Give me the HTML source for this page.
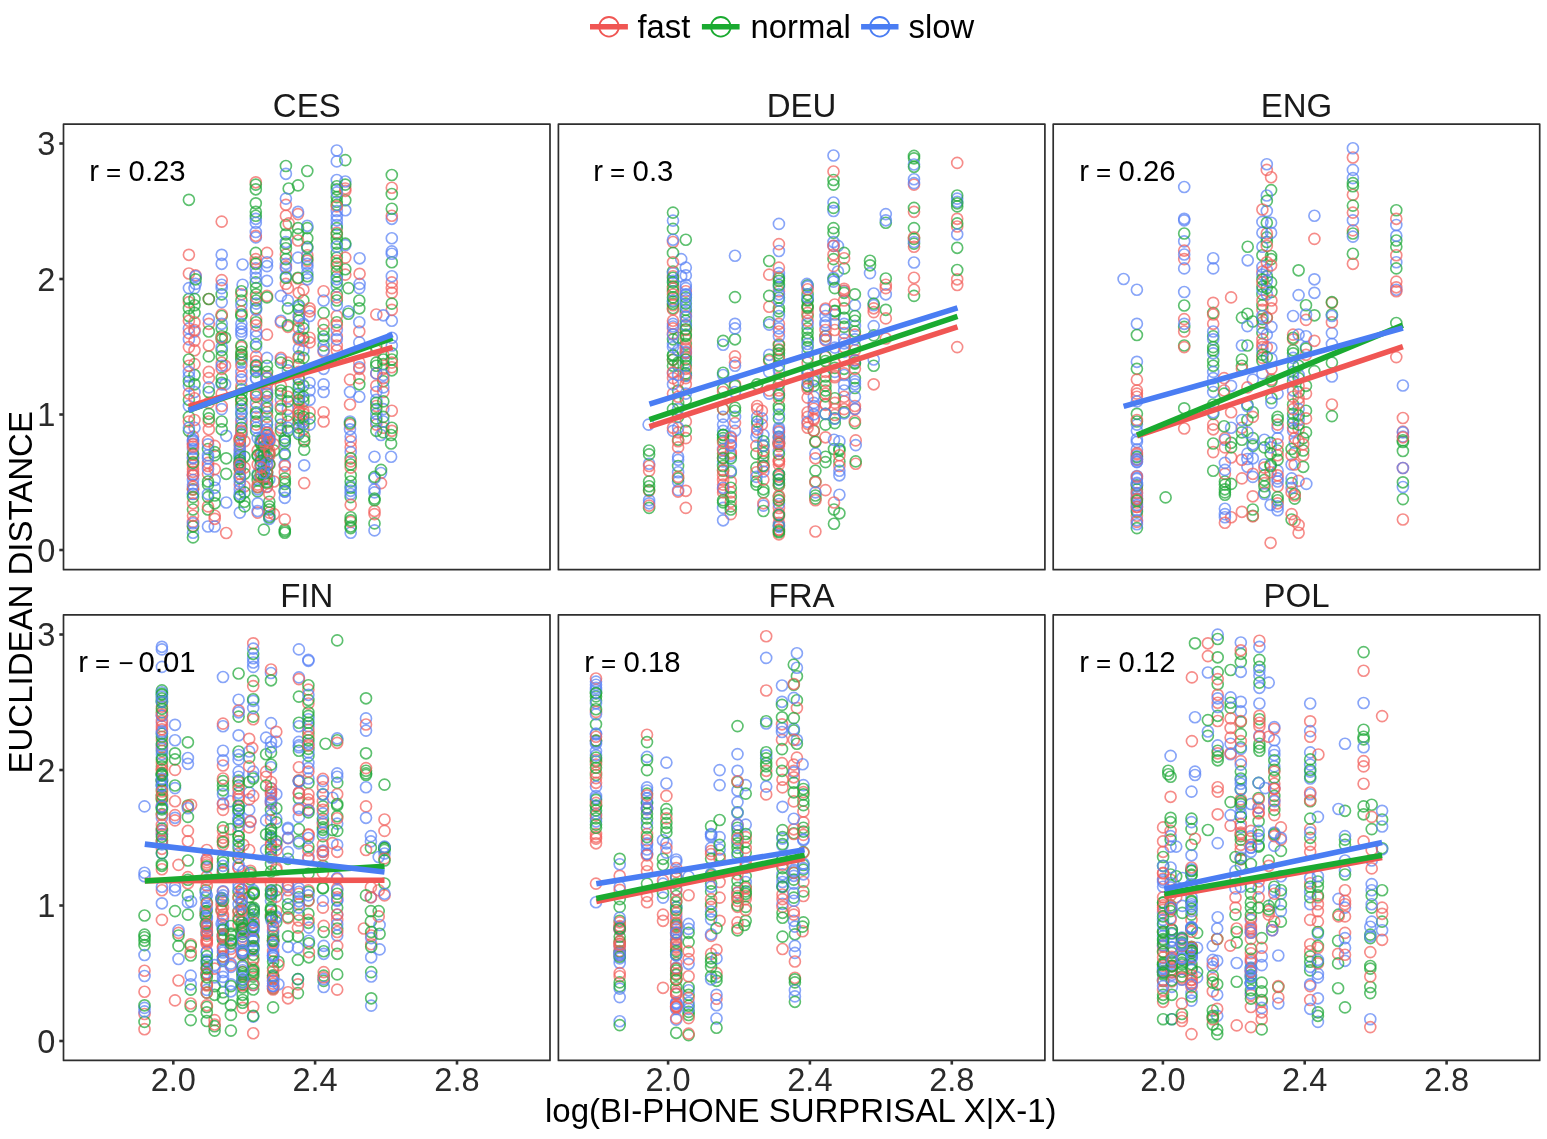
<!DOCTYPE html>
<html lang="en"><head><meta charset="utf-8"><title>Euclidean distance vs. bi-phone surprisal</title>
<style>html,body{margin:0;padding:0;background:#fff}body{width:1547px;height:1139px;overflow:hidden;font-family:"Liberation Sans",Arial,sans-serif}svg{display:block}.pts circle{fill:none;stroke-width:1.65px;stroke-opacity:.72}.f{stroke:#F25F5C}.n{stroke:#1FA838}.s{stroke:#5A82F5}</style>
</head><body>
<svg width="1547" height="1139" viewBox="0 0 1547 1139" font-family="Liberation Sans, Arial, sans-serif">
<rect width="1547" height="1139" fill="#fff"/>
<g class="pts">
<circle class="n" cx="257.7" cy="480.0" r="5.5"/><circle class="f" cx="267.0" cy="252.9" r="5.5"/><circle class="s" cx="188.9" cy="328.4" r="5.5"/><circle class="f" cx="214.7" cy="515.7" r="5.5"/><circle class="f" cx="287.9" cy="288.1" r="5.5"/><circle class="n" cx="267.0" cy="424.6" r="5.5"/><circle class="f" cx="285.9" cy="254.5" r="5.5"/><circle class="n" cx="374.5" cy="523.4" r="5.5"/><circle class="n" cx="307.3" cy="171.0" r="5.5"/><circle class="f" cx="359.3" cy="331.5" r="5.5"/><circle class="f" cx="304.2" cy="439.7" r="5.5"/><circle class="s" cx="280.9" cy="399.8" r="5.5"/><circle class="f" cx="307.3" cy="255.2" r="5.5"/><circle class="n" cx="273.9" cy="450.5" r="5.5"/><circle class="n" cx="256.1" cy="308.3" r="5.5"/><circle class="f" cx="303.4" cy="429.3" r="5.5"/><circle class="n" cx="336.8" cy="252.9" r="5.5"/><circle class="f" cx="239.8" cy="444.3" r="5.5"/><circle class="n" cx="226.2" cy="473.8" r="5.5"/><circle class="s" cx="241.4" cy="334.6" r="5.5"/><circle class="s" cx="226.2" cy="435.8" r="5.5"/><circle class="s" cx="336.8" cy="286.6" r="5.5"/><circle class="f" cx="239.8" cy="484.6" r="5.5"/><circle class="f" cx="267.0" cy="465.8" r="5.5"/><circle class="f" cx="350.7" cy="447.4" r="5.5"/><circle class="n" cx="239.8" cy="462.9" r="5.5"/><circle class="n" cx="336.8" cy="276.2" r="5.5"/><circle class="n" cx="284.8" cy="481.5" r="5.5"/><circle class="n" cx="350.7" cy="497.1" r="5.5"/><circle class="n" cx="241.4" cy="399.8" r="5.5"/><circle class="f" cx="376.3" cy="373.4" r="5.5"/><circle class="s" cx="241.4" cy="424.6" r="5.5"/><circle class="f" cx="208.0" cy="462.9" r="5.5"/><circle class="n" cx="260.8" cy="443.0" r="5.5"/><circle class="s" cx="193.0" cy="457.4" r="5.5"/><circle class="f" cx="350.0" cy="379.6" r="5.5"/><circle class="f" cx="241.4" cy="402.9" r="5.5"/><circle class="f" cx="298.0" cy="214.1" r="5.5"/><circle class="f" cx="267.0" cy="447.6" r="5.5"/><circle class="n" cx="298.8" cy="305.2" r="5.5"/><circle class="n" cx="307.3" cy="238.2" r="5.5"/><circle class="f" cx="241.4" cy="421.5" r="5.5"/><circle class="n" cx="303.4" cy="401.4" r="5.5"/><circle class="f" cx="391.8" cy="367.2" r="5.5"/><circle class="f" cx="323.6" cy="421.5" r="5.5"/><circle class="f" cx="193.0" cy="521.9" r="5.5"/><circle class="s" cx="336.8" cy="150.5" r="5.5"/><circle class="n" cx="383.3" cy="432.4" r="5.5"/><circle class="f" cx="323.6" cy="291.2" r="5.5"/><circle class="n" cx="323.6" cy="345.5" r="5.5"/><circle class="n" cx="267.0" cy="444.9" r="5.5"/><circle class="f" cx="256.1" cy="407.6" r="5.5"/><circle class="n" cx="241.4" cy="357.9" r="5.5"/><circle class="f" cx="298.8" cy="402.9" r="5.5"/><circle class="s" cx="260.8" cy="476.9" r="5.5"/><circle class="f" cx="298.8" cy="317.6" r="5.5"/><circle class="n" cx="304.2" cy="441.2" r="5.5"/><circle class="f" cx="244.5" cy="486.2" r="5.5"/><circle class="f" cx="298.0" cy="278.5" r="5.5"/><circle class="f" cx="267.0" cy="378.3" r="5.5"/><circle class="s" cx="221.7" cy="384.3" r="5.5"/><circle class="f" cx="256.1" cy="367.2" r="5.5"/><circle class="n" cx="336.8" cy="204.8" r="5.5"/><circle class="f" cx="285.9" cy="283.9" r="5.5"/><circle class="n" cx="298.8" cy="337.7" r="5.5"/><circle class="n" cx="241.4" cy="359.5" r="5.5"/><circle class="s" cx="241.4" cy="418.4" r="5.5"/><circle class="s" cx="383.3" cy="409.1" r="5.5"/><circle class="s" cx="323.6" cy="384.3" r="5.5"/><circle class="n" cx="239.8" cy="466.0" r="5.5"/><circle class="n" cx="285.9" cy="225.0" r="5.5"/><circle class="f" cx="255.8" cy="182.3" r="5.5"/><circle class="s" cx="303.4" cy="350.2" r="5.5"/><circle class="f" cx="359.3" cy="362.6" r="5.5"/><circle class="s" cx="345.3" cy="245.1" r="5.5"/><circle class="n" cx="298.8" cy="320.7" r="5.5"/><circle class="n" cx="267.0" cy="435.2" r="5.5"/><circle class="s" cx="221.7" cy="409.1" r="5.5"/><circle class="f" cx="208.8" cy="421.5" r="5.5"/><circle class="n" cx="298.8" cy="356.4" r="5.5"/><circle class="f" cx="208.0" cy="466.0" r="5.5"/><circle class="n" cx="350.7" cy="487.7" r="5.5"/><circle class="s" cx="298.8" cy="316.0" r="5.5"/><circle class="n" cx="256.1" cy="412.2" r="5.5"/><circle class="n" cx="336.8" cy="322.2" r="5.5"/><circle class="s" cx="359.3" cy="396.7" r="5.5"/><circle class="f" cx="336.8" cy="350.2" r="5.5"/><circle class="n" cx="256.1" cy="421.5" r="5.5"/><circle class="f" cx="280.9" cy="385.8" r="5.5"/><circle class="n" cx="336.8" cy="282.4" r="5.5"/><circle class="f" cx="193.0" cy="469.1" r="5.5"/><circle class="n" cx="263.9" cy="478.4" r="5.5"/><circle class="f" cx="239.8" cy="449.1" r="5.5"/><circle class="n" cx="336.8" cy="197.1" r="5.5"/><circle class="n" cx="345.3" cy="160.1" r="5.5"/><circle class="f" cx="269.3" cy="463.6" r="5.5"/><circle class="n" cx="323.6" cy="312.9" r="5.5"/><circle class="n" cx="255.8" cy="282.4" r="5.5"/><circle class="s" cx="298.8" cy="420.0" r="5.5"/><circle class="n" cx="221.7" cy="429.3" r="5.5"/><circle class="n" cx="257.7" cy="456.0" r="5.5"/><circle class="n" cx="193.0" cy="489.3" r="5.5"/><circle class="s" cx="194.5" cy="427.7" r="5.5"/><circle class="n" cx="298.8" cy="393.6" r="5.5"/><circle class="s" cx="284.8" cy="455.2" r="5.5"/><circle class="f" cx="257.7" cy="450.5" r="5.5"/><circle class="f" cx="336.8" cy="316.0" r="5.5"/><circle class="n" cx="345.3" cy="200.2" r="5.5"/><circle class="s" cx="309.6" cy="390.5" r="5.5"/><circle class="n" cx="303.4" cy="300.5" r="5.5"/><circle class="s" cx="323.6" cy="392.0" r="5.5"/><circle class="f" cx="391.8" cy="292.8" r="5.5"/><circle class="f" cx="345.3" cy="274.6" r="5.5"/><circle class="n" cx="267.0" cy="412.2" r="5.5"/><circle class="f" cx="298.8" cy="409.1" r="5.5"/><circle class="n" cx="336.8" cy="238.9" r="5.5"/><circle class="s" cx="376.3" cy="392.0" r="5.5"/><circle class="n" cx="260.8" cy="452.9" r="5.5"/><circle class="n" cx="298.8" cy="415.3" r="5.5"/><circle class="s" cx="323.6" cy="339.3" r="5.5"/><circle class="n" cx="260.8" cy="465.2" r="5.5"/><circle class="s" cx="214.7" cy="526.5" r="5.5"/><circle class="s" cx="285.9" cy="263.8" r="5.5"/><circle class="n" cx="263.9" cy="439.3" r="5.5"/><circle class="n" cx="336.8" cy="300.5" r="5.5"/><circle class="s" cx="257.7" cy="473.7" r="5.5"/><circle class="n" cx="391.1" cy="443.5" r="5.5"/><circle class="f" cx="263.9" cy="477.0" r="5.5"/><circle class="n" cx="284.8" cy="531.2" r="5.5"/><circle class="f" cx="241.4" cy="294.3" r="5.5"/><circle class="s" cx="221.7" cy="254.8" r="5.5"/><circle class="n" cx="208.0" cy="509.5" r="5.5"/><circle class="s" cx="214.7" cy="480.0" r="5.5"/><circle class="s" cx="193.0" cy="532.7" r="5.5"/><circle class="f" cx="280.9" cy="322.2" r="5.5"/><circle class="n" cx="267.0" cy="408.3" r="5.5"/><circle class="s" cx="336.8" cy="180.0" r="5.5"/><circle class="f" cx="241.4" cy="347.1" r="5.5"/><circle class="s" cx="267.0" cy="472.5" r="5.5"/><circle class="n" cx="260.8" cy="441.2" r="5.5"/><circle class="n" cx="345.3" cy="269.2" r="5.5"/><circle class="f" cx="391.8" cy="187.7" r="5.5"/><circle class="n" cx="391.8" cy="262.2" r="5.5"/><circle class="n" cx="256.1" cy="294.3" r="5.5"/><circle class="f" cx="193.0" cy="436.6" r="5.5"/><circle class="f" cx="194.5" cy="364.1" r="5.5"/><circle class="n" cx="208.0" cy="449.0" r="5.5"/><circle class="f" cx="208.8" cy="371.9" r="5.5"/><circle class="n" cx="221.7" cy="294.3" r="5.5"/><circle class="f" cx="269.3" cy="455.5" r="5.5"/><circle class="n" cx="221.7" cy="316.0" r="5.5"/><circle class="s" cx="239.8" cy="458.3" r="5.5"/><circle class="n" cx="287.9" cy="421.5" r="5.5"/><circle class="s" cx="193.0" cy="440.4" r="5.5"/><circle class="s" cx="298.8" cy="306.7" r="5.5"/><circle class="s" cx="267.0" cy="390.5" r="5.5"/><circle class="n" cx="284.8" cy="532.7" r="5.5"/><circle class="n" cx="383.3" cy="381.2" r="5.5"/><circle class="s" cx="263.9" cy="465.5" r="5.5"/><circle class="n" cx="307.3" cy="228.1" r="5.5"/><circle class="s" cx="374.5" cy="478.4" r="5.5"/><circle class="s" cx="359.3" cy="322.2" r="5.5"/><circle class="f" cx="376.3" cy="424.6" r="5.5"/><circle class="f" cx="221.7" cy="362.6" r="5.5"/><circle class="f" cx="285.9" cy="266.9" r="5.5"/><circle class="f" cx="221.7" cy="221.6" r="5.5"/><circle class="s" cx="239.8" cy="512.6" r="5.5"/><circle class="n" cx="257.7" cy="491.4" r="5.5"/><circle class="f" cx="383.3" cy="427.7" r="5.5"/><circle class="n" cx="336.8" cy="257.6" r="5.5"/><circle class="s" cx="307.3" cy="273.1" r="5.5"/><circle class="n" cx="260.8" cy="443.7" r="5.5"/><circle class="s" cx="350.7" cy="494.0" r="5.5"/><circle class="n" cx="307.3" cy="276.2" r="5.5"/><circle class="n" cx="188.9" cy="199.8" r="5.5"/><circle class="f" cx="303.4" cy="289.7" r="5.5"/><circle class="n" cx="208.8" cy="418.4" r="5.5"/><circle class="n" cx="241.4" cy="413.8" r="5.5"/><circle class="n" cx="194.5" cy="312.9" r="5.5"/><circle class="s" cx="391.8" cy="320.7" r="5.5"/><circle class="s" cx="298.8" cy="336.2" r="5.5"/><circle class="s" cx="208.0" cy="526.5" r="5.5"/><circle class="f" cx="383.3" cy="368.8" r="5.5"/><circle class="s" cx="188.9" cy="406.0" r="5.5"/><circle class="s" cx="188.9" cy="339.3" r="5.5"/><circle class="n" cx="241.4" cy="300.5" r="5.5"/><circle class="f" cx="193.0" cy="489.5" r="5.5"/><circle class="n" cx="241.4" cy="434.4" r="5.5"/><circle class="f" cx="193.0" cy="525.9" r="5.5"/><circle class="n" cx="269.3" cy="509.5" r="5.5"/><circle class="s" cx="391.8" cy="218.8" r="5.5"/><circle class="s" cx="285.9" cy="276.2" r="5.5"/><circle class="s" cx="287.9" cy="409.1" r="5.5"/><circle class="s" cx="284.8" cy="464.5" r="5.5"/><circle class="f" cx="241.4" cy="376.5" r="5.5"/><circle class="f" cx="285.9" cy="204.8" r="5.5"/><circle class="n" cx="194.5" cy="305.2" r="5.5"/><circle class="n" cx="241.4" cy="316.0" r="5.5"/><circle class="s" cx="391.8" cy="238.2" r="5.5"/><circle class="s" cx="225.1" cy="384.3" r="5.5"/><circle class="s" cx="381.0" cy="473.0" r="5.5"/><circle class="n" cx="323.6" cy="330.0" r="5.5"/><circle class="n" cx="239.8" cy="455.2" r="5.5"/><circle class="n" cx="256.1" cy="413.7" r="5.5"/><circle class="f" cx="309.6" cy="337.7" r="5.5"/><circle class="f" cx="256.1" cy="319.1" r="5.5"/><circle class="f" cx="267.0" cy="392.7" r="5.5"/><circle class="f" cx="239.8" cy="468.7" r="5.5"/><circle class="s" cx="336.8" cy="225.0" r="5.5"/><circle class="n" cx="298.8" cy="309.8" r="5.5"/><circle class="n" cx="239.8" cy="497.1" r="5.5"/><circle class="f" cx="350.0" cy="404.5" r="5.5"/><circle class="f" cx="298.8" cy="401.0" r="5.5"/><circle class="s" cx="239.8" cy="462.8" r="5.5"/><circle class="s" cx="221.7" cy="288.1" r="5.5"/><circle class="f" cx="391.8" cy="282.4" r="5.5"/><circle class="n" cx="336.8" cy="294.3" r="5.5"/><circle class="n" cx="336.8" cy="201.7" r="5.5"/><circle class="f" cx="350.7" cy="441.2" r="5.5"/><circle class="f" cx="239.8" cy="438.1" r="5.5"/><circle class="f" cx="257.7" cy="512.6" r="5.5"/><circle class="s" cx="193.0" cy="441.7" r="5.5"/><circle class="n" cx="214.7" cy="495.5" r="5.5"/><circle class="f" cx="304.2" cy="483.1" r="5.5"/><circle class="s" cx="350.7" cy="486.2" r="5.5"/><circle class="n" cx="280.9" cy="409.1" r="5.5"/><circle class="s" cx="256.1" cy="365.1" r="5.5"/><circle class="n" cx="381.0" cy="469.9" r="5.5"/><circle class="s" cx="269.3" cy="515.7" r="5.5"/><circle class="f" cx="309.6" cy="412.2" r="5.5"/><circle class="f" cx="280.9" cy="427.7" r="5.5"/><circle class="f" cx="263.9" cy="441.8" r="5.5"/><circle class="f" cx="336.8" cy="345.5" r="5.5"/><circle class="f" cx="376.3" cy="385.8" r="5.5"/><circle class="s" cx="359.3" cy="367.2" r="5.5"/><circle class="n" cx="255.8" cy="252.9" r="5.5"/><circle class="s" cx="263.9" cy="438.4" r="5.5"/><circle class="n" cx="257.7" cy="487.2" r="5.5"/><circle class="s" cx="241.4" cy="413.0" r="5.5"/><circle class="f" cx="303.4" cy="410.7" r="5.5"/><circle class="n" cx="193.0" cy="509.5" r="5.5"/><circle class="n" cx="287.9" cy="365.7" r="5.5"/><circle class="n" cx="244.5" cy="506.4" r="5.5"/><circle class="f" cx="193.0" cy="475.4" r="5.5"/><circle class="s" cx="269.3" cy="479.2" r="5.5"/><circle class="f" cx="376.3" cy="314.5" r="5.5"/><circle class="f" cx="241.4" cy="354.6" r="5.5"/><circle class="s" cx="256.1" cy="378.1" r="5.5"/><circle class="n" cx="263.9" cy="453.3" r="5.5"/><circle class="n" cx="244.5" cy="501.7" r="5.5"/><circle class="f" cx="208.8" cy="299.0" r="5.5"/><circle class="f" cx="269.3" cy="436.2" r="5.5"/><circle class="f" cx="376.3" cy="350.2" r="5.5"/><circle class="n" cx="280.9" cy="390.5" r="5.5"/><circle class="s" cx="391.8" cy="253.7" r="5.5"/><circle class="n" cx="269.3" cy="464.5" r="5.5"/><circle class="f" cx="269.3" cy="438.1" r="5.5"/><circle class="s" cx="359.3" cy="288.1" r="5.5"/><circle class="s" cx="263.9" cy="460.0" r="5.5"/><circle class="s" cx="391.8" cy="251.4" r="5.5"/><circle class="s" cx="255.8" cy="237.4" r="5.5"/><circle class="s" cx="242.6" cy="284.7" r="5.5"/><circle class="f" cx="376.3" cy="406.0" r="5.5"/><circle class="s" cx="284.8" cy="440.4" r="5.5"/><circle class="f" cx="336.8" cy="266.9" r="5.5"/><circle class="s" cx="239.8" cy="453.2" r="5.5"/><circle class="f" cx="298.8" cy="424.6" r="5.5"/><circle class="f" cx="298.8" cy="357.9" r="5.5"/><circle class="n" cx="194.5" cy="375.0" r="5.5"/><circle class="n" cx="285.9" cy="243.6" r="5.5"/><circle class="f" cx="273.9" cy="514.1" r="5.5"/><circle class="s" cx="221.7" cy="302.1" r="5.5"/><circle class="s" cx="383.3" cy="421.5" r="5.5"/><circle class="f" cx="307.3" cy="260.7" r="5.5"/><circle class="n" cx="239.8" cy="441.2" r="5.5"/><circle class="s" cx="256.1" cy="402.9" r="5.5"/><circle class="n" cx="336.8" cy="228.1" r="5.5"/><circle class="n" cx="188.9" cy="399.8" r="5.5"/><circle class="f" cx="381.0" cy="483.1" r="5.5"/><circle class="f" cx="267.0" cy="376.1" r="5.5"/><circle class="n" cx="256.1" cy="300.5" r="5.5"/><circle class="f" cx="195.6" cy="275.4" r="5.5"/><circle class="f" cx="383.3" cy="392.0" r="5.5"/><circle class="n" cx="298.8" cy="399.8" r="5.5"/><circle class="f" cx="267.0" cy="334.6" r="5.5"/><circle class="n" cx="350.7" cy="481.5" r="5.5"/><circle class="n" cx="221.7" cy="339.3" r="5.5"/><circle class="f" cx="267.0" cy="384.3" r="5.5"/><circle class="s" cx="188.9" cy="376.5" r="5.5"/><circle class="s" cx="383.3" cy="387.4" r="5.5"/><circle class="f" cx="298.8" cy="412.1" r="5.5"/><circle class="s" cx="241.4" cy="362.6" r="5.5"/><circle class="n" cx="241.4" cy="351.7" r="5.5"/><circle class="f" cx="221.7" cy="314.5" r="5.5"/><circle class="s" cx="239.8" cy="457.0" r="5.5"/><circle class="s" cx="260.8" cy="457.2" r="5.5"/><circle class="f" cx="287.9" cy="326.9" r="5.5"/><circle class="s" cx="284.8" cy="444.3" r="5.5"/><circle class="f" cx="267.0" cy="401.4" r="5.5"/><circle class="s" cx="350.0" cy="421.5" r="5.5"/><circle class="n" cx="239.8" cy="469.1" r="5.5"/><circle class="f" cx="374.5" cy="514.1" r="5.5"/><circle class="s" cx="298.8" cy="396.7" r="5.5"/><circle class="n" cx="256.1" cy="430.8" r="5.5"/><circle class="n" cx="244.5" cy="473.8" r="5.5"/><circle class="f" cx="188.9" cy="273.5" r="5.5"/><circle class="n" cx="298.8" cy="434.1" r="5.5"/><circle class="f" cx="221.7" cy="406.0" r="5.5"/><circle class="s" cx="267.0" cy="393.9" r="5.5"/><circle class="f" cx="323.6" cy="351.7" r="5.5"/><circle class="s" cx="263.9" cy="453.7" r="5.5"/><circle class="n" cx="298.8" cy="418.0" r="5.5"/><circle class="s" cx="256.1" cy="347.1" r="5.5"/><circle class="s" cx="257.7" cy="489.3" r="5.5"/><circle class="s" cx="193.0" cy="494.0" r="5.5"/><circle class="f" cx="244.5" cy="441.2" r="5.5"/><circle class="n" cx="303.4" cy="396.7" r="5.5"/><circle class="f" cx="350.0" cy="424.6" r="5.5"/><circle class="f" cx="214.7" cy="469.1" r="5.5"/><circle class="s" cx="350.7" cy="436.6" r="5.5"/><circle class="n" cx="221.7" cy="421.5" r="5.5"/><circle class="n" cx="241.4" cy="389.3" r="5.5"/><circle class="s" cx="350.0" cy="429.3" r="5.5"/><circle class="f" cx="336.8" cy="336.2" r="5.5"/><circle class="s" cx="376.3" cy="399.8" r="5.5"/><circle class="n" cx="208.8" cy="356.4" r="5.5"/><circle class="f" cx="273.9" cy="444.3" r="5.5"/><circle class="n" cx="221.7" cy="336.2" r="5.5"/><circle class="s" cx="391.1" cy="456.7" r="5.5"/><circle class="s" cx="255.8" cy="277.7" r="5.5"/><circle class="f" cx="323.6" cy="323.8" r="5.5"/><circle class="f" cx="208.8" cy="323.8" r="5.5"/><circle class="f" cx="280.9" cy="406.0" r="5.5"/><circle class="s" cx="267.0" cy="262.2" r="5.5"/><circle class="f" cx="267.0" cy="295.9" r="5.5"/><circle class="s" cx="257.7" cy="438.1" r="5.5"/><circle class="s" cx="221.7" cy="284.7" r="5.5"/><circle class="s" cx="255.8" cy="268.4" r="5.5"/><circle class="s" cx="188.9" cy="385.8" r="5.5"/><circle class="s" cx="214.7" cy="487.7" r="5.5"/><circle class="f" cx="188.9" cy="347.1" r="5.5"/><circle class="f" cx="188.9" cy="302.1" r="5.5"/><circle class="s" cx="241.4" cy="432.4" r="5.5"/><circle class="n" cx="376.3" cy="365.7" r="5.5"/><circle class="s" cx="267.0" cy="357.9" r="5.5"/><circle class="s" cx="194.5" cy="331.5" r="5.5"/><circle class="n" cx="267.0" cy="456.8" r="5.5"/><circle class="n" cx="336.8" cy="186.2" r="5.5"/><circle class="f" cx="226.2" cy="533.0" r="5.5"/><circle class="s" cx="239.8" cy="489.3" r="5.5"/><circle class="n" cx="193.0" cy="526.5" r="5.5"/><circle class="f" cx="267.0" cy="432.4" r="5.5"/><circle class="n" cx="269.3" cy="453.5" r="5.5"/><circle class="s" cx="239.8" cy="450.5" r="5.5"/><circle class="s" cx="374.5" cy="530.4" r="5.5"/><circle class="s" cx="193.0" cy="523.2" r="5.5"/><circle class="n" cx="263.9" cy="456.0" r="5.5"/><circle class="n" cx="194.5" cy="384.3" r="5.5"/><circle class="s" cx="350.7" cy="452.1" r="5.5"/><circle class="n" cx="298.8" cy="364.6" r="5.5"/><circle class="n" cx="188.9" cy="430.8" r="5.5"/><circle class="s" cx="381.0" cy="435.0" r="5.5"/><circle class="f" cx="193.0" cy="462.0" r="5.5"/><circle class="s" cx="280.9" cy="424.6" r="5.5"/><circle class="n" cx="188.9" cy="416.9" r="5.5"/><circle class="n" cx="303.4" cy="385.8" r="5.5"/><circle class="f" cx="257.7" cy="464.5" r="5.5"/><circle class="n" cx="241.4" cy="400.0" r="5.5"/><circle class="s" cx="303.4" cy="323.8" r="5.5"/><circle class="n" cx="244.5" cy="492.4" r="5.5"/><circle class="s" cx="350.7" cy="532.7" r="5.5"/><circle class="n" cx="221.7" cy="328.4" r="5.5"/><circle class="f" cx="298.8" cy="292.8" r="5.5"/><circle class="f" cx="345.3" cy="190.8" r="5.5"/><circle class="n" cx="267.0" cy="396.7" r="5.5"/><circle class="f" cx="391.8" cy="430.8" r="5.5"/><circle class="n" cx="280.9" cy="418.4" r="5.5"/><circle class="n" cx="284.8" cy="441.2" r="5.5"/><circle class="s" cx="309.6" cy="399.8" r="5.5"/><circle class="s" cx="193.0" cy="474.5" r="5.5"/><circle class="n" cx="391.1" cy="435.0" r="5.5"/><circle class="s" cx="285.9" cy="242.0" r="5.5"/><circle class="n" cx="303.4" cy="424.6" r="5.5"/><circle class="n" cx="391.8" cy="175.0" r="5.5"/><circle class="s" cx="257.7" cy="511.0" r="5.5"/><circle class="s" cx="336.8" cy="305.2" r="5.5"/><circle class="f" cx="267.0" cy="416.9" r="5.5"/><circle class="n" cx="221.7" cy="382.7" r="5.5"/><circle class="n" cx="188.9" cy="381.2" r="5.5"/><circle class="s" cx="239.8" cy="464.3" r="5.5"/><circle class="n" cx="256.1" cy="322.2" r="5.5"/><circle class="s" cx="298.0" cy="257.6" r="5.5"/><circle class="n" cx="284.8" cy="529.6" r="5.5"/><circle class="f" cx="383.3" cy="354.8" r="5.5"/><circle class="n" cx="256.1" cy="396.7" r="5.5"/><circle class="s" cx="280.9" cy="320.7" r="5.5"/><circle class="s" cx="256.1" cy="370.3" r="5.5"/><circle class="n" cx="285.9" cy="234.3" r="5.5"/><circle class="f" cx="214.7" cy="445.9" r="5.5"/><circle class="n" cx="263.9" cy="529.6" r="5.5"/><circle class="s" cx="280.9" cy="359.5" r="5.5"/><circle class="f" cx="208.0" cy="473.8" r="5.5"/><circle class="n" cx="298.0" cy="234.3" r="5.5"/><circle class="n" cx="239.8" cy="478.0" r="5.5"/><circle class="n" cx="350.7" cy="475.3" r="5.5"/><circle class="s" cx="208.8" cy="319.1" r="5.5"/><circle class="f" cx="188.9" cy="421.5" r="5.5"/><circle class="s" cx="374.5" cy="456.7" r="5.5"/><circle class="n" cx="263.9" cy="479.3" r="5.5"/><circle class="f" cx="391.8" cy="288.1" r="5.5"/><circle class="s" cx="359.6" cy="258.3" r="5.5"/><circle class="f" cx="241.4" cy="311.4" r="5.5"/><circle class="s" cx="195.6" cy="283.9" r="5.5"/><circle class="s" cx="267.0" cy="486.6" r="5.5"/><circle class="f" cx="193.0" cy="465.1" r="5.5"/><circle class="f" cx="391.8" cy="215.7" r="5.5"/><circle class="s" cx="285.9" cy="268.4" r="5.5"/><circle class="n" cx="287.9" cy="308.3" r="5.5"/><circle class="n" cx="391.8" cy="359.5" r="5.5"/><circle class="s" cx="336.8" cy="330.0" r="5.5"/><circle class="f" cx="193.0" cy="455.0" r="5.5"/><circle class="f" cx="287.9" cy="362.6" r="5.5"/><circle class="n" cx="188.9" cy="308.3" r="5.5"/><circle class="n" cx="208.0" cy="484.6" r="5.5"/><circle class="n" cx="284.8" cy="438.1" r="5.5"/><circle class="s" cx="239.8" cy="481.5" r="5.5"/><circle class="s" cx="287.9" cy="300.5" r="5.5"/><circle class="f" cx="214.7" cy="518.8" r="5.5"/><circle class="n" cx="255.8" cy="203.3" r="5.5"/><circle class="s" cx="255.8" cy="218.8" r="5.5"/><circle class="s" cx="336.8" cy="339.3" r="5.5"/><circle class="f" cx="255.8" cy="235.8" r="5.5"/><circle class="n" cx="287.9" cy="392.0" r="5.5"/><circle class="n" cx="241.4" cy="354.8" r="5.5"/><circle class="s" cx="391.8" cy="337.7" r="5.5"/><circle class="n" cx="374.5" cy="476.9" r="5.5"/><circle class="n" cx="391.8" cy="427.7" r="5.5"/><circle class="s" cx="307.3" cy="248.2" r="5.5"/><circle class="s" cx="345.3" cy="210.2" r="5.5"/><circle class="n" cx="239.8" cy="460.2" r="5.5"/><circle class="s" cx="193.0" cy="480.0" r="5.5"/><circle class="s" cx="256.1" cy="309.8" r="5.5"/><circle class="f" cx="336.8" cy="260.7" r="5.5"/><circle class="s" cx="241.4" cy="305.2" r="5.5"/><circle class="n" cx="383.3" cy="364.1" r="5.5"/><circle class="f" cx="298.8" cy="378.3" r="5.5"/><circle class="f" cx="336.8" cy="232.7" r="5.5"/><circle class="s" cx="256.1" cy="390.5" r="5.5"/><circle class="n" cx="288.7" cy="188.5" r="5.5"/><circle class="f" cx="208.0" cy="506.4" r="5.5"/><circle class="f" cx="350.7" cy="521.9" r="5.5"/><circle class="s" cx="287.9" cy="370.3" r="5.5"/><circle class="f" cx="269.3" cy="512.6" r="5.5"/><circle class="n" cx="267.0" cy="472.1" r="5.5"/><circle class="s" cx="260.8" cy="465.3" r="5.5"/><circle class="n" cx="350.7" cy="458.3" r="5.5"/><circle class="f" cx="208.8" cy="345.5" r="5.5"/><circle class="s" cx="298.8" cy="384.3" r="5.5"/><circle class="f" cx="193.0" cy="475.3" r="5.5"/><circle class="s" cx="374.5" cy="492.4" r="5.5"/><circle class="s" cx="263.9" cy="472.0" r="5.5"/><circle class="f" cx="255.8" cy="262.2" r="5.5"/><circle class="n" cx="267.0" cy="371.9" r="5.5"/><circle class="s" cx="350.0" cy="392.0" r="5.5"/><circle class="n" cx="214.7" cy="455.2" r="5.5"/><circle class="f" cx="256.1" cy="361.3" r="5.5"/><circle class="f" cx="194.5" cy="330.0" r="5.5"/><circle class="f" cx="336.8" cy="325.3" r="5.5"/><circle class="n" cx="267.0" cy="473.4" r="5.5"/><circle class="f" cx="359.3" cy="378.1" r="5.5"/><circle class="f" cx="260.8" cy="454.1" r="5.5"/><circle class="f" cx="303.4" cy="340.8" r="5.5"/><circle class="n" cx="208.0" cy="497.1" r="5.5"/><circle class="n" cx="391.8" cy="370.3" r="5.5"/><circle class="n" cx="226.2" cy="458.3" r="5.5"/><circle class="f" cx="239.8" cy="440.0" r="5.5"/><circle class="f" cx="194.5" cy="420.0" r="5.5"/><circle class="s" cx="257.7" cy="503.3" r="5.5"/><circle class="s" cx="323.6" cy="350.2" r="5.5"/><circle class="n" cx="214.7" cy="452.1" r="5.5"/><circle class="n" cx="221.7" cy="350.2" r="5.5"/><circle class="s" cx="208.0" cy="444.3" r="5.5"/><circle class="n" cx="256.1" cy="371.9" r="5.5"/><circle class="n" cx="280.9" cy="393.6" r="5.5"/><circle class="n" cx="359.3" cy="384.3" r="5.5"/><circle class="f" cx="350.7" cy="504.8" r="5.5"/><circle class="n" cx="225.1" cy="337.7" r="5.5"/><circle class="s" cx="239.8" cy="445.7" r="5.5"/><circle class="s" cx="226.2" cy="502.5" r="5.5"/><circle class="s" cx="269.3" cy="518.8" r="5.5"/><circle class="n" cx="391.8" cy="353.3" r="5.5"/><circle class="s" cx="221.7" cy="263.8" r="5.5"/><circle class="n" cx="359.3" cy="308.3" r="5.5"/><circle class="f" cx="391.8" cy="410.7" r="5.5"/><circle class="n" cx="336.8" cy="189.3" r="5.5"/><circle class="n" cx="350.7" cy="520.3" r="5.5"/><circle class="s" cx="284.8" cy="491.6" r="5.5"/><circle class="s" cx="241.4" cy="371.9" r="5.5"/><circle class="f" cx="257.7" cy="484.6" r="5.5"/><circle class="s" cx="267.0" cy="459.8" r="5.5"/><circle class="s" cx="307.3" cy="263.8" r="5.5"/><circle class="s" cx="193.0" cy="458.3" r="5.5"/><circle class="n" cx="376.3" cy="347.1" r="5.5"/><circle class="s" cx="267.0" cy="435.7" r="5.5"/><circle class="n" cx="267.0" cy="478.3" r="5.5"/><circle class="s" cx="269.3" cy="439.8" r="5.5"/><circle class="n" cx="307.3" cy="246.7" r="5.5"/><circle class="s" cx="263.9" cy="466.4" r="5.5"/><circle class="n" cx="239.8" cy="462.4" r="5.5"/><circle class="f" cx="193.0" cy="471.8" r="5.5"/><circle class="n" cx="214.7" cy="503.3" r="5.5"/><circle class="f" cx="345.3" cy="188.5" r="5.5"/><circle class="n" cx="284.8" cy="490.2" r="5.5"/><circle class="s" cx="193.0" cy="443.8" r="5.5"/><circle class="s" cx="193.0" cy="449.0" r="5.5"/><circle class="f" cx="391.8" cy="309.8" r="5.5"/><circle class="n" cx="391.8" cy="194.0" r="5.5"/><circle class="f" cx="256.1" cy="424.6" r="5.5"/><circle class="n" cx="285.9" cy="248.2" r="5.5"/><circle class="f" cx="208.8" cy="378.1" r="5.5"/><circle class="n" cx="336.8" cy="234.3" r="5.5"/><circle class="n" cx="298.8" cy="427.7" r="5.5"/><circle class="n" cx="257.7" cy="475.3" r="5.5"/><circle class="s" cx="376.3" cy="421.5" r="5.5"/><circle class="f" cx="263.9" cy="441.2" r="5.5"/><circle class="n" cx="391.8" cy="303.6" r="5.5"/><circle class="n" cx="255.8" cy="211.8" r="5.5"/><circle class="n" cx="263.9" cy="446.5" r="5.5"/><circle class="n" cx="304.2" cy="436.6" r="5.5"/><circle class="n" cx="336.8" cy="243.6" r="5.5"/><circle class="n" cx="255.8" cy="215.7" r="5.5"/><circle class="s" cx="255.8" cy="273.1" r="5.5"/><circle class="s" cx="256.1" cy="303.6" r="5.5"/><circle class="n" cx="287.9" cy="325.3" r="5.5"/><circle class="n" cx="336.8" cy="271.5" r="5.5"/><circle class="f" cx="267.0" cy="471.7" r="5.5"/><circle class="f" cx="208.8" cy="402.9" r="5.5"/><circle class="n" cx="241.4" cy="345.5" r="5.5"/><circle class="s" cx="336.8" cy="211.0" r="5.5"/><circle class="n" cx="241.4" cy="427.7" r="5.5"/><circle class="s" cx="255.8" cy="222.7" r="5.5"/><circle class="n" cx="188.9" cy="299.0" r="5.5"/><circle class="f" cx="269.3" cy="453.6" r="5.5"/><circle class="f" cx="267.0" cy="439.5" r="5.5"/><circle class="f" cx="284.8" cy="472.2" r="5.5"/><circle class="f" cx="193.0" cy="444.3" r="5.5"/><circle class="s" cx="345.3" cy="181.5" r="5.5"/><circle class="s" cx="267.0" cy="429.3" r="5.5"/><circle class="f" cx="298.0" cy="240.5" r="5.5"/><circle class="s" cx="323.6" cy="300.5" r="5.5"/><circle class="f" cx="287.9" cy="415.3" r="5.5"/><circle class="f" cx="241.4" cy="430.8" r="5.5"/><circle class="n" cx="303.4" cy="337.7" r="5.5"/><circle class="s" cx="359.6" cy="283.9" r="5.5"/><circle class="n" cx="307.3" cy="259.1" r="5.5"/><circle class="s" cx="208.0" cy="458.3" r="5.5"/><circle class="n" cx="376.3" cy="430.8" r="5.5"/><circle class="f" cx="239.8" cy="438.5" r="5.5"/><circle class="n" cx="303.4" cy="328.4" r="5.5"/><circle class="s" cx="195.6" cy="276.2" r="5.5"/><circle class="f" cx="350.7" cy="467.6" r="5.5"/><circle class="f" cx="194.5" cy="350.2" r="5.5"/><circle class="n" cx="285.9" cy="166.0" r="5.5"/><circle class="s" cx="303.4" cy="421.5" r="5.5"/><circle class="n" cx="260.8" cy="473.5" r="5.5"/><circle class="f" cx="256.1" cy="297.4" r="5.5"/><circle class="f" cx="269.3" cy="442.0" r="5.5"/><circle class="s" cx="188.9" cy="288.1" r="5.5"/><circle class="n" cx="267.0" cy="481.9" r="5.5"/><circle class="n" cx="348.4" cy="288.1" r="5.5"/><circle class="n" cx="255.8" cy="184.6" r="5.5"/><circle class="f" cx="256.1" cy="394.8" r="5.5"/><circle class="n" cx="193.0" cy="453.6" r="5.5"/><circle class="s" cx="267.0" cy="378.1" r="5.5"/><circle class="s" cx="298.8" cy="348.6" r="5.5"/><circle class="f" cx="298.8" cy="412.2" r="5.5"/><circle class="s" cx="208.0" cy="469.1" r="5.5"/><circle class="f" cx="288.7" cy="223.4" r="5.5"/><circle class="s" cx="348.4" cy="311.4" r="5.5"/><circle class="n" cx="208.0" cy="481.5" r="5.5"/><circle class="s" cx="307.3" cy="225.8" r="5.5"/><circle class="f" cx="221.7" cy="280.1" r="5.5"/><circle class="n" cx="221.7" cy="378.1" r="5.5"/><circle class="n" cx="280.9" cy="430.8" r="5.5"/><circle class="s" cx="221.7" cy="323.8" r="5.5"/><circle class="n" cx="188.9" cy="316.0" r="5.5"/><circle class="f" cx="221.7" cy="393.6" r="5.5"/><circle class="n" cx="257.7" cy="455.2" r="5.5"/><circle class="s" cx="256.1" cy="427.7" r="5.5"/><circle class="s" cx="193.0" cy="439.7" r="5.5"/><circle class="f" cx="336.8" cy="206.4" r="5.5"/><circle class="s" cx="336.8" cy="161.4" r="5.5"/><circle class="s" cx="221.7" cy="347.1" r="5.5"/><circle class="n" cx="208.8" cy="331.5" r="5.5"/><circle class="f" cx="241.4" cy="365.7" r="5.5"/><circle class="s" cx="208.0" cy="494.0" r="5.5"/><circle class="n" cx="269.3" cy="501.7" r="5.5"/><circle class="f" cx="188.9" cy="320.7" r="5.5"/><circle class="n" cx="239.8" cy="496.3" r="5.5"/><circle class="f" cx="244.5" cy="467.6" r="5.5"/><circle class="n" cx="267.0" cy="297.4" r="5.5"/><circle class="n" cx="241.4" cy="314.5" r="5.5"/><circle class="n" cx="348.4" cy="313.7" r="5.5"/><circle class="f" cx="285.9" cy="215.7" r="5.5"/><circle class="s" cx="376.3" cy="373.4" r="5.5"/><circle class="n" cx="303.4" cy="357.9" r="5.5"/><circle class="f" cx="208.8" cy="429.3" r="5.5"/><circle class="s" cx="284.8" cy="497.8" r="5.5"/><circle class="s" cx="208.0" cy="455.2" r="5.5"/><circle class="f" cx="188.9" cy="254.8" r="5.5"/><circle class="n" cx="376.3" cy="418.4" r="5.5"/><circle class="n" cx="284.8" cy="478.4" r="5.5"/><circle class="f" cx="193.0" cy="486.8" r="5.5"/><circle class="n" cx="298.8" cy="387.4" r="5.5"/><circle class="s" cx="193.0" cy="493.7" r="5.5"/><circle class="s" cx="376.3" cy="413.8" r="5.5"/><circle class="n" cx="255.8" cy="189.3" r="5.5"/><circle class="f" cx="188.9" cy="365.7" r="5.5"/><circle class="s" cx="280.9" cy="295.9" r="5.5"/><circle class="f" cx="267.0" cy="487.0" r="5.5"/><circle class="f" cx="194.5" cy="340.8" r="5.5"/><circle class="s" cx="359.3" cy="342.4" r="5.5"/><circle class="s" cx="267.0" cy="421.5" r="5.5"/><circle class="f" cx="350.7" cy="461.4" r="5.5"/><circle class="f" cx="284.8" cy="466.0" r="5.5"/><circle class="n" cx="241.4" cy="406.0" r="5.5"/><circle class="n" cx="350.7" cy="517.2" r="5.5"/><circle class="n" cx="284.8" cy="484.0" r="5.5"/><circle class="n" cx="376.3" cy="362.6" r="5.5"/><circle class="f" cx="303.4" cy="413.8" r="5.5"/><circle class="f" cx="221.7" cy="368.8" r="5.5"/><circle class="n" cx="350.7" cy="464.5" r="5.5"/><circle class="f" cx="267.0" cy="433.1" r="5.5"/><circle class="s" cx="267.0" cy="406.0" r="5.5"/><circle class="f" cx="273.9" cy="481.5" r="5.5"/><circle class="s" cx="239.8" cy="466.9" r="5.5"/><circle class="f" cx="225.1" cy="365.7" r="5.5"/><circle class="n" cx="269.3" cy="506.4" r="5.5"/><circle class="s" cx="374.5" cy="489.3" r="5.5"/><circle class="s" cx="188.9" cy="427.7" r="5.5"/><circle class="n" cx="345.3" cy="243.6" r="5.5"/><circle class="f" cx="193.0" cy="503.3" r="5.5"/><circle class="n" cx="383.3" cy="401.4" r="5.5"/><circle class="n" cx="350.7" cy="526.5" r="5.5"/><circle class="n" cx="345.3" cy="184.6" r="5.5"/><circle class="n" cx="193.0" cy="462.9" r="5.5"/><circle class="f" cx="256.1" cy="356.4" r="5.5"/><circle class="s" cx="194.5" cy="392.0" r="5.5"/><circle class="f" cx="298.8" cy="339.3" r="5.5"/><circle class="f" cx="280.9" cy="357.9" r="5.5"/><circle class="n" cx="244.5" cy="456.7" r="5.5"/><circle class="s" cx="256.1" cy="416.9" r="5.5"/><circle class="f" cx="255.8" cy="259.1" r="5.5"/><circle class="s" cx="194.5" cy="288.1" r="5.5"/><circle class="n" cx="256.1" cy="288.1" r="5.5"/><circle class="n" cx="359.3" cy="300.5" r="5.5"/><circle class="f" cx="359.3" cy="368.8" r="5.5"/><circle class="f" cx="256.1" cy="393.6" r="5.5"/><circle class="f" cx="188.9" cy="393.6" r="5.5"/><circle class="n" cx="376.3" cy="402.9" r="5.5"/><circle class="n" cx="350.7" cy="528.1" r="5.5"/><circle class="f" cx="374.5" cy="511.0" r="5.5"/><circle class="s" cx="383.3" cy="375.0" r="5.5"/><circle class="s" cx="208.8" cy="387.4" r="5.5"/><circle class="s" cx="298.0" cy="211.8" r="5.5"/><circle class="s" cx="241.4" cy="328.4" r="5.5"/><circle class="f" cx="298.8" cy="328.4" r="5.5"/><circle class="n" cx="304.2" cy="449.7" r="5.5"/><circle class="n" cx="303.4" cy="416.9" r="5.5"/><circle class="n" cx="284.8" cy="453.6" r="5.5"/><circle class="f" cx="345.3" cy="257.6" r="5.5"/><circle class="n" cx="193.0" cy="537.4" r="5.5"/><circle class="f" cx="241.4" cy="385.8" r="5.5"/><circle class="s" cx="287.9" cy="427.7" r="5.5"/><circle class="n" cx="298.8" cy="379.6" r="5.5"/><circle class="f" cx="383.3" cy="378.1" r="5.5"/><circle class="s" cx="307.3" cy="266.9" r="5.5"/><circle class="s" cx="267.0" cy="464.0" r="5.5"/><circle class="s" cx="255.8" cy="232.0" r="5.5"/><circle class="n" cx="323.6" cy="336.2" r="5.5"/><circle class="s" cx="284.8" cy="491.5" r="5.5"/><circle class="f" cx="257.7" cy="486.8" r="5.5"/><circle class="f" cx="188.9" cy="333.1" r="5.5"/><circle class="f" cx="309.6" cy="342.4" r="5.5"/><circle class="n" cx="267.0" cy="483.0" r="5.5"/><circle class="s" cx="307.3" cy="279.3" r="5.5"/><circle class="s" cx="241.4" cy="323.8" r="5.5"/><circle class="n" cx="194.5" cy="299.0" r="5.5"/><circle class="s" cx="267.0" cy="280.8" r="5.5"/><circle class="f" cx="221.7" cy="337.7" r="5.5"/><circle class="s" cx="391.8" cy="345.5" r="5.5"/><circle class="s" cx="242.6" cy="264.5" r="5.5"/><circle class="n" cx="188.9" cy="359.5" r="5.5"/><circle class="s" cx="241.4" cy="409.1" r="5.5"/><circle class="s" cx="350.7" cy="490.8" r="5.5"/><circle class="f" cx="194.5" cy="398.2" r="5.5"/><circle class="s" cx="309.6" cy="424.6" r="5.5"/><circle class="f" cx="193.0" cy="515.7" r="5.5"/><circle class="s" cx="309.6" cy="382.7" r="5.5"/><circle class="n" cx="391.8" cy="208.7" r="5.5"/><circle class="s" cx="323.6" cy="368.8" r="5.5"/><circle class="s" cx="256.1" cy="378.9" r="5.5"/><circle class="s" cx="309.6" cy="316.0" r="5.5"/><circle class="n" cx="287.9" cy="430.8" r="5.5"/><circle class="f" cx="391.8" cy="362.6" r="5.5"/><circle class="s" cx="336.8" cy="279.3" r="5.5"/><circle class="n" cx="269.3" cy="517.2" r="5.5"/><circle class="n" cx="376.3" cy="409.1" r="5.5"/><circle class="n" cx="260.8" cy="461.1" r="5.5"/><circle class="f" cx="260.8" cy="476.1" r="5.5"/><circle class="n" cx="280.9" cy="362.6" r="5.5"/><circle class="s" cx="304.2" cy="465.3" r="5.5"/><circle class="n" cx="221.7" cy="356.4" r="5.5"/><circle class="n" cx="195.6" cy="279.3" r="5.5"/><circle class="f" cx="287.9" cy="396.7" r="5.5"/><circle class="s" cx="188.9" cy="371.9" r="5.5"/><circle class="n" cx="336.8" cy="263.8" r="5.5"/><circle class="n" cx="298.0" cy="185.4" r="5.5"/><circle class="n" cx="193.0" cy="497.1" r="5.5"/><circle class="f" cx="269.3" cy="494.0" r="5.5"/><circle class="f" cx="208.0" cy="441.2" r="5.5"/><circle class="n" cx="256.1" cy="344.0" r="5.5"/><circle class="n" cx="285.9" cy="259.1" r="5.5"/><circle class="f" cx="239.8" cy="464.3" r="5.5"/><circle class="f" cx="239.8" cy="473.8" r="5.5"/><circle class="n" cx="298.0" cy="228.1" r="5.5"/><circle class="s" cx="298.8" cy="432.4" r="5.5"/><circle class="s" cx="256.1" cy="331.5" r="5.5"/><circle class="s" cx="285.9" cy="198.6" r="5.5"/><circle class="n" cx="208.8" cy="299.0" r="5.5"/><circle class="s" cx="241.4" cy="331.5" r="5.5"/><circle class="n" cx="241.4" cy="393.6" r="5.5"/><circle class="f" cx="309.6" cy="311.4" r="5.5"/><circle class="f" cx="194.5" cy="322.2" r="5.5"/><circle class="n" cx="383.3" cy="359.5" r="5.5"/><circle class="n" cx="208.8" cy="413.8" r="5.5"/><circle class="f" cx="323.6" cy="412.2" r="5.5"/><circle class="f" cx="193.0" cy="446.5" r="5.5"/><circle class="f" cx="284.8" cy="519.5" r="5.5"/><circle class="s" cx="336.8" cy="215.7" r="5.5"/><circle class="s" cx="269.3" cy="439.8" r="5.5"/><circle class="s" cx="241.4" cy="379.6" r="5.5"/><circle class="s" cx="239.8" cy="477.0" r="5.5"/><circle class="n" cx="287.9" cy="401.4" r="5.5"/><circle class="s" cx="256.1" cy="336.2" r="5.5"/><circle class="s" cx="336.8" cy="220.3" r="5.5"/><circle class="n" cx="374.5" cy="500.2" r="5.5"/><circle class="f" cx="359.6" cy="273.8" r="5.5"/><circle class="f" cx="336.8" cy="297.4" r="5.5"/><circle class="f" cx="269.3" cy="450.8" r="5.5"/><circle class="s" cx="260.8" cy="439.1" r="5.5"/><circle class="n" cx="298.0" cy="277.7" r="5.5"/><circle class="s" cx="193.0" cy="484.6" r="5.5"/><circle class="n" cx="383.3" cy="416.9" r="5.5"/><circle class="n" cx="374.5" cy="498.6" r="5.5"/><circle class="f" cx="309.6" cy="308.3" r="5.5"/><circle class="s" cx="239.8" cy="494.0" r="5.5"/><circle class="s" cx="267.0" cy="266.1" r="5.5"/><circle class="n" cx="285.9" cy="277.7" r="5.5"/><circle class="n" cx="255.8" cy="263.8" r="5.5"/><circle class="s" cx="336.8" cy="192.4" r="5.5"/><circle class="n" cx="309.6" cy="418.4" r="5.5"/><circle class="n" cx="208.8" cy="392.0" r="5.5"/><circle class="s" cx="221.7" cy="365.7" r="5.5"/><circle class="f" cx="298.8" cy="371.9" r="5.5"/><circle class="s" cx="285.9" cy="173.8" r="5.5"/><circle class="f" cx="256.1" cy="325.3" r="5.5"/><circle class="s" cx="391.8" cy="276.2" r="5.5"/><circle class="s" cx="263.9" cy="472.8" r="5.5"/><circle class="f" cx="260.8" cy="467.1" r="5.5"/><circle class="s" cx="383.3" cy="315.3" r="5.5"/><circle class="s" cx="336.8" cy="246.7" r="5.5"/><circle class="n" cx="350.0" cy="423.1" r="5.5"/><circle class="n" cx="267.0" cy="365.7" r="5.5"/><circle class="n" cx="256.1" cy="365.7" r="5.5"/><circle class="n" cx="241.4" cy="291.2" r="5.5"/>
<circle class="n" cx="807.6" cy="316.0" r="5.5"/><circle class="f" cx="778.9" cy="461.3" r="5.5"/><circle class="f" cx="957.2" cy="218.8" r="5.5"/><circle class="s" cx="807.6" cy="370.4" r="5.5"/><circle class="f" cx="769.2" cy="361.0" r="5.5"/><circle class="n" cx="914.0" cy="228.1" r="5.5"/><circle class="s" cx="681.2" cy="259.1" r="5.5"/><circle class="s" cx="778.9" cy="393.6" r="5.5"/><circle class="n" cx="834.8" cy="423.1" r="5.5"/><circle class="s" cx="723.1" cy="507.9" r="5.5"/><circle class="n" cx="807.6" cy="300.5" r="5.5"/><circle class="n" cx="885.8" cy="309.8" r="5.5"/><circle class="n" cx="778.9" cy="485.6" r="5.5"/><circle class="f" cx="778.9" cy="529.6" r="5.5"/><circle class="s" cx="685.8" cy="275.4" r="5.5"/><circle class="n" cx="723.1" cy="440.9" r="5.5"/><circle class="n" cx="854.9" cy="320.7" r="5.5"/><circle class="f" cx="685.8" cy="291.2" r="5.5"/><circle class="s" cx="885.8" cy="294.3" r="5.5"/><circle class="n" cx="673.0" cy="354.8" r="5.5"/><circle class="s" cx="778.9" cy="526.8" r="5.5"/><circle class="n" cx="685.8" cy="375.3" r="5.5"/><circle class="n" cx="673.0" cy="271.5" r="5.5"/><circle class="f" cx="735.0" cy="362.6" r="5.5"/><circle class="f" cx="723.1" cy="480.0" r="5.5"/><circle class="s" cx="873.7" cy="305.2" r="5.5"/><circle class="s" cx="763.4" cy="435.0" r="5.5"/><circle class="n" cx="730.8" cy="506.4" r="5.5"/><circle class="s" cx="685.8" cy="312.9" r="5.5"/><circle class="f" cx="757.2" cy="406.0" r="5.5"/><circle class="s" cx="673.0" cy="323.8" r="5.5"/><circle class="n" cx="778.9" cy="311.4" r="5.5"/><circle class="n" cx="685.8" cy="309.8" r="5.5"/><circle class="n" cx="685.8" cy="399.8" r="5.5"/><circle class="f" cx="778.9" cy="291.2" r="5.5"/><circle class="s" cx="763.4" cy="505.6" r="5.5"/><circle class="n" cx="825.5" cy="336.1" r="5.5"/><circle class="n" cx="813.8" cy="430.8" r="5.5"/><circle class="f" cx="778.9" cy="485.1" r="5.5"/><circle class="n" cx="678.1" cy="416.9" r="5.5"/><circle class="n" cx="678.1" cy="362.6" r="5.5"/><circle class="f" cx="807.6" cy="416.9" r="5.5"/><circle class="s" cx="730.8" cy="455.9" r="5.5"/><circle class="s" cx="844.1" cy="343.4" r="5.5"/><circle class="s" cx="844.1" cy="291.2" r="5.5"/><circle class="n" cx="685.8" cy="325.2" r="5.5"/><circle class="n" cx="825.5" cy="390.5" r="5.5"/><circle class="n" cx="673.0" cy="365.7" r="5.5"/><circle class="s" cx="957.2" cy="198.6" r="5.5"/><circle class="n" cx="723.1" cy="502.4" r="5.5"/><circle class="n" cx="844.1" cy="268.4" r="5.5"/><circle class="s" cx="844.1" cy="351.9" r="5.5"/><circle class="n" cx="807.6" cy="328.4" r="5.5"/><circle class="s" cx="723.1" cy="375.0" r="5.5"/><circle class="s" cx="761.9" cy="418.4" r="5.5"/><circle class="n" cx="778.9" cy="444.0" r="5.5"/><circle class="n" cx="833.5" cy="259.1" r="5.5"/><circle class="s" cx="685.8" cy="362.6" r="5.5"/><circle class="s" cx="833.5" cy="211.0" r="5.5"/><circle class="n" cx="914.0" cy="158.3" r="5.5"/><circle class="s" cx="914.0" cy="262.5" r="5.5"/><circle class="f" cx="807.6" cy="412.2" r="5.5"/><circle class="f" cx="778.9" cy="508.0" r="5.5"/><circle class="n" cx="833.5" cy="180.0" r="5.5"/><circle class="n" cx="839.4" cy="450.5" r="5.5"/><circle class="n" cx="778.9" cy="297.6" r="5.5"/><circle class="s" cx="854.9" cy="305.2" r="5.5"/><circle class="s" cx="813.8" cy="402.9" r="5.5"/><circle class="s" cx="678.1" cy="456.7" r="5.5"/><circle class="s" cx="813.8" cy="406.0" r="5.5"/><circle class="s" cx="769.2" cy="354.8" r="5.5"/><circle class="n" cx="723.1" cy="438.1" r="5.5"/><circle class="s" cx="778.9" cy="432.4" r="5.5"/><circle class="f" cx="807.6" cy="320.7" r="5.5"/><circle class="s" cx="723.1" cy="424.6" r="5.5"/><circle class="f" cx="649.1" cy="490.8" r="5.5"/><circle class="f" cx="815.4" cy="441.2" r="5.5"/><circle class="n" cx="807.6" cy="340.3" r="5.5"/><circle class="s" cx="649.1" cy="500.2" r="5.5"/><circle class="n" cx="735.0" cy="339.3" r="5.5"/><circle class="n" cx="834.0" cy="449.0" r="5.5"/><circle class="f" cx="854.9" cy="408.8" r="5.5"/><circle class="f" cx="834.8" cy="415.0" r="5.5"/><circle class="n" cx="685.8" cy="356.4" r="5.5"/><circle class="s" cx="778.9" cy="504.0" r="5.5"/><circle class="n" cx="873.7" cy="365.7" r="5.5"/><circle class="f" cx="673.0" cy="305.2" r="5.5"/><circle class="n" cx="885.8" cy="222.7" r="5.5"/><circle class="n" cx="673.0" cy="308.3" r="5.5"/><circle class="f" cx="730.8" cy="453.6" r="5.5"/><circle class="n" cx="813.8" cy="381.2" r="5.5"/><circle class="n" cx="685.8" cy="334.6" r="5.5"/><circle class="s" cx="673.0" cy="430.8" r="5.5"/><circle class="n" cx="807.6" cy="285.3" r="5.5"/><circle class="n" cx="834.8" cy="418.4" r="5.5"/><circle class="n" cx="833.5" cy="232.7" r="5.5"/><circle class="s" cx="778.9" cy="276.9" r="5.5"/><circle class="s" cx="763.4" cy="465.6" r="5.5"/><circle class="s" cx="778.9" cy="479.8" r="5.5"/><circle class="f" cx="854.9" cy="350.2" r="5.5"/><circle class="n" cx="778.9" cy="308.3" r="5.5"/><circle class="n" cx="778.9" cy="406.0" r="5.5"/><circle class="f" cx="914.0" cy="277.7" r="5.5"/><circle class="f" cx="778.9" cy="438.9" r="5.5"/><circle class="s" cx="844.1" cy="384.3" r="5.5"/><circle class="s" cx="778.9" cy="414.6" r="5.5"/><circle class="n" cx="815.4" cy="481.5" r="5.5"/><circle class="n" cx="730.8" cy="472.2" r="5.5"/><circle class="n" cx="778.9" cy="497.0" r="5.5"/><circle class="n" cx="678.1" cy="365.7" r="5.5"/><circle class="s" cx="837.9" cy="271.5" r="5.5"/><circle class="f" cx="723.1" cy="489.3" r="5.5"/><circle class="f" cx="685.8" cy="438.1" r="5.5"/><circle class="f" cx="855.7" cy="463.7" r="5.5"/><circle class="s" cx="834.8" cy="347.6" r="5.5"/><circle class="n" cx="834.0" cy="509.5" r="5.5"/><circle class="f" cx="761.9" cy="424.6" r="5.5"/><circle class="f" cx="673.0" cy="276.2" r="5.5"/><circle class="n" cx="807.6" cy="299.7" r="5.5"/><circle class="f" cx="673.0" cy="359.5" r="5.5"/><circle class="f" cx="673.0" cy="328.4" r="5.5"/><circle class="f" cx="825.5" cy="340.2" r="5.5"/><circle class="s" cx="649.1" cy="463.7" r="5.5"/><circle class="n" cx="678.1" cy="439.7" r="5.5"/><circle class="n" cx="685.8" cy="297.4" r="5.5"/><circle class="n" cx="756.4" cy="467.6" r="5.5"/><circle class="s" cx="735.0" cy="255.7" r="5.5"/><circle class="s" cx="813.8" cy="379.3" r="5.5"/><circle class="n" cx="723.1" cy="470.7" r="5.5"/><circle class="n" cx="673.0" cy="355.7" r="5.5"/><circle class="s" cx="807.6" cy="421.9" r="5.5"/><circle class="f" cx="756.4" cy="472.2" r="5.5"/><circle class="f" cx="730.8" cy="452.3" r="5.5"/><circle class="s" cx="730.8" cy="436.6" r="5.5"/><circle class="n" cx="854.9" cy="362.6" r="5.5"/><circle class="s" cx="854.9" cy="325.9" r="5.5"/><circle class="n" cx="815.4" cy="498.6" r="5.5"/><circle class="f" cx="778.9" cy="459.7" r="5.5"/><circle class="s" cx="914.0" cy="179.2" r="5.5"/><circle class="f" cx="778.9" cy="344.0" r="5.5"/><circle class="f" cx="778.9" cy="534.3" r="5.5"/><circle class="n" cx="678.1" cy="402.9" r="5.5"/><circle class="n" cx="778.9" cy="365.7" r="5.5"/><circle class="f" cx="855.7" cy="440.4" r="5.5"/><circle class="n" cx="844.1" cy="368.8" r="5.5"/><circle class="n" cx="815.4" cy="470.7" r="5.5"/><circle class="s" cx="839.4" cy="441.2" r="5.5"/><circle class="n" cx="769.2" cy="322.2" r="5.5"/><circle class="f" cx="685.8" cy="421.5" r="5.5"/><circle class="s" cx="854.9" cy="339.3" r="5.5"/><circle class="n" cx="914.0" cy="155.9" r="5.5"/><circle class="s" cx="673.0" cy="273.1" r="5.5"/><circle class="f" cx="807.6" cy="362.6" r="5.5"/><circle class="n" cx="834.8" cy="367.9" r="5.5"/><circle class="s" cx="839.4" cy="494.7" r="5.5"/><circle class="n" cx="723.1" cy="372.7" r="5.5"/><circle class="s" cx="844.1" cy="390.5" r="5.5"/><circle class="s" cx="735.0" cy="323.8" r="5.5"/><circle class="f" cx="685.8" cy="384.3" r="5.5"/><circle class="s" cx="673.0" cy="280.8" r="5.5"/><circle class="f" cx="685.8" cy="349.0" r="5.5"/><circle class="f" cx="957.2" cy="279.3" r="5.5"/><circle class="n" cx="685.8" cy="303.6" r="5.5"/><circle class="f" cx="844.1" cy="396.7" r="5.5"/><circle class="f" cx="825.5" cy="490.1" r="5.5"/><circle class="f" cx="885.8" cy="284.7" r="5.5"/><circle class="s" cx="833.5" cy="155.5" r="5.5"/><circle class="f" cx="778.9" cy="443.7" r="5.5"/><circle class="n" cx="825.5" cy="424.6" r="5.5"/><circle class="f" cx="957.2" cy="226.5" r="5.5"/><circle class="n" cx="673.0" cy="286.6" r="5.5"/><circle class="s" cx="769.2" cy="324.6" r="5.5"/><circle class="s" cx="673.0" cy="343.5" r="5.5"/><circle class="s" cx="778.9" cy="294.3" r="5.5"/><circle class="f" cx="769.2" cy="306.7" r="5.5"/><circle class="f" cx="885.8" cy="338.5" r="5.5"/><circle class="f" cx="778.9" cy="522.7" r="5.5"/><circle class="n" cx="723.1" cy="453.6" r="5.5"/><circle class="s" cx="673.0" cy="373.4" r="5.5"/><circle class="f" cx="813.8" cy="430.4" r="5.5"/><circle class="f" cx="778.9" cy="530.0" r="5.5"/><circle class="n" cx="914.0" cy="243.6" r="5.5"/><circle class="n" cx="778.9" cy="356.4" r="5.5"/><circle class="s" cx="844.1" cy="375.0" r="5.5"/><circle class="f" cx="813.8" cy="408.7" r="5.5"/><circle class="n" cx="756.4" cy="484.6" r="5.5"/><circle class="f" cx="763.4" cy="461.4" r="5.5"/><circle class="n" cx="673.0" cy="277.7" r="5.5"/><circle class="n" cx="778.9" cy="525.6" r="5.5"/><circle class="f" cx="854.9" cy="359.8" r="5.5"/><circle class="f" cx="730.8" cy="492.4" r="5.5"/><circle class="f" cx="778.9" cy="499.5" r="5.5"/><circle class="n" cx="813.8" cy="385.8" r="5.5"/><circle class="n" cx="756.4" cy="481.5" r="5.5"/><circle class="s" cx="854.9" cy="409.1" r="5.5"/><circle class="s" cx="833.5" cy="202.5" r="5.5"/><circle class="n" cx="649.1" cy="507.9" r="5.5"/><circle class="n" cx="763.4" cy="492.4" r="5.5"/><circle class="n" cx="685.8" cy="344.0" r="5.5"/><circle class="s" cx="837.9" cy="245.9" r="5.5"/><circle class="f" cx="825.5" cy="336.2" r="5.5"/><circle class="n" cx="685.8" cy="320.7" r="5.5"/><circle class="s" cx="778.9" cy="287.1" r="5.5"/><circle class="n" cx="763.4" cy="489.3" r="5.5"/><circle class="n" cx="778.9" cy="418.4" r="5.5"/><circle class="s" cx="778.9" cy="273.1" r="5.5"/><circle class="f" cx="807.6" cy="427.7" r="5.5"/><circle class="n" cx="834.0" cy="523.7" r="5.5"/><circle class="s" cx="723.1" cy="344.7" r="5.5"/><circle class="f" cx="844.1" cy="401.5" r="5.5"/><circle class="f" cx="825.5" cy="357.0" r="5.5"/><circle class="s" cx="685.8" cy="353.2" r="5.5"/><circle class="n" cx="839.4" cy="449.0" r="5.5"/><circle class="s" cx="723.1" cy="461.4" r="5.5"/><circle class="f" cx="873.7" cy="312.1" r="5.5"/><circle class="n" cx="833.5" cy="184.6" r="5.5"/><circle class="f" cx="673.0" cy="393.6" r="5.5"/><circle class="s" cx="769.2" cy="371.9" r="5.5"/><circle class="s" cx="685.8" cy="284.7" r="5.5"/><circle class="f" cx="825.5" cy="404.8" r="5.5"/><circle class="n" cx="673.0" cy="339.3" r="5.5"/><circle class="n" cx="834.8" cy="398.2" r="5.5"/><circle class="n" cx="839.4" cy="461.4" r="5.5"/><circle class="f" cx="834.8" cy="323.8" r="5.5"/><circle class="n" cx="685.8" cy="365.7" r="5.5"/><circle class="s" cx="685.8" cy="294.3" r="5.5"/><circle class="s" cx="825.5" cy="322.2" r="5.5"/><circle class="n" cx="807.6" cy="371.9" r="5.5"/><circle class="n" cx="673.0" cy="359.8" r="5.5"/><circle class="s" cx="873.7" cy="359.5" r="5.5"/><circle class="f" cx="685.8" cy="316.0" r="5.5"/><circle class="s" cx="678.1" cy="481.5" r="5.5"/><circle class="n" cx="673.0" cy="301.6" r="5.5"/><circle class="f" cx="685.8" cy="330.0" r="5.5"/><circle class="f" cx="673.0" cy="288.4" r="5.5"/><circle class="n" cx="854.9" cy="346.4" r="5.5"/><circle class="f" cx="730.8" cy="441.3" r="5.5"/><circle class="s" cx="807.6" cy="323.8" r="5.5"/><circle class="n" cx="735.0" cy="297.1" r="5.5"/><circle class="n" cx="649.1" cy="450.5" r="5.5"/><circle class="n" cx="825.5" cy="456.7" r="5.5"/><circle class="s" cx="778.9" cy="251.0" r="5.5"/><circle class="n" cx="778.9" cy="345.3" r="5.5"/><circle class="s" cx="914.0" cy="164.5" r="5.5"/><circle class="f" cx="778.9" cy="323.8" r="5.5"/><circle class="n" cx="778.9" cy="353.3" r="5.5"/><circle class="f" cx="685.8" cy="490.8" r="5.5"/><circle class="s" cx="834.8" cy="314.5" r="5.5"/><circle class="s" cx="757.2" cy="424.6" r="5.5"/><circle class="s" cx="685.8" cy="325.3" r="5.5"/><circle class="n" cx="844.1" cy="252.9" r="5.5"/><circle class="n" cx="778.9" cy="443.2" r="5.5"/><circle class="f" cx="763.4" cy="503.3" r="5.5"/><circle class="f" cx="778.9" cy="513.1" r="5.5"/><circle class="f" cx="844.1" cy="347.1" r="5.5"/><circle class="f" cx="723.1" cy="484.6" r="5.5"/><circle class="n" cx="778.9" cy="474.5" r="5.5"/><circle class="f" cx="649.1" cy="470.7" r="5.5"/><circle class="f" cx="834.8" cy="304.5" r="5.5"/><circle class="f" cx="730.8" cy="514.1" r="5.5"/><circle class="f" cx="815.4" cy="482.3" r="5.5"/><circle class="s" cx="778.9" cy="316.0" r="5.5"/><circle class="f" cx="834.8" cy="409.1" r="5.5"/><circle class="f" cx="914.0" cy="246.7" r="5.5"/><circle class="s" cx="815.4" cy="453.6" r="5.5"/><circle class="s" cx="678.1" cy="490.1" r="5.5"/><circle class="f" cx="815.4" cy="531.5" r="5.5"/><circle class="s" cx="778.9" cy="474.7" r="5.5"/><circle class="n" cx="854.9" cy="388.0" r="5.5"/><circle class="f" cx="735.0" cy="356.4" r="5.5"/><circle class="f" cx="957.2" cy="347.1" r="5.5"/><circle class="f" cx="730.8" cy="501.7" r="5.5"/><circle class="n" cx="807.6" cy="337.7" r="5.5"/><circle class="f" cx="778.9" cy="495.8" r="5.5"/><circle class="n" cx="825.5" cy="413.9" r="5.5"/><circle class="n" cx="685.8" cy="373.4" r="5.5"/><circle class="f" cx="649.1" cy="466.0" r="5.5"/><circle class="s" cx="723.1" cy="449.0" r="5.5"/><circle class="n" cx="756.4" cy="453.6" r="5.5"/><circle class="n" cx="844.1" cy="308.3" r="5.5"/><circle class="s" cx="730.8" cy="445.9" r="5.5"/><circle class="f" cx="813.8" cy="418.4" r="5.5"/><circle class="f" cx="778.9" cy="441.5" r="5.5"/><circle class="s" cx="807.6" cy="286.6" r="5.5"/><circle class="f" cx="807.6" cy="397.6" r="5.5"/><circle class="s" cx="855.7" cy="445.1" r="5.5"/><circle class="f" cx="673.0" cy="309.4" r="5.5"/><circle class="n" cx="825.5" cy="462.1" r="5.5"/><circle class="f" cx="807.6" cy="312.9" r="5.5"/><circle class="f" cx="685.8" cy="507.9" r="5.5"/><circle class="n" cx="844.1" cy="412.2" r="5.5"/><circle class="f" cx="735.0" cy="384.3" r="5.5"/><circle class="n" cx="763.4" cy="453.1" r="5.5"/><circle class="f" cx="844.1" cy="409.1" r="5.5"/><circle class="n" cx="673.0" cy="228.9" r="5.5"/><circle class="s" cx="854.9" cy="360.5" r="5.5"/><circle class="s" cx="757.2" cy="432.4" r="5.5"/><circle class="n" cx="957.2" cy="206.4" r="5.5"/><circle class="s" cx="778.9" cy="429.6" r="5.5"/><circle class="n" cx="649.1" cy="490.1" r="5.5"/><circle class="f" cx="673.0" cy="372.3" r="5.5"/><circle class="f" cx="833.5" cy="171.5" r="5.5"/><circle class="s" cx="735.0" cy="328.4" r="5.5"/><circle class="n" cx="815.4" cy="495.5" r="5.5"/><circle class="n" cx="763.4" cy="456.7" r="5.5"/><circle class="n" cx="778.9" cy="278.5" r="5.5"/><circle class="s" cx="649.1" cy="503.3" r="5.5"/><circle class="f" cx="685.8" cy="347.1" r="5.5"/><circle class="n" cx="914.0" cy="238.9" r="5.5"/><circle class="f" cx="730.8" cy="481.5" r="5.5"/><circle class="f" cx="807.6" cy="386.2" r="5.5"/><circle class="s" cx="685.8" cy="267.6" r="5.5"/><circle class="s" cx="673.0" cy="220.6" r="5.5"/><circle class="n" cx="757.2" cy="421.5" r="5.5"/><circle class="n" cx="723.1" cy="435.1" r="5.5"/><circle class="f" cx="885.8" cy="318.4" r="5.5"/><circle class="n" cx="807.6" cy="333.1" r="5.5"/><circle class="f" cx="778.9" cy="378.1" r="5.5"/><circle class="n" cx="769.2" cy="261.0" r="5.5"/><circle class="f" cx="833.5" cy="266.1" r="5.5"/><circle class="f" cx="769.2" cy="390.5" r="5.5"/><circle class="f" cx="815.4" cy="458.3" r="5.5"/><circle class="f" cx="723.1" cy="457.6" r="5.5"/><circle class="n" cx="778.9" cy="436.8" r="5.5"/><circle class="n" cx="678.1" cy="337.7" r="5.5"/><circle class="n" cx="778.9" cy="531.2" r="5.5"/><circle class="f" cx="673.0" cy="334.0" r="5.5"/><circle class="f" cx="834.8" cy="375.6" r="5.5"/><circle class="f" cx="825.5" cy="403.9" r="5.5"/><circle class="f" cx="834.8" cy="330.0" r="5.5"/><circle class="s" cx="756.4" cy="476.9" r="5.5"/><circle class="n" cx="957.2" cy="195.5" r="5.5"/><circle class="n" cx="807.6" cy="385.8" r="5.5"/><circle class="f" cx="778.9" cy="331.5" r="5.5"/><circle class="f" cx="807.6" cy="378.1" r="5.5"/><circle class="f" cx="673.0" cy="378.1" r="5.5"/><circle class="s" cx="685.8" cy="376.0" r="5.5"/><circle class="s" cx="769.2" cy="393.6" r="5.5"/><circle class="n" cx="873.7" cy="335.4" r="5.5"/><circle class="f" cx="825.5" cy="381.2" r="5.5"/><circle class="n" cx="870.0" cy="260.7" r="5.5"/><circle class="f" cx="769.2" cy="274.6" r="5.5"/><circle class="s" cx="763.4" cy="471.5" r="5.5"/><circle class="n" cx="678.1" cy="390.5" r="5.5"/><circle class="f" cx="778.9" cy="349.2" r="5.5"/><circle class="s" cx="757.2" cy="416.9" r="5.5"/><circle class="s" cx="825.5" cy="325.3" r="5.5"/><circle class="s" cx="778.9" cy="442.1" r="5.5"/><circle class="f" cx="778.9" cy="431.2" r="5.5"/><circle class="n" cx="673.0" cy="303.8" r="5.5"/><circle class="n" cx="723.1" cy="388.9" r="5.5"/><circle class="n" cx="735.0" cy="410.7" r="5.5"/><circle class="s" cx="844.1" cy="339.3" r="5.5"/><circle class="n" cx="673.0" cy="291.2" r="5.5"/><circle class="f" cx="761.9" cy="410.7" r="5.5"/><circle class="s" cx="723.1" cy="416.9" r="5.5"/><circle class="s" cx="834.8" cy="371.9" r="5.5"/><circle class="n" cx="730.8" cy="497.1" r="5.5"/><circle class="f" cx="844.1" cy="258.3" r="5.5"/><circle class="f" cx="678.1" cy="441.2" r="5.5"/><circle class="n" cx="854.9" cy="294.3" r="5.5"/><circle class="s" cx="813.8" cy="396.7" r="5.5"/><circle class="s" cx="778.9" cy="436.9" r="5.5"/><circle class="f" cx="673.0" cy="294.3" r="5.5"/><circle class="f" cx="757.2" cy="409.1" r="5.5"/><circle class="f" cx="685.8" cy="368.8" r="5.5"/><circle class="s" cx="914.0" cy="242.0" r="5.5"/><circle class="n" cx="839.4" cy="513.3" r="5.5"/><circle class="n" cx="673.0" cy="282.4" r="5.5"/><circle class="s" cx="681.2" cy="276.2" r="5.5"/><circle class="f" cx="778.9" cy="476.6" r="5.5"/><circle class="f" cx="839.4" cy="466.0" r="5.5"/><circle class="s" cx="678.1" cy="409.1" r="5.5"/><circle class="f" cx="873.7" cy="308.3" r="5.5"/><circle class="f" cx="678.1" cy="432.4" r="5.5"/><circle class="n" cx="854.9" cy="378.1" r="5.5"/><circle class="f" cx="844.1" cy="373.4" r="5.5"/><circle class="s" cx="873.7" cy="293.5" r="5.5"/><circle class="s" cx="834.8" cy="418.7" r="5.5"/><circle class="n" cx="834.8" cy="310.7" r="5.5"/><circle class="s" cx="685.8" cy="351.7" r="5.5"/><circle class="n" cx="844.1" cy="326.9" r="5.5"/><circle class="s" cx="833.5" cy="277.7" r="5.5"/><circle class="n" cx="778.9" cy="473.9" r="5.5"/><circle class="f" cx="673.0" cy="242.0" r="5.5"/><circle class="f" cx="723.1" cy="392.0" r="5.5"/><circle class="s" cx="778.9" cy="515.1" r="5.5"/><circle class="s" cx="673.0" cy="300.5" r="5.5"/><circle class="s" cx="778.9" cy="524.8" r="5.5"/><circle class="f" cx="778.9" cy="359.5" r="5.5"/><circle class="n" cx="778.9" cy="483.3" r="5.5"/><circle class="f" cx="844.1" cy="333.1" r="5.5"/><circle class="s" cx="807.6" cy="374.5" r="5.5"/><circle class="s" cx="685.8" cy="316.9" r="5.5"/><circle class="n" cx="730.8" cy="509.5" r="5.5"/><circle class="s" cx="873.7" cy="326.1" r="5.5"/><circle class="s" cx="723.1" cy="430.8" r="5.5"/><circle class="n" cx="854.9" cy="363.6" r="5.5"/><circle class="f" cx="873.7" cy="384.3" r="5.5"/><circle class="s" cx="833.5" cy="245.9" r="5.5"/><circle class="n" cx="807.6" cy="347.1" r="5.5"/><circle class="f" cx="885.8" cy="288.1" r="5.5"/><circle class="n" cx="678.1" cy="466.0" r="5.5"/><circle class="n" cx="673.0" cy="252.9" r="5.5"/><circle class="f" cx="778.9" cy="244.1" r="5.5"/><circle class="n" cx="833.5" cy="207.9" r="5.5"/><circle class="s" cx="825.5" cy="339.3" r="5.5"/><circle class="s" cx="730.8" cy="470.7" r="5.5"/><circle class="s" cx="723.1" cy="520.3" r="5.5"/><circle class="s" cx="735.0" cy="430.8" r="5.5"/><circle class="n" cx="825.5" cy="385.8" r="5.5"/><circle class="f" cx="807.6" cy="308.3" r="5.5"/><circle class="n" cx="763.4" cy="445.9" r="5.5"/><circle class="n" cx="723.1" cy="409.1" r="5.5"/><circle class="s" cx="957.2" cy="201.7" r="5.5"/><circle class="s" cx="885.8" cy="214.1" r="5.5"/><circle class="f" cx="778.9" cy="398.2" r="5.5"/><circle class="n" cx="685.8" cy="430.8" r="5.5"/><circle class="f" cx="778.9" cy="461.4" r="5.5"/><circle class="s" cx="870.0" cy="273.1" r="5.5"/><circle class="s" cx="673.0" cy="326.5" r="5.5"/><circle class="s" cx="685.8" cy="393.6" r="5.5"/><circle class="f" cx="685.8" cy="339.3" r="5.5"/><circle class="f" cx="778.9" cy="516.4" r="5.5"/><circle class="n" cx="778.9" cy="515.0" r="5.5"/><circle class="s" cx="723.1" cy="487.7" r="5.5"/><circle class="n" cx="763.4" cy="511.0" r="5.5"/><circle class="f" cx="735.0" cy="423.1" r="5.5"/><circle class="f" cx="673.0" cy="262.2" r="5.5"/><circle class="f" cx="763.4" cy="479.6" r="5.5"/><circle class="s" cx="815.4" cy="492.4" r="5.5"/><circle class="s" cx="885.8" cy="220.3" r="5.5"/><circle class="s" cx="673.0" cy="347.1" r="5.5"/><circle class="n" cx="723.1" cy="458.3" r="5.5"/><circle class="n" cx="778.9" cy="285.0" r="5.5"/><circle class="f" cx="957.2" cy="285.0" r="5.5"/><circle class="f" cx="723.1" cy="475.3" r="5.5"/><circle class="n" cx="807.6" cy="294.3" r="5.5"/><circle class="n" cx="834.8" cy="311.4" r="5.5"/><circle class="f" cx="957.2" cy="162.9" r="5.5"/><circle class="f" cx="844.1" cy="358.2" r="5.5"/><circle class="f" cx="844.1" cy="288.7" r="5.5"/><circle class="s" cx="778.9" cy="450.9" r="5.5"/><circle class="s" cx="839.4" cy="470.7" r="5.5"/><circle class="s" cx="778.9" cy="336.2" r="5.5"/><circle class="s" cx="825.5" cy="316.0" r="5.5"/><circle class="n" cx="885.8" cy="278.5" r="5.5"/><circle class="f" cx="678.1" cy="491.6" r="5.5"/><circle class="f" cx="834.8" cy="377.2" r="5.5"/><circle class="n" cx="723.1" cy="434.7" r="5.5"/><circle class="n" cx="763.4" cy="466.0" r="5.5"/><circle class="f" cx="825.5" cy="371.9" r="5.5"/><circle class="n" cx="825.5" cy="396.4" r="5.5"/><circle class="f" cx="914.0" cy="237.4" r="5.5"/><circle class="f" cx="854.9" cy="406.0" r="5.5"/><circle class="s" cx="756.4" cy="436.6" r="5.5"/><circle class="n" cx="763.4" cy="441.2" r="5.5"/><circle class="f" cx="685.8" cy="378.1" r="5.5"/><circle class="n" cx="815.4" cy="442.0" r="5.5"/><circle class="n" cx="735.0" cy="385.8" r="5.5"/><circle class="f" cx="723.1" cy="470.1" r="5.5"/><circle class="f" cx="914.0" cy="184.6" r="5.5"/><circle class="f" cx="778.9" cy="390.5" r="5.5"/><circle class="f" cx="854.9" cy="334.6" r="5.5"/><circle class="n" cx="807.6" cy="306.1" r="5.5"/><circle class="s" cx="673.0" cy="239.7" r="5.5"/><circle class="f" cx="678.1" cy="396.7" r="5.5"/><circle class="f" cx="763.4" cy="467.6" r="5.5"/><circle class="f" cx="678.1" cy="381.2" r="5.5"/><circle class="s" cx="807.6" cy="344.0" r="5.5"/><circle class="n" cx="844.1" cy="317.8" r="5.5"/><circle class="s" cx="807.6" cy="351.7" r="5.5"/><circle class="s" cx="854.9" cy="396.7" r="5.5"/><circle class="n" cx="854.9" cy="316.0" r="5.5"/><circle class="f" cx="723.1" cy="450.2" r="5.5"/><circle class="f" cx="914.0" cy="211.8" r="5.5"/><circle class="s" cx="839.4" cy="475.3" r="5.5"/><circle class="n" cx="844.1" cy="292.8" r="5.5"/><circle class="s" cx="673.0" cy="334.6" r="5.5"/><circle class="n" cx="833.5" cy="279.3" r="5.5"/><circle class="n" cx="778.9" cy="479.3" r="5.5"/><circle class="s" cx="735.0" cy="365.7" r="5.5"/><circle class="f" cx="839.4" cy="455.2" r="5.5"/><circle class="n" cx="957.2" cy="223.4" r="5.5"/><circle class="n" cx="685.8" cy="335.8" r="5.5"/><circle class="s" cx="678.1" cy="427.7" r="5.5"/><circle class="f" cx="778.9" cy="446.0" r="5.5"/><circle class="f" cx="813.8" cy="419.9" r="5.5"/><circle class="s" cx="678.1" cy="375.0" r="5.5"/><circle class="f" cx="815.4" cy="500.2" r="5.5"/><circle class="f" cx="730.8" cy="437.9" r="5.5"/><circle class="n" cx="957.2" cy="203.3" r="5.5"/><circle class="s" cx="825.5" cy="309.8" r="5.5"/><circle class="n" cx="957.2" cy="247.8" r="5.5"/><circle class="s" cx="685.8" cy="300.5" r="5.5"/><circle class="n" cx="825.5" cy="356.4" r="5.5"/><circle class="s" cx="678.1" cy="472.2" r="5.5"/><circle class="n" cx="685.8" cy="329.2" r="5.5"/><circle class="s" cx="685.8" cy="294.9" r="5.5"/><circle class="n" cx="778.9" cy="454.1" r="5.5"/><circle class="s" cx="778.9" cy="223.9" r="5.5"/><circle class="n" cx="673.0" cy="297.4" r="5.5"/><circle class="n" cx="914.0" cy="295.9" r="5.5"/><circle class="f" cx="825.5" cy="437.3" r="5.5"/><circle class="n" cx="914.0" cy="166.8" r="5.5"/><circle class="n" cx="649.1" cy="481.5" r="5.5"/><circle class="f" cx="685.8" cy="352.8" r="5.5"/><circle class="f" cx="723.1" cy="492.4" r="5.5"/><circle class="f" cx="807.6" cy="423.7" r="5.5"/><circle class="f" cx="844.1" cy="290.6" r="5.5"/><circle class="n" cx="778.9" cy="350.2" r="5.5"/><circle class="s" cx="778.9" cy="300.5" r="5.5"/><circle class="n" cx="870.0" cy="265.3" r="5.5"/><circle class="f" cx="763.4" cy="450.5" r="5.5"/><circle class="s" cx="844.1" cy="413.4" r="5.5"/><circle class="f" cx="756.4" cy="445.9" r="5.5"/><circle class="n" cx="723.1" cy="500.2" r="5.5"/><circle class="f" cx="834.0" cy="502.5" r="5.5"/><circle class="s" cx="648.6" cy="424.6" r="5.5"/><circle class="n" cx="825.5" cy="361.0" r="5.5"/><circle class="n" cx="778.9" cy="384.3" r="5.5"/><circle class="f" cx="649.1" cy="505.6" r="5.5"/><circle class="n" cx="723.1" cy="466.0" r="5.5"/><circle class="s" cx="730.8" cy="445.0" r="5.5"/><circle class="n" cx="854.9" cy="331.5" r="5.5"/><circle class="s" cx="778.9" cy="328.4" r="5.5"/><circle class="f" cx="844.1" cy="300.5" r="5.5"/><circle class="n" cx="833.5" cy="228.1" r="5.5"/><circle class="n" cx="673.0" cy="409.1" r="5.5"/><circle class="n" cx="807.6" cy="357.9" r="5.5"/><circle class="s" cx="833.5" cy="281.6" r="5.5"/><circle class="f" cx="833.5" cy="254.5" r="5.5"/><circle class="s" cx="825.5" cy="413.8" r="5.5"/><circle class="f" cx="673.0" cy="427.7" r="5.5"/><circle class="n" cx="673.0" cy="212.6" r="5.5"/><circle class="f" cx="854.9" cy="368.8" r="5.5"/><circle class="n" cx="730.8" cy="487.7" r="5.5"/><circle class="f" cx="807.6" cy="388.8" r="5.5"/><circle class="s" cx="834.0" cy="439.7" r="5.5"/><circle class="f" cx="778.9" cy="443.2" r="5.5"/><circle class="s" cx="778.9" cy="427.7" r="5.5"/><circle class="s" cx="735.0" cy="416.9" r="5.5"/><circle class="n" cx="807.6" cy="307.5" r="5.5"/><circle class="n" cx="855.7" cy="461.4" r="5.5"/><circle class="f" cx="914.0" cy="289.7" r="5.5"/><circle class="n" cx="723.1" cy="340.8" r="5.5"/><circle class="f" cx="834.8" cy="402.9" r="5.5"/><circle class="n" cx="769.2" cy="359.5" r="5.5"/><circle class="n" cx="730.8" cy="458.3" r="5.5"/><circle class="f" cx="723.1" cy="409.1" r="5.5"/><circle class="s" cx="833.5" cy="242.0" r="5.5"/><circle class="n" cx="678.1" cy="478.4" r="5.5"/><circle class="f" cx="833.5" cy="245.9" r="5.5"/><circle class="s" cx="778.9" cy="370.3" r="5.5"/><circle class="s" cx="813.8" cy="414.4" r="5.5"/><circle class="s" cx="678.1" cy="350.2" r="5.5"/><circle class="f" cx="825.5" cy="308.5" r="5.5"/><circle class="n" cx="757.2" cy="384.3" r="5.5"/><circle class="f" cx="673.0" cy="320.7" r="5.5"/><circle class="s" cx="854.9" cy="384.3" r="5.5"/><circle class="s" cx="678.1" cy="459.8" r="5.5"/><circle class="s" cx="807.6" cy="382.7" r="5.5"/><circle class="n" cx="778.9" cy="500.6" r="5.5"/><circle class="f" cx="778.9" cy="267.6" r="5.5"/><circle class="f" cx="723.1" cy="442.8" r="5.5"/><circle class="s" cx="854.9" cy="381.2" r="5.5"/><circle class="n" cx="873.7" cy="303.6" r="5.5"/><circle class="s" cx="806.9" cy="283.9" r="5.5"/><circle class="s" cx="735.0" cy="392.0" r="5.5"/><circle class="f" cx="825.5" cy="330.0" r="5.5"/><circle class="s" cx="685.8" cy="306.7" r="5.5"/><circle class="f" cx="778.9" cy="464.6" r="5.5"/><circle class="f" cx="678.1" cy="476.9" r="5.5"/><circle class="n" cx="854.9" cy="423.1" r="5.5"/><circle class="n" cx="825.5" cy="376.5" r="5.5"/><circle class="f" cx="678.1" cy="447.4" r="5.5"/><circle class="s" cx="685.8" cy="288.1" r="5.5"/><circle class="f" cx="825.5" cy="393.6" r="5.5"/><circle class="n" cx="778.9" cy="409.1" r="5.5"/><circle class="n" cx="957.2" cy="270.0" r="5.5"/><circle class="s" cx="763.4" cy="445.8" r="5.5"/><circle class="s" cx="914.0" cy="183.1" r="5.5"/><circle class="n" cx="769.2" cy="295.9" r="5.5"/><circle class="n" cx="834.8" cy="288.1" r="5.5"/><circle class="n" cx="778.9" cy="532.2" r="5.5"/><circle class="f" cx="854.9" cy="421.0" r="5.5"/><circle class="n" cx="778.9" cy="395.3" r="5.5"/><circle class="n" cx="914.0" cy="207.9" r="5.5"/><circle class="s" cx="673.0" cy="384.3" r="5.5"/><circle class="f" cx="757.2" cy="429.3" r="5.5"/><circle class="s" cx="844.1" cy="323.8" r="5.5"/><circle class="s" cx="807.6" cy="297.4" r="5.5"/><circle class="n" cx="735.0" cy="407.6" r="5.5"/><circle class="s" cx="957.2" cy="234.3" r="5.5"/><circle class="n" cx="649.1" cy="486.2" r="5.5"/><circle class="n" cx="685.8" cy="239.7" r="5.5"/><circle class="f" cx="834.8" cy="363.0" r="5.5"/><circle class="n" cx="685.8" cy="359.5" r="5.5"/><circle class="f" cx="807.6" cy="289.2" r="5.5"/><circle class="n" cx="778.9" cy="280.8" r="5.5"/><circle class="n" cx="649.1" cy="454.4" r="5.5"/>
<circle class="n" cx="1262.4" cy="294.3" r="5.5"/><circle class="n" cx="1291.6" cy="519.5" r="5.5"/><circle class="f" cx="1231.1" cy="297.4" r="5.5"/><circle class="n" cx="1277.6" cy="500.2" r="5.5"/><circle class="n" cx="1306.0" cy="410.7" r="5.5"/><circle class="s" cx="1224.9" cy="439.7" r="5.5"/><circle class="f" cx="1262.4" cy="322.2" r="5.5"/><circle class="n" cx="1314.4" cy="315.3" r="5.5"/><circle class="s" cx="1264.4" cy="439.7" r="5.5"/><circle class="s" cx="1277.6" cy="510.2" r="5.5"/><circle class="f" cx="1262.4" cy="309.8" r="5.5"/><circle class="s" cx="1277.6" cy="427.7" r="5.5"/><circle class="f" cx="1184.2" cy="428.5" r="5.5"/><circle class="n" cx="1241.9" cy="365.7" r="5.5"/><circle class="s" cx="1262.4" cy="373.4" r="5.5"/><circle class="f" cx="1298.6" cy="398.2" r="5.5"/><circle class="s" cx="1136.9" cy="424.6" r="5.5"/><circle class="n" cx="1266.8" cy="237.4" r="5.5"/><circle class="s" cx="1331.9" cy="376.5" r="5.5"/><circle class="n" cx="1213.2" cy="470.7" r="5.5"/><circle class="s" cx="1306.0" cy="347.1" r="5.5"/><circle class="s" cx="1331.9" cy="344.0" r="5.5"/><circle class="n" cx="1213.2" cy="336.2" r="5.5"/><circle class="n" cx="1252.8" cy="509.5" r="5.5"/><circle class="f" cx="1277.6" cy="503.3" r="5.5"/><circle class="f" cx="1396.3" cy="287.3" r="5.5"/><circle class="n" cx="1293.1" cy="404.5" r="5.5"/><circle class="s" cx="1402.9" cy="436.6" r="5.5"/><circle class="f" cx="1136.9" cy="454.4" r="5.5"/><circle class="f" cx="1402.9" cy="431.6" r="5.5"/><circle class="f" cx="1298.6" cy="429.3" r="5.5"/><circle class="f" cx="1306.0" cy="319.9" r="5.5"/><circle class="f" cx="1266.8" cy="347.1" r="5.5"/><circle class="n" cx="1270.6" cy="464.5" r="5.5"/><circle class="n" cx="1262.4" cy="305.2" r="5.5"/><circle class="s" cx="1136.9" cy="478.8" r="5.5"/><circle class="f" cx="1231.1" cy="517.2" r="5.5"/><circle class="s" cx="1224.9" cy="508.7" r="5.5"/><circle class="f" cx="1136.9" cy="506.8" r="5.5"/><circle class="s" cx="1262.4" cy="289.7" r="5.5"/><circle class="f" cx="1262.4" cy="271.5" r="5.5"/><circle class="n" cx="1271.1" cy="190.1" r="5.5"/><circle class="s" cx="1262.4" cy="246.7" r="5.5"/><circle class="f" cx="1213.2" cy="429.3" r="5.5"/><circle class="f" cx="1396.3" cy="281.6" r="5.5"/><circle class="s" cx="1264.4" cy="464.5" r="5.5"/><circle class="n" cx="1294.7" cy="452.1" r="5.5"/><circle class="s" cx="1293.1" cy="430.8" r="5.5"/><circle class="s" cx="1293.1" cy="371.9" r="5.5"/><circle class="n" cx="1136.9" cy="489.4" r="5.5"/><circle class="s" cx="1277.6" cy="506.4" r="5.5"/><circle class="f" cx="1277.6" cy="486.2" r="5.5"/><circle class="s" cx="1293.1" cy="390.5" r="5.5"/><circle class="f" cx="1331.9" cy="302.8" r="5.5"/><circle class="n" cx="1266.8" cy="317.6" r="5.5"/><circle class="n" cx="1184.2" cy="326.9" r="5.5"/><circle class="f" cx="1241.9" cy="427.7" r="5.5"/><circle class="s" cx="1262.4" cy="274.6" r="5.5"/><circle class="s" cx="1224.9" cy="517.2" r="5.5"/><circle class="s" cx="1136.9" cy="289.7" r="5.5"/><circle class="s" cx="1396.3" cy="289.7" r="5.5"/><circle class="n" cx="1264.4" cy="475.3" r="5.5"/><circle class="n" cx="1231.1" cy="442.8" r="5.5"/><circle class="n" cx="1262.4" cy="333.1" r="5.5"/><circle class="f" cx="1136.9" cy="486.0" r="5.5"/><circle class="f" cx="1213.2" cy="323.8" r="5.5"/><circle class="n" cx="1306.0" cy="432.4" r="5.5"/><circle class="f" cx="1352.9" cy="194.7" r="5.5"/><circle class="s" cx="1224.9" cy="514.1" r="5.5"/><circle class="s" cx="1231.1" cy="385.8" r="5.5"/><circle class="n" cx="1213.2" cy="385.8" r="5.5"/><circle class="f" cx="1136.9" cy="502.5" r="5.5"/><circle class="s" cx="1277.6" cy="393.6" r="5.5"/><circle class="s" cx="1136.9" cy="449.4" r="5.5"/><circle class="n" cx="1402.9" cy="442.0" r="5.5"/><circle class="f" cx="1252.8" cy="496.3" r="5.5"/><circle class="f" cx="1314.4" cy="238.9" r="5.5"/><circle class="n" cx="1266.8" cy="242.0" r="5.5"/><circle class="n" cx="1291.6" cy="483.1" r="5.5"/><circle class="n" cx="1293.1" cy="353.3" r="5.5"/><circle class="n" cx="1247.4" cy="420.0" r="5.5"/><circle class="f" cx="1270.6" cy="542.8" r="5.5"/><circle class="s" cx="1252.8" cy="379.6" r="5.5"/><circle class="n" cx="1262.4" cy="255.2" r="5.5"/><circle class="n" cx="1402.9" cy="499.1" r="5.5"/><circle class="n" cx="1298.6" cy="392.0" r="5.5"/><circle class="n" cx="1184.2" cy="408.3" r="5.5"/><circle class="s" cx="1241.9" cy="345.5" r="5.5"/><circle class="s" cx="1314.4" cy="279.3" r="5.5"/><circle class="f" cx="1277.6" cy="424.6" r="5.5"/><circle class="s" cx="1331.9" cy="333.1" r="5.5"/><circle class="f" cx="1293.1" cy="334.6" r="5.5"/><circle class="s" cx="1293.1" cy="316.0" r="5.5"/><circle class="s" cx="1402.9" cy="487.0" r="5.5"/><circle class="n" cx="1247.4" cy="345.5" r="5.5"/><circle class="f" cx="1402.9" cy="468.0" r="5.5"/><circle class="f" cx="1184.2" cy="331.5" r="5.5"/><circle class="s" cx="1213.2" cy="378.1" r="5.5"/><circle class="n" cx="1264.4" cy="480.0" r="5.5"/><circle class="n" cx="1271.1" cy="256.0" r="5.5"/><circle class="n" cx="1396.3" cy="246.7" r="5.5"/><circle class="n" cx="1266.8" cy="276.2" r="5.5"/><circle class="n" cx="1277.6" cy="450.5" r="5.5"/><circle class="n" cx="1331.9" cy="302.1" r="5.5"/><circle class="s" cx="1247.4" cy="466.8" r="5.5"/><circle class="f" cx="1213.2" cy="452.1" r="5.5"/><circle class="n" cx="1136.9" cy="421.5" r="5.5"/><circle class="n" cx="1293.1" cy="365.7" r="5.5"/><circle class="s" cx="1294.7" cy="442.8" r="5.5"/><circle class="f" cx="1213.2" cy="424.6" r="5.5"/><circle class="n" cx="1271.4" cy="398.2" r="5.5"/><circle class="n" cx="1224.9" cy="481.5" r="5.5"/><circle class="f" cx="1298.6" cy="532.7" r="5.5"/><circle class="n" cx="1165.6" cy="497.4" r="5.5"/><circle class="s" cx="1136.9" cy="461.6" r="5.5"/><circle class="n" cx="1396.3" cy="210.2" r="5.5"/><circle class="f" cx="1266.8" cy="169.9" r="5.5"/><circle class="n" cx="1277.6" cy="416.9" r="5.5"/><circle class="f" cx="1262.4" cy="347.1" r="5.5"/><circle class="f" cx="1224.9" cy="438.1" r="5.5"/><circle class="f" cx="1266.8" cy="245.9" r="5.5"/><circle class="n" cx="1293.1" cy="381.2" r="5.5"/><circle class="s" cx="1298.6" cy="295.1" r="5.5"/><circle class="s" cx="1136.9" cy="493.2" r="5.5"/><circle class="f" cx="1298.6" cy="480.8" r="5.5"/><circle class="f" cx="1303.2" cy="455.2" r="5.5"/><circle class="s" cx="1136.9" cy="456.1" r="5.5"/><circle class="n" cx="1241.9" cy="432.4" r="5.5"/><circle class="n" cx="1298.6" cy="365.7" r="5.5"/><circle class="f" cx="1136.9" cy="515.7" r="5.5"/><circle class="s" cx="1262.4" cy="266.9" r="5.5"/><circle class="s" cx="1298.6" cy="375.0" r="5.5"/><circle class="f" cx="1252.8" cy="473.8" r="5.5"/><circle class="n" cx="1314.4" cy="371.1" r="5.5"/><circle class="f" cx="1331.9" cy="322.2" r="5.5"/><circle class="s" cx="1277.6" cy="470.7" r="5.5"/><circle class="f" cx="1306.0" cy="354.8" r="5.5"/><circle class="n" cx="1271.1" cy="282.4" r="5.5"/><circle class="s" cx="1123.6" cy="279.0" r="5.5"/><circle class="n" cx="1136.9" cy="457.1" r="5.5"/><circle class="s" cx="1241.9" cy="420.0" r="5.5"/><circle class="n" cx="1402.9" cy="451.0" r="5.5"/><circle class="s" cx="1402.9" cy="432.4" r="5.5"/><circle class="s" cx="1291.6" cy="464.5" r="5.5"/><circle class="s" cx="1271.4" cy="326.9" r="5.5"/><circle class="f" cx="1331.9" cy="404.5" r="5.5"/><circle class="f" cx="1293.1" cy="427.7" r="5.5"/><circle class="n" cx="1247.7" cy="246.7" r="5.5"/><circle class="s" cx="1306.0" cy="336.2" r="5.5"/><circle class="s" cx="1266.8" cy="195.5" r="5.5"/><circle class="n" cx="1213.2" cy="361.0" r="5.5"/><circle class="n" cx="1252.8" cy="412.2" r="5.5"/><circle class="n" cx="1298.6" cy="424.6" r="5.5"/><circle class="f" cx="1293.1" cy="339.3" r="5.5"/><circle class="f" cx="1241.9" cy="478.4" r="5.5"/><circle class="n" cx="1402.9" cy="440.4" r="5.5"/><circle class="f" cx="1224.9" cy="522.7" r="5.5"/><circle class="n" cx="1331.9" cy="416.1" r="5.5"/><circle class="n" cx="1252.8" cy="445.9" r="5.5"/><circle class="f" cx="1352.9" cy="230.4" r="5.5"/><circle class="n" cx="1262.4" cy="286.6" r="5.5"/><circle class="f" cx="1184.2" cy="259.1" r="5.5"/><circle class="n" cx="1136.9" cy="413.8" r="5.5"/><circle class="n" cx="1264.4" cy="492.4" r="5.5"/><circle class="f" cx="1136.9" cy="420.0" r="5.5"/><circle class="s" cx="1213.2" cy="339.3" r="5.5"/><circle class="n" cx="1252.8" cy="515.7" r="5.5"/><circle class="n" cx="1213.2" cy="312.9" r="5.5"/><circle class="n" cx="1213.2" cy="413.8" r="5.5"/><circle class="n" cx="1271.1" cy="259.1" r="5.5"/><circle class="s" cx="1277.6" cy="478.4" r="5.5"/><circle class="s" cx="1298.6" cy="420.0" r="5.5"/><circle class="s" cx="1231.1" cy="427.7" r="5.5"/><circle class="f" cx="1271.4" cy="308.3" r="5.5"/><circle class="s" cx="1136.9" cy="510.1" r="5.5"/><circle class="n" cx="1136.9" cy="485.2" r="5.5"/><circle class="f" cx="1294.7" cy="438.1" r="5.5"/><circle class="f" cx="1271.1" cy="177.2" r="5.5"/><circle class="n" cx="1241.9" cy="439.7" r="5.5"/><circle class="s" cx="1247.4" cy="459.0" r="5.5"/><circle class="n" cx="1271.4" cy="292.0" r="5.5"/><circle class="f" cx="1264.4" cy="483.1" r="5.5"/><circle class="s" cx="1266.8" cy="270.0" r="5.5"/><circle class="n" cx="1306.0" cy="305.2" r="5.5"/><circle class="f" cx="1294.7" cy="521.1" r="5.5"/><circle class="s" cx="1213.2" cy="371.9" r="5.5"/><circle class="n" cx="1294.7" cy="498.6" r="5.5"/><circle class="f" cx="1184.2" cy="319.1" r="5.5"/><circle class="s" cx="1352.9" cy="178.1" r="5.5"/><circle class="s" cx="1136.9" cy="442.0" r="5.5"/><circle class="f" cx="1252.8" cy="416.9" r="5.5"/><circle class="n" cx="1352.9" cy="183.1" r="5.5"/><circle class="s" cx="1213.2" cy="392.0" r="5.5"/><circle class="f" cx="1262.4" cy="300.5" r="5.5"/><circle class="n" cx="1262.4" cy="319.1" r="5.5"/><circle class="f" cx="1277.6" cy="455.2" r="5.5"/><circle class="f" cx="1136.9" cy="390.5" r="5.5"/><circle class="s" cx="1271.1" cy="232.7" r="5.5"/><circle class="n" cx="1352.9" cy="253.7" r="5.5"/><circle class="s" cx="1136.9" cy="439.3" r="5.5"/><circle class="s" cx="1184.2" cy="187.0" r="5.5"/><circle class="n" cx="1294.7" cy="494.0" r="5.5"/><circle class="n" cx="1262.4" cy="279.3" r="5.5"/><circle class="s" cx="1396.3" cy="262.2" r="5.5"/><circle class="n" cx="1298.6" cy="378.1" r="5.5"/><circle class="s" cx="1306.3" cy="483.9" r="5.5"/><circle class="n" cx="1293.1" cy="337.7" r="5.5"/><circle class="s" cx="1136.9" cy="496.1" r="5.5"/><circle class="s" cx="1293.1" cy="357.9" r="5.5"/><circle class="n" cx="1224.1" cy="393.6" r="5.5"/><circle class="f" cx="1277.6" cy="475.3" r="5.5"/><circle class="f" cx="1293.1" cy="396.7" r="5.5"/><circle class="n" cx="1252.8" cy="321.5" r="5.5"/><circle class="n" cx="1352.9" cy="186.2" r="5.5"/><circle class="f" cx="1231.1" cy="412.2" r="5.5"/><circle class="f" cx="1136.9" cy="453.1" r="5.5"/><circle class="f" cx="1396.3" cy="255.2" r="5.5"/><circle class="s" cx="1264.4" cy="494.0" r="5.5"/><circle class="s" cx="1402.9" cy="385.5" r="5.5"/><circle class="n" cx="1293.1" cy="350.2" r="5.5"/><circle class="f" cx="1136.9" cy="396.7" r="5.5"/><circle class="s" cx="1352.9" cy="169.9" r="5.5"/><circle class="s" cx="1136.9" cy="462.1" r="5.5"/><circle class="s" cx="1352.9" cy="220.3" r="5.5"/><circle class="n" cx="1352.9" cy="233.5" r="5.5"/><circle class="f" cx="1291.6" cy="514.1" r="5.5"/><circle class="f" cx="1271.4" cy="368.8" r="5.5"/><circle class="n" cx="1136.9" cy="511.7" r="5.5"/><circle class="s" cx="1184.2" cy="241.3" r="5.5"/><circle class="f" cx="1352.9" cy="263.8" r="5.5"/><circle class="f" cx="1270.6" cy="472.2" r="5.5"/><circle class="n" cx="1352.9" cy="205.6" r="5.5"/><circle class="s" cx="1298.6" cy="409.1" r="5.5"/><circle class="f" cx="1241.9" cy="459.8" r="5.5"/><circle class="s" cx="1252.8" cy="458.3" r="5.5"/><circle class="f" cx="1402.9" cy="437.3" r="5.5"/><circle class="f" cx="1402.9" cy="418.0" r="5.5"/><circle class="s" cx="1136.9" cy="520.3" r="5.5"/><circle class="f" cx="1136.9" cy="499.3" r="5.5"/><circle class="s" cx="1277.6" cy="438.1" r="5.5"/><circle class="f" cx="1291.6" cy="455.2" r="5.5"/><circle class="f" cx="1352.9" cy="212.6" r="5.5"/><circle class="s" cx="1262.4" cy="221.9" r="5.5"/><circle class="n" cx="1264.4" cy="447.4" r="5.5"/><circle class="n" cx="1298.6" cy="415.3" r="5.5"/><circle class="f" cx="1264.4" cy="467.6" r="5.5"/><circle class="s" cx="1291.6" cy="478.4" r="5.5"/><circle class="f" cx="1306.0" cy="393.6" r="5.5"/><circle class="s" cx="1270.6" cy="504.8" r="5.5"/><circle class="s" cx="1293.1" cy="418.4" r="5.5"/><circle class="s" cx="1402.9" cy="468.0" r="5.5"/><circle class="s" cx="1184.2" cy="220.3" r="5.5"/><circle class="s" cx="1136.9" cy="459.9" r="5.5"/><circle class="f" cx="1231.1" cy="457.5" r="5.5"/><circle class="n" cx="1266.8" cy="200.9" r="5.5"/><circle class="n" cx="1270.6" cy="466.0" r="5.5"/><circle class="n" cx="1303.2" cy="466.8" r="5.5"/><circle class="n" cx="1270.6" cy="442.8" r="5.5"/><circle class="f" cx="1306.0" cy="418.4" r="5.5"/><circle class="s" cx="1293.1" cy="376.5" r="5.5"/><circle class="f" cx="1224.9" cy="473.8" r="5.5"/><circle class="s" cx="1213.2" cy="353.3" r="5.5"/><circle class="n" cx="1396.3" cy="323.0" r="5.5"/><circle class="s" cx="1306.0" cy="314.5" r="5.5"/><circle class="f" cx="1224.1" cy="378.1" r="5.5"/><circle class="s" cx="1271.4" cy="347.8" r="5.5"/><circle class="s" cx="1136.9" cy="476.0" r="5.5"/><circle class="f" cx="1136.9" cy="393.6" r="5.5"/><circle class="s" cx="1184.2" cy="292.0" r="5.5"/><circle class="s" cx="1136.9" cy="323.8" r="5.5"/><circle class="n" cx="1277.6" cy="420.0" r="5.5"/><circle class="s" cx="1277.6" cy="481.5" r="5.5"/><circle class="s" cx="1184.2" cy="323.8" r="5.5"/><circle class="s" cx="1213.2" cy="331.5" r="5.5"/><circle class="n" cx="1291.6" cy="449.0" r="5.5"/><circle class="f" cx="1266.8" cy="233.5" r="5.5"/><circle class="s" cx="1352.9" cy="236.6" r="5.5"/><circle class="s" cx="1396.3" cy="235.8" r="5.5"/><circle class="s" cx="1270.6" cy="447.4" r="5.5"/><circle class="s" cx="1252.8" cy="476.9" r="5.5"/><circle class="n" cx="1293.1" cy="413.8" r="5.5"/><circle class="n" cx="1213.2" cy="404.5" r="5.5"/><circle class="n" cx="1136.9" cy="335.0" r="5.5"/><circle class="s" cx="1136.9" cy="498.3" r="5.5"/><circle class="f" cx="1352.9" cy="157.5" r="5.5"/><circle class="n" cx="1331.9" cy="314.5" r="5.5"/><circle class="f" cx="1136.9" cy="493.0" r="5.5"/><circle class="n" cx="1184.2" cy="233.5" r="5.5"/><circle class="n" cx="1241.9" cy="317.6" r="5.5"/><circle class="s" cx="1396.3" cy="225.0" r="5.5"/><circle class="f" cx="1247.4" cy="387.4" r="5.5"/><circle class="n" cx="1231.1" cy="483.9" r="5.5"/><circle class="f" cx="1136.9" cy="459.5" r="5.5"/><circle class="n" cx="1224.9" cy="484.6" r="5.5"/><circle class="n" cx="1247.4" cy="404.5" r="5.5"/><circle class="f" cx="1136.9" cy="506.8" r="5.5"/><circle class="n" cx="1306.0" cy="385.8" r="5.5"/><circle class="s" cx="1136.9" cy="505.0" r="5.5"/><circle class="s" cx="1262.4" cy="328.4" r="5.5"/><circle class="s" cx="1262.4" cy="232.7" r="5.5"/><circle class="s" cx="1331.9" cy="316.0" r="5.5"/><circle class="f" cx="1241.9" cy="368.8" r="5.5"/><circle class="s" cx="1213.2" cy="412.2" r="5.5"/><circle class="s" cx="1266.8" cy="294.3" r="5.5"/><circle class="n" cx="1277.6" cy="459.8" r="5.5"/><circle class="s" cx="1136.9" cy="361.8" r="5.5"/><circle class="s" cx="1136.9" cy="477.8" r="5.5"/><circle class="n" cx="1213.2" cy="443.5" r="5.5"/><circle class="f" cx="1136.9" cy="499.1" r="5.5"/><circle class="f" cx="1271.4" cy="300.5" r="5.5"/><circle class="f" cx="1298.6" cy="385.8" r="5.5"/><circle class="s" cx="1271.4" cy="402.9" r="5.5"/><circle class="f" cx="1271.4" cy="379.6" r="5.5"/><circle class="n" cx="1298.6" cy="270.3" r="5.5"/><circle class="s" cx="1136.9" cy="459.1" r="5.5"/><circle class="n" cx="1396.3" cy="268.4" r="5.5"/><circle class="n" cx="1213.2" cy="347.1" r="5.5"/><circle class="n" cx="1136.9" cy="368.8" r="5.5"/><circle class="s" cx="1184.2" cy="268.4" r="5.5"/><circle class="s" cx="1314.4" cy="215.7" r="5.5"/><circle class="f" cx="1136.9" cy="379.6" r="5.5"/><circle class="n" cx="1266.8" cy="288.1" r="5.5"/><circle class="n" cx="1224.9" cy="494.7" r="5.5"/><circle class="f" cx="1252.8" cy="516.4" r="5.5"/><circle class="s" cx="1266.8" cy="211.0" r="5.5"/><circle class="f" cx="1262.4" cy="339.3" r="5.5"/><circle class="s" cx="1136.9" cy="483.9" r="5.5"/><circle class="s" cx="1262.4" cy="350.2" r="5.5"/><circle class="n" cx="1264.4" cy="486.2" r="5.5"/><circle class="f" cx="1184.2" cy="250.6" r="5.5"/><circle class="s" cx="1314.4" cy="292.8" r="5.5"/><circle class="f" cx="1298.6" cy="441.2" r="5.5"/><circle class="s" cx="1291.6" cy="487.7" r="5.5"/><circle class="f" cx="1224.9" cy="447.4" r="5.5"/><circle class="f" cx="1396.3" cy="291.2" r="5.5"/><circle class="f" cx="1266.8" cy="317.6" r="5.5"/><circle class="n" cx="1224.9" cy="492.4" r="5.5"/><circle class="f" cx="1294.7" cy="464.5" r="5.5"/><circle class="f" cx="1271.1" cy="265.3" r="5.5"/><circle class="f" cx="1262.4" cy="282.4" r="5.5"/><circle class="s" cx="1298.6" cy="334.6" r="5.5"/><circle class="n" cx="1303.2" cy="450.5" r="5.5"/><circle class="f" cx="1298.6" cy="525.0" r="5.5"/><circle class="s" cx="1266.8" cy="334.6" r="5.5"/><circle class="n" cx="1224.9" cy="489.3" r="5.5"/><circle class="n" cx="1293.1" cy="423.1" r="5.5"/><circle class="n" cx="1303.2" cy="438.1" r="5.5"/><circle class="s" cx="1252.8" cy="444.3" r="5.5"/><circle class="s" cx="1247.7" cy="260.3" r="5.5"/><circle class="f" cx="1262.4" cy="344.0" r="5.5"/><circle class="f" cx="1262.4" cy="357.9" r="5.5"/><circle class="n" cx="1213.2" cy="350.2" r="5.5"/><circle class="f" cx="1262.4" cy="209.5" r="5.5"/><circle class="n" cx="1262.4" cy="361.0" r="5.5"/><circle class="f" cx="1241.9" cy="511.8" r="5.5"/><circle class="s" cx="1184.2" cy="254.5" r="5.5"/><circle class="s" cx="1247.4" cy="453.6" r="5.5"/><circle class="f" cx="1136.9" cy="476.5" r="5.5"/><circle class="s" cx="1247.4" cy="326.1" r="5.5"/><circle class="n" cx="1184.2" cy="345.5" r="5.5"/><circle class="s" cx="1184.2" cy="218.8" r="5.5"/><circle class="n" cx="1396.3" cy="240.5" r="5.5"/><circle class="n" cx="1266.8" cy="357.1" r="5.5"/><circle class="s" cx="1136.9" cy="482.7" r="5.5"/><circle class="f" cx="1402.9" cy="519.5" r="5.5"/><circle class="n" cx="1402.9" cy="482.3" r="5.5"/><circle class="f" cx="1291.6" cy="492.4" r="5.5"/><circle class="s" cx="1224.9" cy="462.9" r="5.5"/><circle class="f" cx="1396.3" cy="218.8" r="5.5"/><circle class="n" cx="1266.8" cy="222.7" r="5.5"/><circle class="n" cx="1224.1" cy="426.2" r="5.5"/><circle class="f" cx="1213.2" cy="302.8" r="5.5"/><circle class="s" cx="1352.9" cy="148.2" r="5.5"/><circle class="n" cx="1252.8" cy="438.1" r="5.5"/><circle class="f" cx="1396.3" cy="357.1" r="5.5"/><circle class="s" cx="1247.4" cy="432.4" r="5.5"/><circle class="s" cx="1224.9" cy="469.9" r="5.5"/><circle class="f" cx="1213.2" cy="314.5" r="5.5"/><circle class="n" cx="1306.0" cy="348.6" r="5.5"/><circle class="f" cx="1293.1" cy="409.1" r="5.5"/><circle class="s" cx="1266.8" cy="164.2" r="5.5"/><circle class="n" cx="1213.2" cy="365.7" r="5.5"/><circle class="s" cx="1213.2" cy="258.3" r="5.5"/><circle class="f" cx="1277.6" cy="444.3" r="5.5"/><circle class="f" cx="1224.1" cy="390.5" r="5.5"/><circle class="n" cx="1247.4" cy="313.7" r="5.5"/><circle class="n" cx="1231.1" cy="447.4" r="5.5"/><circle class="s" cx="1136.9" cy="401.4" r="5.5"/><circle class="f" cx="1294.7" cy="495.5" r="5.5"/><circle class="s" cx="1213.2" cy="268.4" r="5.5"/><circle class="n" cx="1136.9" cy="500.7" r="5.5"/><circle class="n" cx="1241.9" cy="359.5" r="5.5"/><circle class="s" cx="1247.4" cy="406.0" r="5.5"/><circle class="s" cx="1136.9" cy="430.8" r="5.5"/><circle class="n" cx="1262.4" cy="354.8" r="5.5"/><circle class="n" cx="1331.9" cy="362.6" r="5.5"/><circle class="f" cx="1266.8" cy="262.2" r="5.5"/><circle class="n" cx="1277.6" cy="497.1" r="5.5"/><circle class="f" cx="1298.6" cy="402.9" r="5.5"/><circle class="n" cx="1270.6" cy="453.6" r="5.5"/><circle class="f" cx="1303.2" cy="444.3" r="5.5"/><circle class="n" cx="1271.4" cy="381.2" r="5.5"/><circle class="f" cx="1314.4" cy="340.8" r="5.5"/><circle class="s" cx="1271.4" cy="358.7" r="5.5"/><circle class="f" cx="1136.9" cy="521.9" r="5.5"/><circle class="s" cx="1262.4" cy="316.0" r="5.5"/><circle class="n" cx="1184.2" cy="305.5" r="5.5"/><circle class="n" cx="1136.9" cy="528.1" r="5.5"/><circle class="s" cx="1271.1" cy="222.7" r="5.5"/><circle class="s" cx="1136.9" cy="524.2" r="5.5"/><circle class="f" cx="1184.2" cy="347.1" r="5.5"/><circle class="s" cx="1266.8" cy="280.8" r="5.5"/>
<circle class="n" cx="298.9" cy="696.6" r="5.5"/><circle class="n" cx="271.0" cy="837.4" r="5.5"/><circle class="f" cx="276.3" cy="911.1" r="5.5"/><circle class="n" cx="223.0" cy="939.7" r="5.5"/><circle class="f" cx="144.5" cy="1014.0" r="5.5"/><circle class="f" cx="308.4" cy="802.9" r="5.5"/><circle class="s" cx="206.8" cy="867.4" r="5.5"/><circle class="f" cx="206.8" cy="876.5" r="5.5"/><circle class="s" cx="253.2" cy="927.7" r="5.5"/><circle class="n" cx="206.8" cy="911.1" r="5.5"/><circle class="s" cx="273.1" cy="958.1" r="5.5"/><circle class="n" cx="242.6" cy="984.2" r="5.5"/><circle class="n" cx="161.9" cy="750.7" r="5.5"/><circle class="s" cx="238.6" cy="776.7" r="5.5"/><circle class="f" cx="161.9" cy="869.2" r="5.5"/><circle class="f" cx="243.4" cy="911.1" r="5.5"/><circle class="s" cx="206.8" cy="927.9" r="5.5"/><circle class="n" cx="250.4" cy="879.3" r="5.5"/><circle class="n" cx="161.9" cy="712.3" r="5.5"/><circle class="n" cx="223.0" cy="781.1" r="5.5"/><circle class="f" cx="337.2" cy="878.8" r="5.5"/><circle class="f" cx="144.5" cy="1029.2" r="5.5"/><circle class="f" cx="230.9" cy="948.9" r="5.5"/><circle class="f" cx="206.8" cy="942.3" r="5.5"/><circle class="s" cx="161.9" cy="715.6" r="5.5"/><circle class="n" cx="178.5" cy="945.9" r="5.5"/><circle class="n" cx="384.5" cy="850.0" r="5.5"/><circle class="n" cx="337.2" cy="816.2" r="5.5"/><circle class="n" cx="242.6" cy="929.9" r="5.5"/><circle class="n" cx="205.7" cy="890.2" r="5.5"/><circle class="n" cx="161.9" cy="690.4" r="5.5"/><circle class="n" cx="337.2" cy="740.2" r="5.5"/><circle class="s" cx="187.9" cy="763.8" r="5.5"/><circle class="f" cx="288.0" cy="890.2" r="5.5"/><circle class="f" cx="384.5" cy="895.4" r="5.5"/><circle class="n" cx="187.9" cy="914.6" r="5.5"/><circle class="n" cx="221.6" cy="909.5" r="5.5"/><circle class="s" cx="271.0" cy="837.8" r="5.5"/><circle class="s" cx="371.2" cy="1005.6" r="5.5"/><circle class="n" cx="250.4" cy="907.5" r="5.5"/><circle class="n" cx="230.9" cy="1005.3" r="5.5"/><circle class="n" cx="161.9" cy="766.4" r="5.5"/><circle class="s" cx="297.9" cy="947.7" r="5.5"/><circle class="f" cx="271.0" cy="803.5" r="5.5"/><circle class="f" cx="242.6" cy="955.3" r="5.5"/><circle class="s" cx="370.9" cy="841.4" r="5.5"/><circle class="n" cx="322.9" cy="806.4" r="5.5"/><circle class="f" cx="253.2" cy="795.9" r="5.5"/><circle class="s" cx="288.0" cy="897.2" r="5.5"/><circle class="n" cx="366.0" cy="770.7" r="5.5"/><circle class="s" cx="308.4" cy="778.5" r="5.5"/><circle class="f" cx="273.1" cy="986.6" r="5.5"/><circle class="f" cx="223.0" cy="765.5" r="5.5"/><circle class="s" cx="253.2" cy="940.6" r="5.5"/><circle class="f" cx="250.4" cy="874.6" r="5.5"/><circle class="s" cx="190.7" cy="984.3" r="5.5"/><circle class="s" cx="271.0" cy="900.7" r="5.5"/><circle class="f" cx="371.2" cy="935.5" r="5.5"/><circle class="n" cx="238.6" cy="751.5" r="5.5"/><circle class="f" cx="223.0" cy="916.8" r="5.5"/><circle class="f" cx="308.4" cy="890.2" r="5.5"/><circle class="s" cx="230.9" cy="946.5" r="5.5"/><circle class="n" cx="161.9" cy="843.3" r="5.5"/><circle class="s" cx="206.8" cy="895.4" r="5.5"/><circle class="s" cx="223.0" cy="935.9" r="5.5"/><circle class="n" cx="384.5" cy="847.3" r="5.5"/><circle class="s" cx="223.0" cy="919.9" r="5.5"/><circle class="n" cx="308.9" cy="957.3" r="5.5"/><circle class="n" cx="206.8" cy="973.9" r="5.5"/><circle class="f" cx="161.9" cy="780.9" r="5.5"/><circle class="s" cx="144.5" cy="806.4" r="5.5"/><circle class="f" cx="161.9" cy="740.2" r="5.5"/><circle class="s" cx="144.5" cy="1007.9" r="5.5"/><circle class="s" cx="298.9" cy="781.2" r="5.5"/><circle class="n" cx="223.0" cy="862.3" r="5.5"/><circle class="f" cx="249.2" cy="850.0" r="5.5"/><circle class="n" cx="253.2" cy="976.6" r="5.5"/><circle class="f" cx="161.9" cy="762.9" r="5.5"/><circle class="s" cx="249.2" cy="792.5" r="5.5"/><circle class="f" cx="288.0" cy="992.2" r="5.5"/><circle class="s" cx="238.6" cy="755.0" r="5.5"/><circle class="n" cx="273.1" cy="988.5" r="5.5"/><circle class="f" cx="363.9" cy="928.5" r="5.5"/><circle class="f" cx="242.6" cy="939.1" r="5.5"/><circle class="n" cx="242.6" cy="933.9" r="5.5"/><circle class="s" cx="230.4" cy="801.2" r="5.5"/><circle class="n" cx="223.0" cy="960.7" r="5.5"/><circle class="n" cx="238.6" cy="897.8" r="5.5"/><circle class="n" cx="161.9" cy="757.6" r="5.5"/><circle class="n" cx="144.5" cy="915.5" r="5.5"/><circle class="f" cx="250.4" cy="870.8" r="5.5"/><circle class="s" cx="298.9" cy="745.4" r="5.5"/><circle class="s" cx="253.2" cy="1016.6" r="5.5"/><circle class="f" cx="221.6" cy="904.6" r="5.5"/><circle class="n" cx="161.9" cy="864.0" r="5.5"/><circle class="n" cx="266.1" cy="754.2" r="5.5"/><circle class="s" cx="384.5" cy="853.5" r="5.5"/><circle class="f" cx="378.7" cy="890.2" r="5.5"/><circle class="s" cx="308.9" cy="940.7" r="5.5"/><circle class="f" cx="206.8" cy="921.6" r="5.5"/><circle class="f" cx="223.0" cy="872.9" r="5.5"/><circle class="n" cx="273.1" cy="940.5" r="5.5"/><circle class="s" cx="206.8" cy="961.5" r="5.5"/><circle class="s" cx="273.1" cy="976.3" r="5.5"/><circle class="s" cx="243.4" cy="893.7" r="5.5"/><circle class="n" cx="253.2" cy="959.0" r="5.5"/><circle class="f" cx="253.2" cy="928.9" r="5.5"/><circle class="n" cx="370.9" cy="847.7" r="5.5"/><circle class="n" cx="238.6" cy="891.9" r="5.5"/><circle class="s" cx="238.6" cy="818.6" r="5.5"/><circle class="s" cx="366.0" cy="718.4" r="5.5"/><circle class="f" cx="366.0" cy="806.4" r="5.5"/><circle class="s" cx="253.2" cy="776.7" r="5.5"/><circle class="f" cx="242.6" cy="952.0" r="5.5"/><circle class="s" cx="238.6" cy="699.7" r="5.5"/><circle class="s" cx="206.8" cy="964.9" r="5.5"/><circle class="f" cx="238.6" cy="867.9" r="5.5"/><circle class="f" cx="223.0" cy="907.4" r="5.5"/><circle class="f" cx="298.9" cy="767.2" r="5.5"/><circle class="s" cx="253.2" cy="985.0" r="5.5"/><circle class="s" cx="253.2" cy="919.9" r="5.5"/><circle class="s" cx="249.2" cy="751.5" r="5.5"/><circle class="s" cx="206.8" cy="858.8" r="5.5"/><circle class="s" cx="276.3" cy="794.2" r="5.5"/><circle class="s" cx="271.0" cy="723.1" r="5.5"/><circle class="f" cx="175.0" cy="769.9" r="5.5"/><circle class="s" cx="223.0" cy="925.1" r="5.5"/><circle class="f" cx="252.2" cy="748.0" r="5.5"/><circle class="n" cx="322.9" cy="836.1" r="5.5"/><circle class="s" cx="298.9" cy="741.9" r="5.5"/><circle class="f" cx="191.1" cy="804.7" r="5.5"/><circle class="s" cx="308.4" cy="857.0" r="5.5"/><circle class="f" cx="190.7" cy="944.2" r="5.5"/><circle class="f" cx="273.1" cy="930.2" r="5.5"/><circle class="s" cx="253.2" cy="700.9" r="5.5"/><circle class="s" cx="242.6" cy="953.9" r="5.5"/><circle class="s" cx="273.1" cy="954.0" r="5.5"/><circle class="s" cx="322.9" cy="900.7" r="5.5"/><circle class="s" cx="223.0" cy="976.9" r="5.5"/><circle class="n" cx="371.2" cy="998.3" r="5.5"/><circle class="s" cx="161.9" cy="745.2" r="5.5"/><circle class="f" cx="271.0" cy="857.0" r="5.5"/><circle class="n" cx="253.2" cy="926.0" r="5.5"/><circle class="f" cx="273.1" cy="989.5" r="5.5"/><circle class="n" cx="370.9" cy="921.4" r="5.5"/><circle class="f" cx="238.6" cy="916.4" r="5.5"/><circle class="n" cx="238.6" cy="810.4" r="5.5"/><circle class="n" cx="322.9" cy="794.3" r="5.5"/><circle class="s" cx="379.6" cy="925.0" r="5.5"/><circle class="n" cx="242.6" cy="981.9" r="5.5"/><circle class="f" cx="238.6" cy="868.1" r="5.5"/><circle class="s" cx="206.8" cy="916.4" r="5.5"/><circle class="n" cx="384.5" cy="848.3" r="5.5"/><circle class="s" cx="276.3" cy="818.6" r="5.5"/><circle class="f" cx="288.0" cy="886.7" r="5.5"/><circle class="n" cx="297.9" cy="959.9" r="5.5"/><circle class="n" cx="206.8" cy="925.0" r="5.5"/><circle class="f" cx="144.5" cy="970.7" r="5.5"/><circle class="s" cx="276.3" cy="741.6" r="5.5"/><circle class="s" cx="253.2" cy="666.9" r="5.5"/><circle class="s" cx="298.9" cy="816.9" r="5.5"/><circle class="s" cx="161.9" cy="722.7" r="5.5"/><circle class="n" cx="276.3" cy="922.1" r="5.5"/><circle class="f" cx="371.2" cy="944.2" r="5.5"/><circle class="n" cx="214.6" cy="994.8" r="5.5"/><circle class="s" cx="223.0" cy="895.4" r="5.5"/><circle class="s" cx="238.6" cy="792.8" r="5.5"/><circle class="n" cx="378.7" cy="911.1" r="5.5"/><circle class="f" cx="308.9" cy="952.1" r="5.5"/><circle class="f" cx="238.6" cy="830.9" r="5.5"/><circle class="n" cx="187.9" cy="805.5" r="5.5"/><circle class="f" cx="238.6" cy="857.2" r="5.5"/><circle class="n" cx="273.1" cy="938.8" r="5.5"/><circle class="f" cx="161.9" cy="721.0" r="5.5"/><circle class="n" cx="205.7" cy="911.4" r="5.5"/><circle class="s" cx="175.0" cy="817.8" r="5.5"/><circle class="s" cx="298.9" cy="792.7" r="5.5"/><circle class="n" cx="253.2" cy="716.6" r="5.5"/><circle class="f" cx="161.9" cy="890.2" r="5.5"/><circle class="n" cx="337.2" cy="782.9" r="5.5"/><circle class="f" cx="271.7" cy="918.0" r="5.5"/><circle class="n" cx="223.0" cy="785.5" r="5.5"/><circle class="f" cx="206.8" cy="885.5" r="5.5"/><circle class="s" cx="271.0" cy="788.3" r="5.5"/><circle class="n" cx="308.4" cy="873.8" r="5.5"/><circle class="f" cx="249.2" cy="827.4" r="5.5"/><circle class="f" cx="214.6" cy="1020.1" r="5.5"/><circle class="s" cx="144.5" cy="976.0" r="5.5"/><circle class="f" cx="323.7" cy="925.9" r="5.5"/><circle class="n" cx="206.8" cy="984.7" r="5.5"/><circle class="s" cx="250.4" cy="923.2" r="5.5"/><circle class="s" cx="337.2" cy="773.4" r="5.5"/><circle class="n" cx="273.1" cy="940.5" r="5.5"/><circle class="s" cx="249.2" cy="881.5" r="5.5"/><circle class="n" cx="161.9" cy="814.1" r="5.5"/><circle class="n" cx="273.1" cy="975.4" r="5.5"/><circle class="f" cx="161.9" cy="798.7" r="5.5"/><circle class="s" cx="253.2" cy="930.7" r="5.5"/><circle class="f" cx="206.8" cy="935.9" r="5.5"/><circle class="f" cx="273.1" cy="951.0" r="5.5"/><circle class="s" cx="298.9" cy="677.4" r="5.5"/><circle class="s" cx="161.9" cy="715.8" r="5.5"/><circle class="n" cx="308.4" cy="755.9" r="5.5"/><circle class="n" cx="366.0" cy="773.4" r="5.5"/><circle class="s" cx="144.5" cy="876.2" r="5.5"/><circle class="s" cx="206.8" cy="951.8" r="5.5"/><circle class="s" cx="230.9" cy="984.3" r="5.5"/><circle class="s" cx="223.0" cy="952.5" r="5.5"/><circle class="s" cx="322.9" cy="851.8" r="5.5"/><circle class="n" cx="384.5" cy="883.5" r="5.5"/><circle class="s" cx="271.7" cy="893.7" r="5.5"/><circle class="n" cx="271.7" cy="917.0" r="5.5"/><circle class="n" cx="308.4" cy="922.8" r="5.5"/><circle class="n" cx="190.7" cy="1006.2" r="5.5"/><circle class="n" cx="161.9" cy="785.0" r="5.5"/><circle class="n" cx="253.2" cy="948.6" r="5.5"/><circle class="s" cx="161.9" cy="781.3" r="5.5"/><circle class="s" cx="206.8" cy="951.7" r="5.5"/><circle class="f" cx="308.4" cy="799.4" r="5.5"/><circle class="n" cx="206.8" cy="974.5" r="5.5"/><circle class="n" cx="253.2" cy="699.2" r="5.5"/><circle class="n" cx="273.1" cy="935.7" r="5.5"/><circle class="n" cx="223.0" cy="858.8" r="5.5"/><circle class="f" cx="366.0" cy="724.5" r="5.5"/><circle class="n" cx="161.9" cy="701.0" r="5.5"/><circle class="n" cx="161.9" cy="781.0" r="5.5"/><circle class="n" cx="206.8" cy="933.9" r="5.5"/><circle class="f" cx="221.6" cy="900.5" r="5.5"/><circle class="f" cx="271.0" cy="884.1" r="5.5"/><circle class="f" cx="253.2" cy="946.8" r="5.5"/><circle class="n" cx="161.9" cy="840.6" r="5.5"/><circle class="s" cx="366.0" cy="817.8" r="5.5"/><circle class="s" cx="308.4" cy="743.7" r="5.5"/><circle class="s" cx="323.7" cy="945.9" r="5.5"/><circle class="s" cx="230.9" cy="966.9" r="5.5"/><circle class="s" cx="273.1" cy="940.6" r="5.5"/><circle class="n" cx="253.2" cy="983.1" r="5.5"/><circle class="f" cx="271.0" cy="914.6" r="5.5"/><circle class="f" cx="206.8" cy="939.1" r="5.5"/><circle class="s" cx="242.6" cy="984.1" r="5.5"/><circle class="f" cx="223.0" cy="844.8" r="5.5"/><circle class="f" cx="298.9" cy="893.7" r="5.5"/><circle class="s" cx="271.0" cy="838.4" r="5.5"/><circle class="f" cx="161.9" cy="806.0" r="5.5"/><circle class="s" cx="379.6" cy="949.4" r="5.5"/><circle class="n" cx="223.0" cy="936.6" r="5.5"/><circle class="s" cx="190.7" cy="975.6" r="5.5"/><circle class="n" cx="223.0" cy="992.2" r="5.5"/><circle class="f" cx="206.8" cy="943.9" r="5.5"/><circle class="f" cx="322.9" cy="844.8" r="5.5"/><circle class="n" cx="249.2" cy="757.6" r="5.5"/><circle class="f" cx="308.4" cy="689.6" r="5.5"/><circle class="f" cx="238.6" cy="796.2" r="5.5"/><circle class="s" cx="273.1" cy="985.8" r="5.5"/><circle class="n" cx="223.0" cy="938.6" r="5.5"/><circle class="f" cx="161.9" cy="706.6" r="5.5"/><circle class="f" cx="187.9" cy="830.9" r="5.5"/><circle class="s" cx="276.3" cy="916.6" r="5.5"/><circle class="n" cx="144.5" cy="945.1" r="5.5"/><circle class="s" cx="242.6" cy="931.7" r="5.5"/><circle class="f" cx="242.6" cy="984.5" r="5.5"/><circle class="n" cx="322.9" cy="829.8" r="5.5"/><circle class="n" cx="308.4" cy="748.9" r="5.5"/><circle class="n" cx="242.6" cy="953.6" r="5.5"/><circle class="f" cx="238.6" cy="924.9" r="5.5"/><circle class="n" cx="223.0" cy="790.3" r="5.5"/><circle class="f" cx="230.9" cy="965.4" r="5.5"/><circle class="f" cx="206.8" cy="968.6" r="5.5"/><circle class="s" cx="161.9" cy="692.2" r="5.5"/><circle class="f" cx="230.9" cy="953.3" r="5.5"/><circle class="f" cx="206.8" cy="926.7" r="5.5"/><circle class="f" cx="308.4" cy="858.8" r="5.5"/><circle class="s" cx="271.0" cy="767.2" r="5.5"/><circle class="s" cx="371.2" cy="957.3" r="5.5"/><circle class="f" cx="273.1" cy="983.6" r="5.5"/><circle class="s" cx="238.6" cy="806.4" r="5.5"/><circle class="n" cx="253.2" cy="989.5" r="5.5"/><circle class="s" cx="253.2" cy="930.5" r="5.5"/><circle class="n" cx="161.9" cy="794.6" r="5.5"/><circle class="n" cx="253.2" cy="937.7" r="5.5"/><circle class="n" cx="337.2" cy="805.5" r="5.5"/><circle class="s" cx="161.9" cy="818.1" r="5.5"/><circle class="f" cx="337.2" cy="794.2" r="5.5"/><circle class="s" cx="161.9" cy="831.0" r="5.5"/><circle class="f" cx="253.2" cy="938.4" r="5.5"/><circle class="n" cx="242.6" cy="994.8" r="5.5"/><circle class="n" cx="271.0" cy="752.4" r="5.5"/><circle class="n" cx="161.9" cy="865.8" r="5.5"/><circle class="f" cx="271.0" cy="844.1" r="5.5"/><circle class="f" cx="384.5" cy="830.9" r="5.5"/><circle class="f" cx="175.0" cy="1000.4" r="5.5"/><circle class="n" cx="308.4" cy="733.2" r="5.5"/><circle class="s" cx="238.6" cy="813.6" r="5.5"/><circle class="s" cx="337.2" cy="914.6" r="5.5"/><circle class="s" cx="223.0" cy="981.0" r="5.5"/><circle class="f" cx="253.2" cy="960.3" r="5.5"/><circle class="n" cx="308.4" cy="891.9" r="5.5"/><circle class="s" cx="337.2" cy="900.7" r="5.5"/><circle class="n" cx="250.4" cy="872.9" r="5.5"/><circle class="n" cx="337.2" cy="974.4" r="5.5"/><circle class="n" cx="308.4" cy="900.4" r="5.5"/><circle class="n" cx="297.9" cy="936.3" r="5.5"/><circle class="s" cx="273.1" cy="955.6" r="5.5"/><circle class="n" cx="161.9" cy="789.9" r="5.5"/><circle class="f" cx="273.1" cy="942.6" r="5.5"/><circle class="s" cx="298.9" cy="747.2" r="5.5"/><circle class="f" cx="238.6" cy="799.0" r="5.5"/><circle class="n" cx="161.9" cy="797.8" r="5.5"/><circle class="n" cx="253.2" cy="937.1" r="5.5"/><circle class="f" cx="298.9" cy="920.5" r="5.5"/><circle class="s" cx="178.5" cy="959.0" r="5.5"/><circle class="n" cx="271.0" cy="851.8" r="5.5"/><circle class="f" cx="308.4" cy="900.7" r="5.5"/><circle class="s" cx="337.2" cy="935.5" r="5.5"/><circle class="f" cx="242.6" cy="985.5" r="5.5"/><circle class="n" cx="253.2" cy="948.9" r="5.5"/><circle class="n" cx="371.2" cy="972.1" r="5.5"/><circle class="s" cx="271.0" cy="802.9" r="5.5"/><circle class="n" cx="298.9" cy="798.5" r="5.5"/><circle class="f" cx="298.9" cy="792.5" r="5.5"/><circle class="s" cx="161.9" cy="666.9" r="5.5"/><circle class="n" cx="161.9" cy="795.6" r="5.5"/><circle class="f" cx="187.9" cy="883.2" r="5.5"/><circle class="s" cx="253.2" cy="946.0" r="5.5"/><circle class="n" cx="223.0" cy="998.3" r="5.5"/><circle class="f" cx="308.4" cy="703.5" r="5.5"/><circle class="f" cx="190.7" cy="1003.5" r="5.5"/><circle class="n" cx="175.0" cy="911.1" r="5.5"/><circle class="s" cx="250.4" cy="821.8" r="5.5"/><circle class="n" cx="144.5" cy="940.7" r="5.5"/><circle class="f" cx="322.9" cy="787.2" r="5.5"/><circle class="s" cx="253.2" cy="925.2" r="5.5"/><circle class="s" cx="175.0" cy="788.1" r="5.5"/><circle class="f" cx="337.2" cy="919.9" r="5.5"/><circle class="n" cx="253.2" cy="778.5" r="5.5"/><circle class="f" cx="308.4" cy="809.9" r="5.5"/><circle class="s" cx="308.4" cy="726.2" r="5.5"/><circle class="s" cx="249.2" cy="809.9" r="5.5"/><circle class="f" cx="223.0" cy="778.5" r="5.5"/><circle class="n" cx="273.1" cy="961.6" r="5.5"/><circle class="f" cx="322.9" cy="801.2" r="5.5"/><circle class="n" cx="278.4" cy="961.7" r="5.5"/><circle class="n" cx="308.4" cy="715.8" r="5.5"/><circle class="s" cx="308.4" cy="752.4" r="5.5"/><circle class="n" cx="271.0" cy="910.2" r="5.5"/><circle class="s" cx="223.0" cy="937.3" r="5.5"/><circle class="n" cx="271.0" cy="907.6" r="5.5"/><circle class="f" cx="206.8" cy="880.0" r="5.5"/><circle class="n" cx="238.6" cy="836.5" r="5.5"/><circle class="f" cx="366.0" cy="850.0" r="5.5"/><circle class="s" cx="242.6" cy="967.2" r="5.5"/><circle class="s" cx="144.5" cy="955.0" r="5.5"/><circle class="n" cx="271.0" cy="856.7" r="5.5"/><circle class="f" cx="161.9" cy="919.9" r="5.5"/><circle class="s" cx="191.1" cy="901.5" r="5.5"/><circle class="s" cx="253.2" cy="771.6" r="5.5"/><circle class="s" cx="221.6" cy="899.3" r="5.5"/><circle class="s" cx="223.0" cy="928.2" r="5.5"/><circle class="n" cx="273.1" cy="968.1" r="5.5"/><circle class="s" cx="206.8" cy="972.9" r="5.5"/><circle class="n" cx="253.7" cy="907.9" r="5.5"/><circle class="n" cx="298.9" cy="841.3" r="5.5"/><circle class="s" cx="205.7" cy="908.7" r="5.5"/><circle class="n" cx="371.2" cy="946.8" r="5.5"/><circle class="s" cx="242.6" cy="950.5" r="5.5"/><circle class="n" cx="288.0" cy="858.8" r="5.5"/><circle class="f" cx="238.6" cy="782.0" r="5.5"/><circle class="f" cx="242.6" cy="1007.9" r="5.5"/><circle class="n" cx="384.5" cy="847.9" r="5.5"/><circle class="f" cx="253.2" cy="967.6" r="5.5"/><circle class="f" cx="308.4" cy="834.3" r="5.5"/><circle class="s" cx="271.0" cy="829.6" r="5.5"/><circle class="n" cx="187.9" cy="742.3" r="5.5"/><circle class="n" cx="366.0" cy="775.0" r="5.5"/><circle class="n" cx="206.8" cy="1007.0" r="5.5"/><circle class="f" cx="161.9" cy="769.9" r="5.5"/><circle class="n" cx="238.6" cy="805.5" r="5.5"/><circle class="s" cx="332.5" cy="797.7" r="5.5"/><circle class="f" cx="161.9" cy="772.6" r="5.5"/><circle class="n" cx="271.0" cy="918.1" r="5.5"/><circle class="f" cx="271.0" cy="801.2" r="5.5"/><circle class="n" cx="161.9" cy="733.7" r="5.5"/><circle class="n" cx="297.9" cy="993.1" r="5.5"/><circle class="n" cx="238.6" cy="911.1" r="5.5"/><circle class="n" cx="223.0" cy="956.5" r="5.5"/><circle class="f" cx="161.9" cy="747.2" r="5.5"/><circle class="f" cx="223.0" cy="891.9" r="5.5"/><circle class="f" cx="242.6" cy="931.9" r="5.5"/><circle class="s" cx="322.9" cy="822.0" r="5.5"/><circle class="n" cx="308.4" cy="782.9" r="5.5"/><circle class="f" cx="161.9" cy="848.8" r="5.5"/><circle class="s" cx="298.9" cy="808.2" r="5.5"/><circle class="f" cx="242.6" cy="971.8" r="5.5"/><circle class="f" cx="206.8" cy="930.9" r="5.5"/><circle class="s" cx="322.9" cy="850.6" r="5.5"/><circle class="f" cx="276.3" cy="844.6" r="5.5"/><circle class="s" cx="205.7" cy="897.6" r="5.5"/><circle class="f" cx="308.4" cy="850.5" r="5.5"/><circle class="n" cx="253.2" cy="680.9" r="5.5"/><circle class="s" cx="266.1" cy="737.6" r="5.5"/><circle class="n" cx="288.0" cy="904.2" r="5.5"/><circle class="f" cx="276.3" cy="867.9" r="5.5"/><circle class="s" cx="241.7" cy="915.2" r="5.5"/><circle class="s" cx="253.2" cy="662.5" r="5.5"/><circle class="s" cx="384.5" cy="893.7" r="5.5"/><circle class="f" cx="337.2" cy="897.2" r="5.5"/><circle class="n" cx="175.0" cy="759.4" r="5.5"/><circle class="n" cx="161.9" cy="736.7" r="5.5"/><circle class="n" cx="323.7" cy="975.6" r="5.5"/><circle class="f" cx="242.6" cy="936.6" r="5.5"/><circle class="f" cx="187.9" cy="806.4" r="5.5"/><circle class="s" cx="223.0" cy="929.2" r="5.5"/><circle class="f" cx="223.0" cy="956.5" r="5.5"/><circle class="n" cx="337.2" cy="928.5" r="5.5"/><circle class="n" cx="266.1" cy="834.3" r="5.5"/><circle class="n" cx="273.1" cy="977.4" r="5.5"/><circle class="s" cx="337.2" cy="823.6" r="5.5"/><circle class="n" cx="323.7" cy="980.9" r="5.5"/><circle class="n" cx="206.8" cy="992.6" r="5.5"/><circle class="f" cx="161.9" cy="834.3" r="5.5"/><circle class="s" cx="223.0" cy="803.4" r="5.5"/><circle class="f" cx="221.6" cy="910.9" r="5.5"/><circle class="s" cx="271.0" cy="673.0" r="5.5"/><circle class="n" cx="298.9" cy="829.1" r="5.5"/><circle class="f" cx="332.5" cy="843.1" r="5.5"/><circle class="f" cx="337.2" cy="818.2" r="5.5"/><circle class="s" cx="337.2" cy="924.3" r="5.5"/><circle class="n" cx="206.8" cy="1021.0" r="5.5"/><circle class="n" cx="323.7" cy="932.0" r="5.5"/><circle class="n" cx="161.9" cy="780.1" r="5.5"/><circle class="s" cx="271.0" cy="792.5" r="5.5"/><circle class="s" cx="161.9" cy="774.4" r="5.5"/><circle class="n" cx="214.6" cy="986.1" r="5.5"/><circle class="s" cx="378.7" cy="857.0" r="5.5"/><circle class="n" cx="161.9" cy="694.8" r="5.5"/><circle class="s" cx="370.9" cy="897.2" r="5.5"/><circle class="f" cx="308.4" cy="794.2" r="5.5"/><circle class="n" cx="221.6" cy="898.1" r="5.5"/><circle class="s" cx="337.2" cy="844.8" r="5.5"/><circle class="f" cx="298.9" cy="793.4" r="5.5"/><circle class="s" cx="266.1" cy="850.0" r="5.5"/><circle class="f" cx="308.4" cy="736.7" r="5.5"/><circle class="s" cx="308.4" cy="719.2" r="5.5"/><circle class="s" cx="308.4" cy="660.8" r="5.5"/><circle class="s" cx="253.2" cy="890.2" r="5.5"/><circle class="f" cx="223.0" cy="948.2" r="5.5"/><circle class="s" cx="175.0" cy="740.2" r="5.5"/><circle class="s" cx="238.6" cy="735.3" r="5.5"/><circle class="f" cx="214.6" cy="968.6" r="5.5"/><circle class="f" cx="241.7" cy="889.3" r="5.5"/><circle class="n" cx="271.0" cy="895.9" r="5.5"/><circle class="f" cx="206.8" cy="985.5" r="5.5"/><circle class="n" cx="271.0" cy="864.0" r="5.5"/><circle class="f" cx="175.0" cy="801.2" r="5.5"/><circle class="n" cx="187.9" cy="879.7" r="5.5"/><circle class="f" cx="288.0" cy="884.6" r="5.5"/><circle class="s" cx="288.0" cy="946.8" r="5.5"/><circle class="n" cx="238.6" cy="780.6" r="5.5"/><circle class="f" cx="253.7" cy="894.2" r="5.5"/><circle class="f" cx="266.1" cy="771.6" r="5.5"/><circle class="f" cx="241.7" cy="889.7" r="5.5"/><circle class="f" cx="241.7" cy="901.7" r="5.5"/><circle class="s" cx="253.2" cy="941.1" r="5.5"/><circle class="f" cx="241.7" cy="893.3" r="5.5"/><circle class="s" cx="298.9" cy="843.3" r="5.5"/><circle class="n" cx="298.9" cy="750.7" r="5.5"/><circle class="s" cx="249.2" cy="914.6" r="5.5"/><circle class="f" cx="298.9" cy="904.2" r="5.5"/><circle class="s" cx="206.8" cy="959.8" r="5.5"/><circle class="s" cx="273.1" cy="980.8" r="5.5"/><circle class="n" cx="230.4" cy="829.1" r="5.5"/><circle class="n" cx="161.9" cy="702.2" r="5.5"/><circle class="n" cx="308.9" cy="943.3" r="5.5"/><circle class="n" cx="161.9" cy="698.3" r="5.5"/><circle class="f" cx="297.9" cy="984.3" r="5.5"/><circle class="s" cx="323.7" cy="979.1" r="5.5"/><circle class="s" cx="273.1" cy="925.6" r="5.5"/><circle class="n" cx="238.6" cy="809.9" r="5.5"/><circle class="s" cx="238.6" cy="819.2" r="5.5"/><circle class="f" cx="223.0" cy="804.1" r="5.5"/><circle class="n" cx="242.6" cy="941.2" r="5.5"/><circle class="f" cx="223.0" cy="946.4" r="5.5"/><circle class="n" cx="253.7" cy="914.3" r="5.5"/><circle class="s" cx="238.6" cy="771.6" r="5.5"/><circle class="s" cx="288.0" cy="827.8" r="5.5"/><circle class="n" cx="249.2" cy="782.0" r="5.5"/><circle class="s" cx="221.6" cy="923.7" r="5.5"/><circle class="f" cx="366.0" cy="768.1" r="5.5"/><circle class="f" cx="298.9" cy="679.1" r="5.5"/><circle class="s" cx="206.8" cy="932.6" r="5.5"/><circle class="s" cx="161.9" cy="807.3" r="5.5"/><circle class="s" cx="253.7" cy="909.7" r="5.5"/><circle class="s" cx="238.6" cy="825.6" r="5.5"/><circle class="s" cx="161.9" cy="754.2" r="5.5"/><circle class="n" cx="214.6" cy="1030.6" r="5.5"/><circle class="n" cx="249.2" cy="897.2" r="5.5"/><circle class="f" cx="253.2" cy="719.2" r="5.5"/><circle class="f" cx="253.2" cy="973.2" r="5.5"/><circle class="f" cx="223.0" cy="841.3" r="5.5"/><circle class="n" cx="161.9" cy="799.8" r="5.5"/><circle class="n" cx="238.6" cy="716.6" r="5.5"/><circle class="n" cx="242.6" cy="965.6" r="5.5"/><circle class="s" cx="238.6" cy="884.6" r="5.5"/><circle class="s" cx="308.4" cy="810.3" r="5.5"/><circle class="n" cx="298.9" cy="780.7" r="5.5"/><circle class="n" cx="230.9" cy="926.0" r="5.5"/><circle class="f" cx="253.7" cy="922.6" r="5.5"/><circle class="f" cx="308.4" cy="729.7" r="5.5"/><circle class="f" cx="308.4" cy="835.0" r="5.5"/><circle class="s" cx="223.0" cy="760.3" r="5.5"/><circle class="s" cx="187.9" cy="758.0" r="5.5"/><circle class="f" cx="238.6" cy="897.2" r="5.5"/><circle class="n" cx="253.2" cy="970.0" r="5.5"/><circle class="n" cx="242.6" cy="1000.0" r="5.5"/><circle class="f" cx="206.8" cy="1005.3" r="5.5"/><circle class="n" cx="161.9" cy="693.9" r="5.5"/><circle class="n" cx="276.3" cy="890.2" r="5.5"/><circle class="f" cx="288.0" cy="838.1" r="5.5"/><circle class="s" cx="161.9" cy="853.4" r="5.5"/><circle class="n" cx="308.4" cy="846.6" r="5.5"/><circle class="n" cx="161.9" cy="775.1" r="5.5"/><circle class="n" cx="322.9" cy="827.4" r="5.5"/><circle class="s" cx="288.0" cy="884.6" r="5.5"/><circle class="n" cx="298.9" cy="914.6" r="5.5"/><circle class="f" cx="384.5" cy="819.5" r="5.5"/><circle class="n" cx="337.2" cy="640.4" r="5.5"/><circle class="f" cx="378.7" cy="916.4" r="5.5"/><circle class="s" cx="298.9" cy="649.4" r="5.5"/><circle class="n" cx="230.9" cy="934.9" r="5.5"/><circle class="f" cx="161.9" cy="714.3" r="5.5"/><circle class="s" cx="161.9" cy="731.4" r="5.5"/><circle class="n" cx="371.2" cy="932.0" r="5.5"/><circle class="f" cx="206.8" cy="969.0" r="5.5"/><circle class="f" cx="337.2" cy="888.4" r="5.5"/><circle class="n" cx="161.9" cy="807.7" r="5.5"/><circle class="n" cx="308.4" cy="700.0" r="5.5"/><circle class="f" cx="278.4" cy="965.1" r="5.5"/><circle class="s" cx="323.7" cy="987.0" r="5.5"/><circle class="f" cx="253.2" cy="643.3" r="5.5"/><circle class="f" cx="238.6" cy="912.0" r="5.5"/><circle class="n" cx="308.4" cy="685.2" r="5.5"/><circle class="s" cx="161.9" cy="844.4" r="5.5"/><circle class="s" cx="308.4" cy="895.4" r="5.5"/><circle class="f" cx="370.9" cy="887.4" r="5.5"/><circle class="n" cx="238.6" cy="785.5" r="5.5"/><circle class="n" cx="206.8" cy="1012.3" r="5.5"/><circle class="n" cx="253.2" cy="974.5" r="5.5"/><circle class="n" cx="298.9" cy="897.2" r="5.5"/><circle class="n" cx="253.2" cy="946.3" r="5.5"/><circle class="f" cx="161.9" cy="797.0" r="5.5"/><circle class="s" cx="273.1" cy="944.5" r="5.5"/><circle class="f" cx="205.7" cy="913.6" r="5.5"/><circle class="f" cx="273.1" cy="979.0" r="5.5"/><circle class="n" cx="175.0" cy="785.5" r="5.5"/><circle class="f" cx="298.9" cy="809.9" r="5.5"/><circle class="s" cx="161.9" cy="649.4" r="5.5"/><circle class="n" cx="288.0" cy="936.3" r="5.5"/><circle class="s" cx="273.1" cy="932.1" r="5.5"/><circle class="s" cx="271.0" cy="797.7" r="5.5"/><circle class="s" cx="206.8" cy="918.1" r="5.5"/><circle class="n" cx="238.6" cy="857.7" r="5.5"/><circle class="s" cx="206.8" cy="989.9" r="5.5"/><circle class="f" cx="271.0" cy="792.0" r="5.5"/><circle class="s" cx="278.4" cy="984.3" r="5.5"/><circle class="s" cx="288.0" cy="852.1" r="5.5"/><circle class="s" cx="242.6" cy="952.5" r="5.5"/><circle class="n" cx="271.0" cy="809.9" r="5.5"/><circle class="f" cx="249.2" cy="799.4" r="5.5"/><circle class="s" cx="214.6" cy="977.4" r="5.5"/><circle class="f" cx="337.2" cy="945.9" r="5.5"/><circle class="f" cx="253.2" cy="1007.0" r="5.5"/><circle class="n" cx="288.0" cy="917.1" r="5.5"/><circle class="s" cx="223.0" cy="958.6" r="5.5"/><circle class="s" cx="298.9" cy="888.4" r="5.5"/><circle class="n" cx="214.6" cy="1026.2" r="5.5"/><circle class="n" cx="241.7" cy="909.1" r="5.5"/><circle class="s" cx="253.2" cy="658.2" r="5.5"/><circle class="s" cx="337.2" cy="899.9" r="5.5"/><circle class="n" cx="230.9" cy="1030.6" r="5.5"/><circle class="n" cx="187.9" cy="860.5" r="5.5"/><circle class="n" cx="308.4" cy="740.2" r="5.5"/><circle class="n" cx="205.7" cy="915.4" r="5.5"/><circle class="f" cx="161.9" cy="769.5" r="5.5"/><circle class="n" cx="308.4" cy="712.3" r="5.5"/><circle class="s" cx="298.9" cy="891.7" r="5.5"/><circle class="s" cx="276.3" cy="918.1" r="5.5"/><circle class="f" cx="144.5" cy="991.7" r="5.5"/><circle class="s" cx="161.9" cy="834.1" r="5.5"/><circle class="n" cx="161.9" cy="853.1" r="5.5"/><circle class="f" cx="206.8" cy="859.9" r="5.5"/><circle class="f" cx="175.0" cy="815.1" r="5.5"/><circle class="n" cx="271.0" cy="764.6" r="5.5"/><circle class="s" cx="242.6" cy="982.2" r="5.5"/><circle class="n" cx="206.8" cy="902.4" r="5.5"/><circle class="n" cx="337.2" cy="953.8" r="5.5"/><circle class="f" cx="161.9" cy="830.2" r="5.5"/><circle class="f" cx="223.0" cy="830.8" r="5.5"/><circle class="n" cx="276.3" cy="808.2" r="5.5"/><circle class="s" cx="161.9" cy="748.7" r="5.5"/><circle class="n" cx="337.2" cy="830.9" r="5.5"/><circle class="s" cx="223.0" cy="794.2" r="5.5"/><circle class="s" cx="161.9" cy="786.1" r="5.5"/><circle class="n" cx="187.9" cy="895.4" r="5.5"/><circle class="n" cx="242.6" cy="976.3" r="5.5"/><circle class="f" cx="271.0" cy="788.5" r="5.5"/><circle class="f" cx="238.6" cy="853.5" r="5.5"/><circle class="f" cx="271.0" cy="844.8" r="5.5"/><circle class="s" cx="161.9" cy="785.4" r="5.5"/><circle class="s" cx="297.9" cy="979.1" r="5.5"/><circle class="n" cx="271.0" cy="849.3" r="5.5"/><circle class="f" cx="273.1" cy="987.8" r="5.5"/><circle class="f" cx="223.0" cy="837.8" r="5.5"/><circle class="f" cx="266.1" cy="776.7" r="5.5"/><circle class="n" cx="190.7" cy="955.5" r="5.5"/><circle class="n" cx="161.9" cy="828.5" r="5.5"/><circle class="n" cx="241.7" cy="922.3" r="5.5"/><circle class="s" cx="337.2" cy="738.4" r="5.5"/><circle class="f" cx="238.6" cy="710.5" r="5.5"/><circle class="f" cx="161.9" cy="815.0" r="5.5"/><circle class="n" cx="144.5" cy="937.2" r="5.5"/><circle class="s" cx="241.7" cy="899.1" r="5.5"/><circle class="f" cx="223.0" cy="809.9" r="5.5"/><circle class="s" cx="206.8" cy="907.6" r="5.5"/><circle class="n" cx="253.7" cy="892.3" r="5.5"/><circle class="n" cx="271.0" cy="916.2" r="5.5"/><circle class="s" cx="271.7" cy="891.9" r="5.5"/><circle class="n" cx="223.0" cy="901.0" r="5.5"/><circle class="f" cx="276.3" cy="731.8" r="5.5"/><circle class="f" cx="206.8" cy="984.2" r="5.5"/><circle class="n" cx="298.9" cy="722.7" r="5.5"/><circle class="n" cx="230.9" cy="939.8" r="5.5"/><circle class="s" cx="187.9" cy="808.2" r="5.5"/><circle class="n" cx="271.0" cy="871.6" r="5.5"/><circle class="n" cx="161.9" cy="775.3" r="5.5"/><circle class="s" cx="242.6" cy="928.4" r="5.5"/><circle class="f" cx="187.9" cy="877.1" r="5.5"/><circle class="s" cx="298.9" cy="901.3" r="5.5"/><circle class="n" cx="288.0" cy="908.6" r="5.5"/><circle class="n" cx="223.0" cy="934.4" r="5.5"/><circle class="f" cx="161.9" cy="840.9" r="5.5"/><circle class="n" cx="253.2" cy="954.7" r="5.5"/><circle class="f" cx="161.9" cy="726.2" r="5.5"/><circle class="s" cx="323.7" cy="953.8" r="5.5"/><circle class="s" cx="223.0" cy="950.6" r="5.5"/><circle class="f" cx="273.1" cy="941.4" r="5.5"/><circle class="n" cx="253.2" cy="653.8" r="5.5"/><circle class="n" cx="366.0" cy="698.3" r="5.5"/><circle class="s" cx="223.0" cy="677.0" r="5.5"/><circle class="f" cx="308.4" cy="745.4" r="5.5"/><circle class="n" cx="144.5" cy="1021.9" r="5.5"/><circle class="s" cx="161.9" cy="806.4" r="5.5"/><circle class="f" cx="206.8" cy="940.8" r="5.5"/><circle class="f" cx="323.7" cy="977.4" r="5.5"/><circle class="f" cx="384.5" cy="858.4" r="5.5"/><circle class="n" cx="190.7" cy="945.9" r="5.5"/><circle class="n" cx="366.0" cy="895.4" r="5.5"/><circle class="f" cx="276.3" cy="896.6" r="5.5"/><circle class="n" cx="273.1" cy="1007.4" r="5.5"/><circle class="n" cx="273.1" cy="940.7" r="5.5"/><circle class="f" cx="187.9" cy="841.3" r="5.5"/><circle class="n" cx="242.6" cy="974.2" r="5.5"/><circle class="n" cx="253.2" cy="909.4" r="5.5"/><circle class="f" cx="178.5" cy="932.9" r="5.5"/><circle class="f" cx="206.8" cy="850.0" r="5.5"/><circle class="f" cx="243.4" cy="844.8" r="5.5"/><circle class="f" cx="161.9" cy="729.3" r="5.5"/><circle class="s" cx="271.7" cy="921.0" r="5.5"/><circle class="n" cx="253.2" cy="926.9" r="5.5"/><circle class="n" cx="370.9" cy="911.1" r="5.5"/><circle class="f" cx="249.2" cy="766.4" r="5.5"/><circle class="n" cx="242.6" cy="979.8" r="5.5"/><circle class="s" cx="161.9" cy="701.8" r="5.5"/><circle class="n" cx="271.0" cy="893.7" r="5.5"/><circle class="s" cx="223.0" cy="870.6" r="5.5"/><circle class="s" cx="238.6" cy="864.9" r="5.5"/><circle class="n" cx="206.8" cy="961.6" r="5.5"/><circle class="n" cx="308.4" cy="812.4" r="5.5"/><circle class="f" cx="298.9" cy="780.2" r="5.5"/><circle class="n" cx="308.4" cy="913.8" r="5.5"/><circle class="n" cx="366.0" cy="753.3" r="5.5"/><circle class="n" cx="271.0" cy="835.9" r="5.5"/><circle class="s" cx="242.6" cy="942.3" r="5.5"/><circle class="s" cx="371.2" cy="976.5" r="5.5"/><circle class="n" cx="206.8" cy="956.1" r="5.5"/><circle class="f" cx="322.9" cy="823.9" r="5.5"/><circle class="s" cx="371.2" cy="938.1" r="5.5"/><circle class="f" cx="242.6" cy="928.3" r="5.5"/><circle class="n" cx="187.9" cy="816.9" r="5.5"/><circle class="s" cx="223.0" cy="750.7" r="5.5"/><circle class="n" cx="325.5" cy="743.7" r="5.5"/><circle class="n" cx="253.7" cy="893.3" r="5.5"/><circle class="f" cx="271.0" cy="820.4" r="5.5"/><circle class="n" cx="238.6" cy="848.3" r="5.5"/><circle class="n" cx="242.6" cy="928.7" r="5.5"/><circle class="s" cx="322.9" cy="794.5" r="5.5"/><circle class="n" cx="322.9" cy="865.8" r="5.5"/><circle class="f" cx="238.6" cy="789.0" r="5.5"/><circle class="s" cx="271.0" cy="815.1" r="5.5"/><circle class="n" cx="271.0" cy="832.6" r="5.5"/><circle class="s" cx="223.0" cy="726.2" r="5.5"/><circle class="f" cx="206.8" cy="973.6" r="5.5"/><circle class="n" cx="384.5" cy="860.5" r="5.5"/><circle class="s" cx="230.9" cy="963.6" r="5.5"/><circle class="s" cx="337.2" cy="890.2" r="5.5"/><circle class="s" cx="223.0" cy="959.4" r="5.5"/><circle class="f" cx="271.0" cy="782.0" r="5.5"/><circle class="f" cx="206.8" cy="903.9" r="5.5"/><circle class="s" cx="271.7" cy="890.5" r="5.5"/><circle class="f" cx="322.9" cy="907.6" r="5.5"/><circle class="n" cx="271.0" cy="890.2" r="5.5"/><circle class="f" cx="271.0" cy="669.5" r="5.5"/><circle class="s" cx="238.6" cy="904.2" r="5.5"/><circle class="n" cx="230.9" cy="986.1" r="5.5"/><circle class="n" cx="206.8" cy="967.8" r="5.5"/><circle class="s" cx="242.6" cy="950.4" r="5.5"/><circle class="s" cx="161.9" cy="778.8" r="5.5"/><circle class="n" cx="242.6" cy="972.2" r="5.5"/><circle class="n" cx="230.9" cy="933.6" r="5.5"/><circle class="s" cx="161.9" cy="886.7" r="5.5"/><circle class="s" cx="288.0" cy="829.1" r="5.5"/><circle class="n" cx="271.0" cy="909.4" r="5.5"/><circle class="s" cx="144.5" cy="872.7" r="5.5"/><circle class="s" cx="308.9" cy="927.6" r="5.5"/><circle class="f" cx="223.0" cy="723.6" r="5.5"/><circle class="s" cx="370.9" cy="836.1" r="5.5"/><circle class="s" cx="366.0" cy="730.6" r="5.5"/><circle class="f" cx="273.1" cy="926.6" r="5.5"/><circle class="s" cx="384.5" cy="846.6" r="5.5"/><circle class="f" cx="238.6" cy="876.7" r="5.5"/><circle class="n" cx="242.6" cy="925.2" r="5.5"/><circle class="n" cx="276.3" cy="822.4" r="5.5"/><circle class="s" cx="214.6" cy="965.1" r="5.5"/><circle class="s" cx="288.0" cy="837.8" r="5.5"/><circle class="s" cx="205.7" cy="892.6" r="5.5"/><circle class="f" cx="175.0" cy="820.4" r="5.5"/><circle class="s" cx="223.0" cy="891.2" r="5.5"/><circle class="n" cx="238.6" cy="673.5" r="5.5"/><circle class="n" cx="206.8" cy="977.3" r="5.5"/><circle class="f" cx="322.9" cy="872.9" r="5.5"/><circle class="s" cx="187.9" cy="902.4" r="5.5"/><circle class="n" cx="253.7" cy="911.2" r="5.5"/><circle class="s" cx="337.2" cy="877.9" r="5.5"/><circle class="s" cx="298.9" cy="726.2" r="5.5"/><circle class="s" cx="161.9" cy="733.2" r="5.5"/><circle class="s" cx="206.8" cy="925.8" r="5.5"/><circle class="f" cx="253.2" cy="686.1" r="5.5"/><circle class="f" cx="206.8" cy="862.3" r="5.5"/><circle class="s" cx="271.0" cy="741.9" r="5.5"/><circle class="n" cx="308.4" cy="722.7" r="5.5"/><circle class="f" cx="206.8" cy="992.6" r="5.5"/><circle class="s" cx="337.2" cy="776.7" r="5.5"/><circle class="s" cx="276.3" cy="844.8" r="5.5"/><circle class="n" cx="242.6" cy="1002.7" r="5.5"/><circle class="n" cx="266.1" cy="785.5" r="5.5"/><circle class="n" cx="242.6" cy="987.5" r="5.5"/><circle class="n" cx="161.9" cy="759.6" r="5.5"/><circle class="s" cx="242.6" cy="979.0" r="5.5"/><circle class="s" cx="366.0" cy="787.2" r="5.5"/><circle class="f" cx="223.0" cy="934.4" r="5.5"/><circle class="s" cx="308.4" cy="838.0" r="5.5"/><circle class="n" cx="223.0" cy="827.4" r="5.5"/><circle class="f" cx="223.0" cy="872.4" r="5.5"/><circle class="n" cx="161.9" cy="708.8" r="5.5"/><circle class="n" cx="230.9" cy="943.3" r="5.5"/><circle class="f" cx="337.2" cy="742.8" r="5.5"/><circle class="f" cx="223.0" cy="936.4" r="5.5"/><circle class="n" cx="337.2" cy="907.6" r="5.5"/><circle class="n" cx="178.5" cy="935.5" r="5.5"/><circle class="f" cx="249.2" cy="738.8" r="5.5"/><circle class="n" cx="161.9" cy="809.3" r="5.5"/><circle class="f" cx="206.8" cy="940.6" r="5.5"/><circle class="f" cx="337.2" cy="914.5" r="5.5"/><circle class="s" cx="144.5" cy="1011.4" r="5.5"/><circle class="f" cx="250.4" cy="821.1" r="5.5"/><circle class="n" cx="337.2" cy="804.0" r="5.5"/><circle class="f" cx="206.8" cy="931.5" r="5.5"/><circle class="n" cx="253.2" cy="971.3" r="5.5"/><circle class="s" cx="273.1" cy="955.6" r="5.5"/><circle class="s" cx="308.4" cy="659.9" r="5.5"/><circle class="n" cx="161.9" cy="773.4" r="5.5"/><circle class="n" cx="322.9" cy="887.8" r="5.5"/><circle class="f" cx="337.2" cy="932.0" r="5.5"/><circle class="n" cx="223.0" cy="929.9" r="5.5"/><circle class="n" cx="384.5" cy="784.6" r="5.5"/><circle class="n" cx="242.6" cy="929.1" r="5.5"/><circle class="f" cx="337.2" cy="851.8" r="5.5"/><circle class="f" cx="322.9" cy="855.3" r="5.5"/><circle class="s" cx="253.2" cy="950.2" r="5.5"/><circle class="f" cx="322.9" cy="851.7" r="5.5"/><circle class="s" cx="253.2" cy="707.9" r="5.5"/><circle class="s" cx="253.2" cy="648.6" r="5.5"/><circle class="n" cx="276.3" cy="841.3" r="5.5"/><circle class="f" cx="178.5" cy="864.9" r="5.5"/><circle class="f" cx="206.8" cy="864.5" r="5.5"/><circle class="s" cx="238.6" cy="759.4" r="5.5"/><circle class="n" cx="322.9" cy="818.6" r="5.5"/><circle class="f" cx="253.2" cy="1033.2" r="5.5"/><circle class="f" cx="271.0" cy="794.5" r="5.5"/><circle class="s" cx="161.9" cy="903.3" r="5.5"/><circle class="f" cx="297.9" cy="927.6" r="5.5"/><circle class="s" cx="308.4" cy="768.1" r="5.5"/><circle class="n" cx="253.2" cy="1015.8" r="5.5"/><circle class="n" cx="332.5" cy="830.0" r="5.5"/><circle class="n" cx="223.0" cy="869.2" r="5.5"/><circle class="s" cx="298.9" cy="907.6" r="5.5"/><circle class="s" cx="238.6" cy="844.8" r="5.5"/><circle class="s" cx="273.1" cy="981.2" r="5.5"/><circle class="f" cx="337.2" cy="989.6" r="5.5"/><circle class="n" cx="144.5" cy="1005.3" r="5.5"/><circle class="f" cx="370.9" cy="897.2" r="5.5"/><circle class="s" cx="266.1" cy="820.4" r="5.5"/><circle class="s" cx="322.9" cy="781.1" r="5.5"/><circle class="s" cx="271.0" cy="857.7" r="5.5"/><circle class="s" cx="175.0" cy="724.8" r="5.5"/><circle class="n" cx="242.6" cy="927.6" r="5.5"/><circle class="s" cx="322.9" cy="832.6" r="5.5"/><circle class="f" cx="178.5" cy="980.5" r="5.5"/><circle class="f" cx="276.3" cy="849.9" r="5.5"/><circle class="n" cx="175.0" cy="753.3" r="5.5"/><circle class="s" cx="322.9" cy="813.4" r="5.5"/><circle class="n" cx="205.7" cy="923.7" r="5.5"/><circle class="f" cx="288.0" cy="998.3" r="5.5"/><circle class="s" cx="273.1" cy="986.1" r="5.5"/><circle class="s" cx="221.6" cy="897.7" r="5.5"/><circle class="n" cx="144.5" cy="934.6" r="5.5"/><circle class="s" cx="308.4" cy="762.9" r="5.5"/><circle class="s" cx="175.0" cy="890.2" r="5.5"/><circle class="f" cx="273.1" cy="971.3" r="5.5"/><circle class="s" cx="223.0" cy="972.0" r="5.5"/><circle class="f" cx="323.7" cy="972.1" r="5.5"/><circle class="s" cx="242.6" cy="970.2" r="5.5"/><circle class="s" cx="271.0" cy="747.2" r="5.5"/><circle class="s" cx="178.5" cy="930.2" r="5.5"/><circle class="n" cx="238.6" cy="919.9" r="5.5"/><circle class="f" cx="223.0" cy="914.6" r="5.5"/><circle class="n" cx="238.6" cy="841.3" r="5.5"/><circle class="s" cx="271.0" cy="800.9" r="5.5"/><circle class="s" cx="273.1" cy="956.1" r="5.5"/><circle class="s" cx="242.6" cy="936.6" r="5.5"/><circle class="f" cx="276.3" cy="869.8" r="5.5"/><circle class="n" cx="271.0" cy="829.1" r="5.5"/><circle class="n" cx="161.9" cy="836.7" r="5.5"/><circle class="s" cx="273.1" cy="945.1" r="5.5"/><circle class="s" cx="238.6" cy="712.3" r="5.5"/><circle class="s" cx="238.6" cy="888.4" r="5.5"/><circle class="s" cx="253.2" cy="928.9" r="5.5"/><circle class="s" cx="161.9" cy="646.8" r="5.5"/><circle class="s" cx="175.0" cy="886.7" r="5.5"/><circle class="f" cx="253.2" cy="985.0" r="5.5"/><circle class="n" cx="161.9" cy="743.7" r="5.5"/><circle class="n" cx="238.6" cy="822.1" r="5.5"/><circle class="n" cx="322.9" cy="888.4" r="5.5"/><circle class="f" cx="241.7" cy="910.8" r="5.5"/><circle class="f" cx="288.0" cy="918.1" r="5.5"/><circle class="n" cx="230.9" cy="1014.9" r="5.5"/><circle class="f" cx="322.9" cy="809.9" r="5.5"/><circle class="n" cx="297.9" cy="979.1" r="5.5"/><circle class="s" cx="223.0" cy="865.8" r="5.5"/><circle class="n" cx="379.6" cy="933.7" r="5.5"/><circle class="s" cx="230.9" cy="991.3" r="5.5"/><circle class="f" cx="214.6" cy="1024.5" r="5.5"/><circle class="f" cx="308.4" cy="919.9" r="5.5"/><circle class="f" cx="308.4" cy="771.6" r="5.5"/><circle class="n" cx="223.0" cy="842.3" r="5.5"/><circle class="s" cx="161.9" cy="696.6" r="5.5"/><circle class="f" cx="161.9" cy="791.5" r="5.5"/><circle class="n" cx="230.9" cy="940.8" r="5.5"/><circle class="f" cx="322.9" cy="778.9" r="5.5"/><circle class="f" cx="161.9" cy="824.9" r="5.5"/><circle class="s" cx="241.7" cy="904.2" r="5.5"/><circle class="s" cx="298.9" cy="781.3" r="5.5"/><circle class="f" cx="206.8" cy="925.1" r="5.5"/><circle class="n" cx="323.7" cy="951.2" r="5.5"/><circle class="n" cx="190.7" cy="989.6" r="5.5"/><circle class="s" cx="308.4" cy="694.8" r="5.5"/><circle class="n" cx="238.6" cy="836.2" r="5.5"/><circle class="f" cx="190.7" cy="952.1" r="5.5"/><circle class="n" cx="253.2" cy="893.7" r="5.5"/><circle class="n" cx="337.2" cy="893.7" r="5.5"/><circle class="s" cx="243.4" cy="871.0" r="5.5"/><circle class="n" cx="271.0" cy="680.3" r="5.5"/><circle class="n" cx="206.8" cy="866.3" r="5.5"/><circle class="n" cx="190.7" cy="1020.1" r="5.5"/>
<circle class="n" cx="803.4" cy="865.0" r="5.5"/><circle class="s" cx="782.5" cy="903.8" r="5.5"/><circle class="f" cx="596.0" cy="760.0" r="5.5"/><circle class="s" cx="688.6" cy="876.6" r="5.5"/><circle class="n" cx="596.0" cy="692.9" r="5.5"/><circle class="s" cx="619.7" cy="927.2" r="5.5"/><circle class="s" cx="782.5" cy="874.3" r="5.5"/><circle class="f" cx="782.0" cy="763.1" r="5.5"/><circle class="f" cx="803.4" cy="896.0" r="5.5"/><circle class="f" cx="711.1" cy="851.0" r="5.5"/><circle class="s" cx="803.4" cy="785.1" r="5.5"/><circle class="n" cx="803.4" cy="827.7" r="5.5"/><circle class="f" cx="782.5" cy="779.7" r="5.5"/><circle class="s" cx="666.4" cy="843.3" r="5.5"/><circle class="f" cx="803.4" cy="811.5" r="5.5"/><circle class="n" cx="596.0" cy="805.6" r="5.5"/><circle class="s" cx="663.0" cy="897.6" r="5.5"/><circle class="f" cx="596.0" cy="843.3" r="5.5"/><circle class="f" cx="796.9" cy="757.6" r="5.5"/><circle class="s" cx="619.7" cy="886.7" r="5.5"/><circle class="s" cx="676.2" cy="1002.5" r="5.5"/><circle class="n" cx="737.5" cy="812.2" r="5.5"/><circle class="s" cx="803.4" cy="839.3" r="5.5"/><circle class="s" cx="676.2" cy="889.8" r="5.5"/><circle class="n" cx="794.9" cy="934.3" r="5.5"/><circle class="s" cx="793.8" cy="869.9" r="5.5"/><circle class="n" cx="745.7" cy="841.7" r="5.5"/><circle class="f" cx="737.5" cy="824.6" r="5.5"/><circle class="f" cx="596.0" cy="740.6" r="5.5"/><circle class="f" cx="793.8" cy="770.8" r="5.5"/><circle class="f" cx="619.7" cy="951.0" r="5.5"/><circle class="s" cx="737.5" cy="790.5" r="5.5"/><circle class="n" cx="782.5" cy="837.1" r="5.5"/><circle class="n" cx="737.5" cy="843.3" r="5.5"/><circle class="n" cx="596.0" cy="761.5" r="5.5"/><circle class="s" cx="619.7" cy="864.2" r="5.5"/><circle class="n" cx="647.0" cy="883.6" r="5.5"/><circle class="n" cx="688.6" cy="1005.7" r="5.5"/><circle class="s" cx="766.2" cy="723.5" r="5.5"/><circle class="n" cx="596.0" cy="775.0" r="5.5"/><circle class="n" cx="782.5" cy="912.8" r="5.5"/><circle class="s" cx="647.0" cy="756.9" r="5.5"/><circle class="f" cx="647.0" cy="896.0" r="5.5"/><circle class="f" cx="711.1" cy="876.0" r="5.5"/><circle class="s" cx="676.2" cy="859.5" r="5.5"/><circle class="n" cx="719.6" cy="855.7" r="5.5"/><circle class="n" cx="676.2" cy="907.3" r="5.5"/><circle class="n" cx="803.4" cy="922.4" r="5.5"/><circle class="f" cx="711.1" cy="906.9" r="5.5"/><circle class="s" cx="688.6" cy="928.9" r="5.5"/><circle class="f" cx="719.6" cy="882.0" r="5.5"/><circle class="s" cx="794.9" cy="952.9" r="5.5"/><circle class="s" cx="647.0" cy="823.1" r="5.5"/><circle class="n" cx="766.2" cy="758.4" r="5.5"/><circle class="f" cx="794.9" cy="977.7" r="5.5"/><circle class="n" cx="793.8" cy="730.5" r="5.5"/><circle class="n" cx="596.0" cy="724.3" r="5.5"/><circle class="n" cx="782.5" cy="868.1" r="5.5"/><circle class="s" cx="676.2" cy="932.5" r="5.5"/><circle class="f" cx="619.7" cy="927.3" r="5.5"/><circle class="n" cx="596.0" cy="700.5" r="5.5"/><circle class="f" cx="719.6" cy="897.6" r="5.5"/><circle class="s" cx="596.0" cy="751.1" r="5.5"/><circle class="f" cx="596.0" cy="836.8" r="5.5"/><circle class="f" cx="793.8" cy="914.6" r="5.5"/><circle class="f" cx="676.2" cy="962.9" r="5.5"/><circle class="n" cx="676.2" cy="979.9" r="5.5"/><circle class="f" cx="619.7" cy="926.0" r="5.5"/><circle class="n" cx="711.1" cy="874.5" r="5.5"/><circle class="f" cx="716.5" cy="973.1" r="5.5"/><circle class="s" cx="647.0" cy="802.8" r="5.5"/><circle class="n" cx="737.5" cy="782.0" r="5.5"/><circle class="s" cx="676.2" cy="955.2" r="5.5"/><circle class="n" cx="676.2" cy="925.4" r="5.5"/><circle class="f" cx="719.6" cy="858.8" r="5.5"/><circle class="n" cx="619.7" cy="899.1" r="5.5"/><circle class="s" cx="676.2" cy="1019.6" r="5.5"/><circle class="f" cx="766.2" cy="690.5" r="5.5"/><circle class="s" cx="711.1" cy="919.3" r="5.5"/><circle class="n" cx="676.2" cy="1032.8" r="5.5"/><circle class="n" cx="596.0" cy="818.4" r="5.5"/><circle class="f" cx="619.7" cy="875.8" r="5.5"/><circle class="n" cx="711.1" cy="883.6" r="5.5"/><circle class="n" cx="794.9" cy="982.4" r="5.5"/><circle class="n" cx="796.9" cy="676.2" r="5.5"/><circle class="s" cx="663.0" cy="883.6" r="5.5"/><circle class="s" cx="619.7" cy="929.7" r="5.5"/><circle class="n" cx="619.7" cy="906.9" r="5.5"/><circle class="s" cx="596.0" cy="742.1" r="5.5"/><circle class="s" cx="737.5" cy="892.9" r="5.5"/><circle class="f" cx="676.2" cy="939.8" r="5.5"/><circle class="n" cx="796.9" cy="700.2" r="5.5"/><circle class="n" cx="676.2" cy="942.8" r="5.5"/><circle class="s" cx="782.5" cy="845.5" r="5.5"/><circle class="s" cx="793.8" cy="728.9" r="5.5"/><circle class="f" cx="619.7" cy="943.6" r="5.5"/><circle class="s" cx="745.7" cy="867.7" r="5.5"/><circle class="s" cx="794.9" cy="990.2" r="5.5"/><circle class="n" cx="676.2" cy="883.6" r="5.5"/><circle class="s" cx="737.5" cy="830.8" r="5.5"/><circle class="s" cx="596.0" cy="813.8" r="5.5"/><circle class="s" cx="711.1" cy="847.9" r="5.5"/><circle class="f" cx="766.2" cy="770.8" r="5.5"/><circle class="f" cx="803.4" cy="792.1" r="5.5"/><circle class="n" cx="745.7" cy="886.7" r="5.5"/><circle class="n" cx="745.7" cy="920.8" r="5.5"/><circle class="n" cx="619.7" cy="951.9" r="5.5"/><circle class="f" cx="676.2" cy="973.8" r="5.5"/><circle class="n" cx="793.8" cy="833.2" r="5.5"/><circle class="n" cx="803.4" cy="789.0" r="5.5"/><circle class="s" cx="737.5" cy="770.8" r="5.5"/><circle class="n" cx="596.0" cy="740.6" r="5.5"/><circle class="s" cx="619.7" cy="946.6" r="5.5"/><circle class="f" cx="782.5" cy="864.7" r="5.5"/><circle class="n" cx="782.5" cy="877.4" r="5.5"/><circle class="n" cx="688.6" cy="942.1" r="5.5"/><circle class="n" cx="803.4" cy="794.4" r="5.5"/><circle class="n" cx="737.5" cy="880.5" r="5.5"/><circle class="s" cx="793.8" cy="875.8" r="5.5"/><circle class="n" cx="666.4" cy="809.1" r="5.5"/><circle class="s" cx="796.9" cy="739.8" r="5.5"/><circle class="f" cx="711.1" cy="935.9" r="5.5"/><circle class="s" cx="782.0" cy="701.8" r="5.5"/><circle class="s" cx="676.2" cy="1004.1" r="5.5"/><circle class="f" cx="711.1" cy="953.7" r="5.5"/><circle class="n" cx="688.6" cy="994.8" r="5.5"/><circle class="s" cx="782.5" cy="882.0" r="5.5"/><circle class="s" cx="793.8" cy="772.4" r="5.5"/><circle class="s" cx="688.6" cy="990.2" r="5.5"/><circle class="n" cx="666.4" cy="827.7" r="5.5"/><circle class="n" cx="663.0" cy="858.8" r="5.5"/><circle class="f" cx="647.0" cy="809.2" r="5.5"/><circle class="s" cx="745.7" cy="785.1" r="5.5"/><circle class="s" cx="619.7" cy="952.9" r="5.5"/><circle class="s" cx="676.2" cy="993.8" r="5.5"/><circle class="n" cx="688.6" cy="1011.9" r="5.5"/><circle class="n" cx="711.1" cy="962.2" r="5.5"/><circle class="s" cx="676.2" cy="906.9" r="5.5"/><circle class="n" cx="688.6" cy="1015.0" r="5.5"/><circle class="s" cx="596.0" cy="786.6" r="5.5"/><circle class="n" cx="676.2" cy="968.8" r="5.5"/><circle class="n" cx="676.2" cy="902.2" r="5.5"/><circle class="s" cx="782.5" cy="886.1" r="5.5"/><circle class="s" cx="647.0" cy="844.8" r="5.5"/><circle class="n" cx="688.6" cy="932.8" r="5.5"/><circle class="f" cx="782.0" cy="724.3" r="5.5"/><circle class="s" cx="596.0" cy="798.3" r="5.5"/><circle class="f" cx="647.0" cy="834.0" r="5.5"/><circle class="s" cx="676.2" cy="1003.3" r="5.5"/><circle class="s" cx="619.7" cy="988.6" r="5.5"/><circle class="s" cx="688.6" cy="1002.6" r="5.5"/><circle class="n" cx="596.0" cy="696.4" r="5.5"/><circle class="n" cx="711.1" cy="891.4" r="5.5"/><circle class="n" cx="793.8" cy="872.8" r="5.5"/><circle class="f" cx="676.2" cy="876.9" r="5.5"/><circle class="s" cx="676.2" cy="1007.5" r="5.5"/><circle class="f" cx="647.0" cy="865.0" r="5.5"/><circle class="s" cx="676.2" cy="967.6" r="5.5"/><circle class="s" cx="737.5" cy="802.1" r="5.5"/><circle class="n" cx="688.6" cy="987.1" r="5.5"/><circle class="f" cx="676.2" cy="919.3" r="5.5"/><circle class="s" cx="737.5" cy="754.1" r="5.5"/><circle class="f" cx="782.5" cy="949.0" r="5.5"/><circle class="f" cx="745.7" cy="896.0" r="5.5"/><circle class="f" cx="596.0" cy="772.4" r="5.5"/><circle class="n" cx="745.7" cy="906.9" r="5.5"/><circle class="f" cx="782.0" cy="739.8" r="5.5"/><circle class="f" cx="596.0" cy="834.0" r="5.5"/><circle class="n" cx="676.2" cy="896.0" r="5.5"/><circle class="f" cx="688.6" cy="895.2" r="5.5"/><circle class="n" cx="663.0" cy="892.9" r="5.5"/><circle class="s" cx="766.2" cy="755.3" r="5.5"/><circle class="f" cx="596.0" cy="782.8" r="5.5"/><circle class="n" cx="596.0" cy="806.0" r="5.5"/><circle class="n" cx="596.0" cy="799.8" r="5.5"/><circle class="s" cx="716.5" cy="958.4" r="5.5"/><circle class="f" cx="619.7" cy="889.8" r="5.5"/><circle class="s" cx="596.0" cy="690.1" r="5.5"/><circle class="n" cx="647.0" cy="770.1" r="5.5"/><circle class="f" cx="793.8" cy="764.6" r="5.5"/><circle class="s" cx="688.6" cy="963.8" r="5.5"/><circle class="s" cx="793.8" cy="883.6" r="5.5"/><circle class="n" cx="676.2" cy="926.8" r="5.5"/><circle class="n" cx="619.7" cy="858.8" r="5.5"/><circle class="n" cx="666.4" cy="813.8" r="5.5"/><circle class="f" cx="802.6" cy="931.2" r="5.5"/><circle class="s" cx="803.4" cy="840.2" r="5.5"/><circle class="n" cx="766.2" cy="775.0" r="5.5"/><circle class="f" cx="745.7" cy="865.8" r="5.5"/><circle class="f" cx="676.2" cy="991.2" r="5.5"/><circle class="s" cx="782.5" cy="859.2" r="5.5"/><circle class="f" cx="676.2" cy="949.6" r="5.5"/><circle class="n" cx="737.5" cy="827.7" r="5.5"/><circle class="n" cx="711.1" cy="903.8" r="5.5"/><circle class="n" cx="793.8" cy="897.6" r="5.5"/><circle class="f" cx="766.2" cy="636.2" r="5.5"/><circle class="f" cx="782.5" cy="899.1" r="5.5"/><circle class="f" cx="745.7" cy="837.1" r="5.5"/><circle class="f" cx="663.0" cy="920.8" r="5.5"/><circle class="s" cx="793.8" cy="920.8" r="5.5"/><circle class="n" cx="711.1" cy="966.9" r="5.5"/><circle class="s" cx="737.5" cy="840.1" r="5.5"/><circle class="n" cx="676.2" cy="877.4" r="5.5"/><circle class="f" cx="766.2" cy="794.4" r="5.5"/><circle class="s" cx="596.0" cy="681.6" r="5.5"/><circle class="s" cx="719.6" cy="785.1" r="5.5"/><circle class="n" cx="794.9" cy="1001.8" r="5.5"/><circle class="s" cx="737.5" cy="824.8" r="5.5"/><circle class="f" cx="596.0" cy="778.1" r="5.5"/><circle class="n" cx="793.8" cy="782.8" r="5.5"/><circle class="f" cx="666.4" cy="847.9" r="5.5"/><circle class="s" cx="711.1" cy="873.6" r="5.5"/><circle class="s" cx="596.0" cy="743.7" r="5.5"/><circle class="f" cx="719.6" cy="920.8" r="5.5"/><circle class="n" cx="716.5" cy="977.0" r="5.5"/><circle class="s" cx="803.4" cy="863.5" r="5.5"/><circle class="n" cx="711.1" cy="858.8" r="5.5"/><circle class="f" cx="737.5" cy="922.4" r="5.5"/><circle class="s" cx="676.2" cy="916.2" r="5.5"/><circle class="n" cx="688.6" cy="1035.1" r="5.5"/><circle class="s" cx="711.1" cy="834.0" r="5.5"/><circle class="f" cx="676.2" cy="868.1" r="5.5"/><circle class="n" cx="676.2" cy="979.6" r="5.5"/><circle class="f" cx="803.4" cy="822.3" r="5.5"/><circle class="n" cx="745.7" cy="852.6" r="5.5"/><circle class="f" cx="676.2" cy="1005.8" r="5.5"/><circle class="f" cx="676.2" cy="1006.6" r="5.5"/><circle class="f" cx="596.0" cy="711.9" r="5.5"/><circle class="n" cx="803.4" cy="805.1" r="5.5"/><circle class="f" cx="596.0" cy="764.6" r="5.5"/><circle class="n" cx="803.4" cy="891.4" r="5.5"/><circle class="s" cx="619.7" cy="954.3" r="5.5"/><circle class="f" cx="596.0" cy="815.4" r="5.5"/><circle class="s" cx="782.5" cy="838.6" r="5.5"/><circle class="f" cx="737.5" cy="906.9" r="5.5"/><circle class="s" cx="666.4" cy="783.5" r="5.5"/><circle class="f" cx="619.7" cy="976.2" r="5.5"/><circle class="f" cx="676.2" cy="947.6" r="5.5"/><circle class="f" cx="666.4" cy="795.9" r="5.5"/><circle class="n" cx="711.1" cy="826.2" r="5.5"/><circle class="n" cx="766.2" cy="766.2" r="5.5"/><circle class="f" cx="793.8" cy="872.7" r="5.5"/><circle class="n" cx="745.7" cy="876.1" r="5.5"/><circle class="n" cx="676.2" cy="987.2" r="5.5"/><circle class="s" cx="782.0" cy="728.2" r="5.5"/><circle class="n" cx="803.4" cy="869.6" r="5.5"/><circle class="f" cx="676.2" cy="934.7" r="5.5"/><circle class="f" cx="737.5" cy="892.5" r="5.5"/><circle class="s" cx="647.0" cy="843.3" r="5.5"/><circle class="s" cx="666.4" cy="762.6" r="5.5"/><circle class="f" cx="745.7" cy="862.1" r="5.5"/><circle class="n" cx="737.5" cy="847.9" r="5.5"/><circle class="f" cx="716.5" cy="949.8" r="5.5"/><circle class="s" cx="676.2" cy="929.2" r="5.5"/><circle class="f" cx="647.0" cy="902.2" r="5.5"/><circle class="f" cx="803.4" cy="834.9" r="5.5"/><circle class="f" cx="647.0" cy="734.7" r="5.5"/><circle class="f" cx="666.4" cy="818.4" r="5.5"/><circle class="s" cx="745.7" cy="882.0" r="5.5"/><circle class="f" cx="676.2" cy="993.5" r="5.5"/><circle class="f" cx="647.0" cy="840.2" r="5.5"/><circle class="s" cx="663.0" cy="840.2" r="5.5"/><circle class="s" cx="745.7" cy="824.6" r="5.5"/><circle class="n" cx="647.0" cy="760.0" r="5.5"/><circle class="f" cx="793.8" cy="777.3" r="5.5"/><circle class="s" cx="676.2" cy="939.9" r="5.5"/><circle class="f" cx="596.0" cy="678.5" r="5.5"/><circle class="s" cx="619.7" cy="1021.2" r="5.5"/><circle class="s" cx="782.0" cy="732.0" r="5.5"/><circle class="n" cx="676.2" cy="970.5" r="5.5"/><circle class="n" cx="596.0" cy="767.7" r="5.5"/><circle class="n" cx="737.5" cy="897.9" r="5.5"/><circle class="n" cx="737.5" cy="905.3" r="5.5"/><circle class="s" cx="596.0" cy="684.7" r="5.5"/><circle class="s" cx="711.1" cy="836.5" r="5.5"/><circle class="f" cx="619.7" cy="955.4" r="5.5"/><circle class="s" cx="716.5" cy="1018.5" r="5.5"/><circle class="f" cx="676.2" cy="946.4" r="5.5"/><circle class="n" cx="803.4" cy="800.6" r="5.5"/><circle class="f" cx="793.8" cy="739.8" r="5.5"/><circle class="s" cx="802.6" cy="764.2" r="5.5"/><circle class="f" cx="688.6" cy="959.1" r="5.5"/><circle class="n" cx="676.2" cy="954.2" r="5.5"/><circle class="n" cx="663.0" cy="865.0" r="5.5"/><circle class="s" cx="782.5" cy="886.8" r="5.5"/><circle class="f" cx="596.0" cy="838.6" r="5.5"/><circle class="f" cx="793.8" cy="801.4" r="5.5"/><circle class="s" cx="719.6" cy="770.1" r="5.5"/><circle class="n" cx="766.2" cy="721.2" r="5.5"/><circle class="s" cx="711.1" cy="834.7" r="5.5"/><circle class="f" cx="782.5" cy="894.5" r="5.5"/><circle class="n" cx="782.5" cy="830.1" r="5.5"/><circle class="n" cx="647.0" cy="793.6" r="5.5"/><circle class="s" cx="796.9" cy="653.2" r="5.5"/><circle class="n" cx="782.0" cy="749.1" r="5.5"/><circle class="s" cx="794.9" cy="996.4" r="5.5"/><circle class="s" cx="737.5" cy="855.7" r="5.5"/><circle class="n" cx="676.2" cy="933.3" r="5.5"/><circle class="f" cx="676.2" cy="978.7" r="5.5"/><circle class="f" cx="663.0" cy="880.5" r="5.5"/><circle class="s" cx="596.0" cy="687.8" r="5.5"/><circle class="f" cx="716.5" cy="998.7" r="5.5"/><circle class="f" cx="688.6" cy="951.4" r="5.5"/><circle class="f" cx="782.5" cy="906.9" r="5.5"/><circle class="f" cx="794.9" cy="961.5" r="5.5"/><circle class="s" cx="719.6" cy="837.1" r="5.5"/><circle class="f" cx="711.1" cy="899.1" r="5.5"/><circle class="f" cx="676.2" cy="871.7" r="5.5"/><circle class="s" cx="619.7" cy="928.8" r="5.5"/><circle class="n" cx="619.7" cy="1025.1" r="5.5"/><circle class="n" cx="647.0" cy="802.9" r="5.5"/><circle class="s" cx="596.0" cy="734.3" r="5.5"/><circle class="n" cx="782.5" cy="917.7" r="5.5"/><circle class="n" cx="782.0" cy="704.9" r="5.5"/><circle class="n" cx="596.0" cy="693.3" r="5.5"/><circle class="n" cx="803.4" cy="852.1" r="5.5"/><circle class="n" cx="737.5" cy="852.6" r="5.5"/><circle class="f" cx="676.2" cy="901.0" r="5.5"/><circle class="s" cx="793.8" cy="893.1" r="5.5"/><circle class="n" cx="647.0" cy="827.7" r="5.5"/><circle class="n" cx="619.7" cy="941.4" r="5.5"/><circle class="n" cx="716.5" cy="980.8" r="5.5"/><circle class="n" cx="796.9" cy="743.7" r="5.5"/><circle class="f" cx="647.0" cy="807.7" r="5.5"/><circle class="f" cx="676.2" cy="1006.5" r="5.5"/><circle class="s" cx="596.0" cy="821.5" r="5.5"/><circle class="f" cx="737.5" cy="874.3" r="5.5"/><circle class="f" cx="782.5" cy="787.4" r="5.5"/><circle class="f" cx="803.4" cy="882.0" r="5.5"/><circle class="s" cx="676.2" cy="861.9" r="5.5"/><circle class="n" cx="619.7" cy="920.8" r="5.5"/><circle class="s" cx="596.0" cy="733.6" r="5.5"/><circle class="n" cx="676.2" cy="951.3" r="5.5"/><circle class="s" cx="688.6" cy="1008.8" r="5.5"/><circle class="n" cx="647.0" cy="818.4" r="5.5"/><circle class="n" cx="782.5" cy="844.1" r="5.5"/><circle class="f" cx="803.4" cy="852.6" r="5.5"/><circle class="n" cx="676.2" cy="923.9" r="5.5"/><circle class="n" cx="619.7" cy="982.4" r="5.5"/><circle class="f" cx="619.7" cy="946.2" r="5.5"/><circle class="n" cx="793.8" cy="684.7" r="5.5"/><circle class="s" cx="796.9" cy="667.7" r="5.5"/><circle class="f" cx="793.8" cy="834.0" r="5.5"/><circle class="s" cx="711.1" cy="886.7" r="5.5"/><circle class="n" cx="719.6" cy="820.0" r="5.5"/><circle class="s" cx="782.0" cy="685.5" r="5.5"/><circle class="f" cx="793.8" cy="911.5" r="5.5"/><circle class="f" cx="793.8" cy="829.3" r="5.5"/><circle class="s" cx="737.5" cy="813.0" r="5.5"/><circle class="f" cx="596.0" cy="802.9" r="5.5"/><circle class="f" cx="793.8" cy="684.0" r="5.5"/><circle class="s" cx="719.6" cy="849.5" r="5.5"/><circle class="n" cx="782.0" cy="770.8" r="5.5"/><circle class="s" cx="596.0" cy="796.0" r="5.5"/><circle class="n" cx="737.5" cy="887.9" r="5.5"/><circle class="f" cx="745.7" cy="899.1" r="5.5"/><circle class="f" cx="745.7" cy="888.2" r="5.5"/><circle class="f" cx="688.6" cy="997.9" r="5.5"/><circle class="s" cx="596.0" cy="902.2" r="5.5"/><circle class="n" cx="647.0" cy="742.1" r="5.5"/><circle class="n" cx="793.8" cy="664.6" r="5.5"/><circle class="s" cx="688.6" cy="923.9" r="5.5"/><circle class="f" cx="737.5" cy="928.1" r="5.5"/><circle class="f" cx="711.1" cy="854.1" r="5.5"/><circle class="s" cx="676.2" cy="1009.0" r="5.5"/><circle class="n" cx="619.7" cy="986.3" r="5.5"/><circle class="n" cx="596.0" cy="824.6" r="5.5"/><circle class="s" cx="676.2" cy="933.3" r="5.5"/><circle class="n" cx="782.5" cy="936.6" r="5.5"/><circle class="s" cx="619.7" cy="963.0" r="5.5"/><circle class="n" cx="794.9" cy="979.3" r="5.5"/><circle class="s" cx="619.7" cy="958.4" r="5.5"/><circle class="n" cx="793.8" cy="792.3" r="5.5"/><circle class="n" cx="744.4" cy="925.0" r="5.5"/><circle class="f" cx="676.2" cy="922.5" r="5.5"/><circle class="s" cx="596.0" cy="703.3" r="5.5"/><circle class="n" cx="745.7" cy="891.4" r="5.5"/><circle class="s" cx="647.0" cy="809.1" r="5.5"/><circle class="f" cx="737.5" cy="781.2" r="5.5"/><circle class="s" cx="793.8" cy="818.7" r="5.5"/><circle class="f" cx="737.5" cy="900.9" r="5.5"/><circle class="n" cx="711.1" cy="976.2" r="5.5"/><circle class="s" cx="676.2" cy="955.1" r="5.5"/><circle class="s" cx="711.1" cy="979.3" r="5.5"/><circle class="s" cx="716.5" cy="1005.2" r="5.5"/><circle class="f" cx="596.0" cy="736.7" r="5.5"/><circle class="n" cx="737.5" cy="930.4" r="5.5"/><circle class="f" cx="676.2" cy="913.1" r="5.5"/><circle class="f" cx="688.6" cy="1018.1" r="5.5"/><circle class="s" cx="794.9" cy="926.6" r="5.5"/><circle class="f" cx="619.7" cy="973.1" r="5.5"/><circle class="s" cx="647.0" cy="798.3" r="5.5"/><circle class="n" cx="666.4" cy="823.1" r="5.5"/><circle class="s" cx="647.0" cy="787.4" r="5.5"/><circle class="n" cx="716.5" cy="1027.7" r="5.5"/><circle class="f" cx="688.6" cy="1033.6" r="5.5"/><circle class="s" cx="647.0" cy="790.5" r="5.5"/><circle class="s" cx="782.5" cy="806.8" r="5.5"/><circle class="s" cx="596.0" cy="714.2" r="5.5"/><circle class="s" cx="803.4" cy="874.3" r="5.5"/><circle class="s" cx="716.5" cy="994.8" r="5.5"/><circle class="n" cx="766.2" cy="763.1" r="5.5"/><circle class="f" cx="619.7" cy="922.4" r="5.5"/><circle class="s" cx="794.9" cy="945.9" r="5.5"/><circle class="n" cx="745.7" cy="893.8" r="5.5"/><circle class="n" cx="596.0" cy="827.7" r="5.5"/><circle class="n" cx="745.7" cy="834.0" r="5.5"/><circle class="n" cx="793.8" cy="879.6" r="5.5"/><circle class="f" cx="676.2" cy="889.5" r="5.5"/><circle class="f" cx="676.2" cy="943.8" r="5.5"/><circle class="f" cx="619.7" cy="941.5" r="5.5"/><circle class="s" cx="619.7" cy="917.7" r="5.5"/><circle class="s" cx="647.0" cy="807.6" r="5.5"/><circle class="n" cx="676.2" cy="974.9" r="5.5"/><circle class="s" cx="711.1" cy="934.3" r="5.5"/><circle class="f" cx="688.6" cy="976.2" r="5.5"/><circle class="n" cx="782.5" cy="886.7" r="5.5"/><circle class="s" cx="766.2" cy="786.6" r="5.5"/><circle class="f" cx="796.9" cy="708.0" r="5.5"/><circle class="f" cx="663.0" cy="987.8" r="5.5"/><circle class="s" cx="793.8" cy="871.2" r="5.5"/><circle class="f" cx="676.2" cy="968.3" r="5.5"/><circle class="n" cx="766.2" cy="752.2" r="5.5"/><circle class="f" cx="663.0" cy="914.6" r="5.5"/><circle class="f" cx="676.2" cy="927.2" r="5.5"/><circle class="s" cx="711.1" cy="911.5" r="5.5"/><circle class="f" cx="619.7" cy="929.9" r="5.5"/><circle class="n" cx="737.5" cy="835.5" r="5.5"/><circle class="n" cx="596.0" cy="810.4" r="5.5"/><circle class="n" cx="737.5" cy="726.1" r="5.5"/><circle class="f" cx="676.2" cy="1018.1" r="5.5"/><circle class="s" cx="647.0" cy="854.1" r="5.5"/><circle class="f" cx="745.7" cy="847.9" r="5.5"/><circle class="f" cx="676.2" cy="933.7" r="5.5"/><circle class="s" cx="803.4" cy="868.1" r="5.5"/><circle class="f" cx="737.5" cy="896.0" r="5.5"/><circle class="n" cx="745.7" cy="793.6" r="5.5"/><circle class="n" cx="793.8" cy="718.1" r="5.5"/><circle class="s" cx="676.2" cy="932.6" r="5.5"/><circle class="n" cx="782.0" cy="717.3" r="5.5"/><circle class="n" cx="716.5" cy="928.1" r="5.5"/><circle class="s" cx="666.4" cy="852.6" r="5.5"/><circle class="n" cx="619.7" cy="936.7" r="5.5"/><circle class="s" cx="766.2" cy="657.9" r="5.5"/><circle class="f" cx="737.5" cy="838.6" r="5.5"/><circle class="f" cx="745.7" cy="910.0" r="5.5"/><circle class="n" cx="666.4" cy="832.4" r="5.5"/><circle class="n" cx="803.4" cy="831.6" r="5.5"/><circle class="s" cx="647.0" cy="853.9" r="5.5"/><circle class="s" cx="596.0" cy="755.3" r="5.5"/><circle class="f" cx="596.0" cy="883.6" r="5.5"/><circle class="n" cx="802.6" cy="926.6" r="5.5"/><circle class="n" cx="619.7" cy="928.5" r="5.5"/><circle class="n" cx="596.0" cy="757.6" r="5.5"/><circle class="n" cx="711.1" cy="958.4" r="5.5"/><circle class="n" cx="619.7" cy="956.7" r="5.5"/><circle class="f" cx="676.2" cy="1007.0" r="5.5"/><circle class="f" cx="647.0" cy="795.3" r="5.5"/><circle class="n" cx="782.5" cy="858.7" r="5.5"/><circle class="s" cx="676.2" cy="875.8" r="5.5"/><circle class="n" cx="647.0" cy="813.8" r="5.5"/><circle class="f" cx="647.0" cy="855.3" r="5.5"/><circle class="n" cx="596.0" cy="709.2" r="5.5"/><circle class="s" cx="619.7" cy="955.0" r="5.5"/><circle class="n" cx="647.0" cy="837.1" r="5.5"/><circle class="f" cx="647.0" cy="871.2" r="5.5"/><circle class="s" cx="619.7" cy="997.1" r="5.5"/><circle class="f" cx="619.7" cy="944.3" r="5.5"/><circle class="n" cx="711.1" cy="914.6" r="5.5"/><circle class="n" cx="719.6" cy="844.8" r="5.5"/><circle class="f" cx="676.2" cy="994.2" r="5.5"/><circle class="n" cx="676.2" cy="910.0" r="5.5"/><circle class="s" cx="647.0" cy="849.5" r="5.5"/><circle class="s" cx="793.8" cy="900.7" r="5.5"/><circle class="s" cx="793.8" cy="697.9" r="5.5"/>
<circle class="s" cx="1345.0" cy="960.8" r="5.5"/><circle class="f" cx="1163.1" cy="827.4" r="5.5"/><circle class="n" cx="1382.1" cy="921.6" r="5.5"/><circle class="s" cx="1317.9" cy="933.7" r="5.5"/><circle class="n" cx="1363.6" cy="652.1" r="5.5"/><circle class="n" cx="1168.3" cy="774.2" r="5.5"/><circle class="s" cx="1310.2" cy="771.6" r="5.5"/><circle class="n" cx="1191.5" cy="914.6" r="5.5"/><circle class="f" cx="1310.2" cy="844.8" r="5.5"/><circle class="s" cx="1171.8" cy="974.8" r="5.5"/><circle class="f" cx="1163.1" cy="946.6" r="5.5"/><circle class="f" cx="1191.5" cy="888.4" r="5.5"/><circle class="n" cx="1197.1" cy="932.9" r="5.5"/><circle class="s" cx="1191.5" cy="951.0" r="5.5"/><circle class="s" cx="1191.5" cy="1000.6" r="5.5"/><circle class="s" cx="1261.7" cy="956.4" r="5.5"/><circle class="n" cx="1250.9" cy="902.4" r="5.5"/><circle class="s" cx="1310.2" cy="904.2" r="5.5"/><circle class="f" cx="1212.8" cy="979.1" r="5.5"/><circle class="s" cx="1371.7" cy="890.2" r="5.5"/><circle class="f" cx="1163.1" cy="932.4" r="5.5"/><circle class="f" cx="1171.8" cy="966.1" r="5.5"/><circle class="s" cx="1170.6" cy="918.1" r="5.5"/><circle class="f" cx="1163.1" cy="965.9" r="5.5"/><circle class="n" cx="1230.6" cy="670.0" r="5.5"/><circle class="f" cx="1370.3" cy="952.1" r="5.5"/><circle class="f" cx="1163.1" cy="851.8" r="5.5"/><circle class="f" cx="1171.8" cy="930.3" r="5.5"/><circle class="n" cx="1217.7" cy="684.3" r="5.5"/><circle class="f" cx="1163.1" cy="945.4" r="5.5"/><circle class="n" cx="1163.1" cy="971.0" r="5.5"/><circle class="n" cx="1181.9" cy="959.8" r="5.5"/><circle class="n" cx="1240.8" cy="789.3" r="5.5"/><circle class="n" cx="1338.1" cy="940.7" r="5.5"/><circle class="n" cx="1191.5" cy="946.8" r="5.5"/><circle class="n" cx="1195.0" cy="643.3" r="5.5"/><circle class="f" cx="1363.6" cy="841.3" r="5.5"/><circle class="f" cx="1191.5" cy="956.9" r="5.5"/><circle class="s" cx="1250.9" cy="972.0" r="5.5"/><circle class="f" cx="1261.7" cy="1019.2" r="5.5"/><circle class="s" cx="1191.5" cy="956.0" r="5.5"/><circle class="s" cx="1310.2" cy="794.2" r="5.5"/><circle class="s" cx="1317.9" cy="998.3" r="5.5"/><circle class="s" cx="1235.5" cy="888.4" r="5.5"/><circle class="s" cx="1250.9" cy="919.9" r="5.5"/><circle class="n" cx="1345.0" cy="839.6" r="5.5"/><circle class="n" cx="1317.9" cy="881.5" r="5.5"/><circle class="s" cx="1250.9" cy="804.0" r="5.5"/><circle class="n" cx="1181.9" cy="959.5" r="5.5"/><circle class="n" cx="1259.4" cy="743.7" r="5.5"/><circle class="n" cx="1230.6" cy="707.9" r="5.5"/><circle class="n" cx="1370.3" cy="968.6" r="5.5"/><circle class="f" cx="1217.7" cy="694.8" r="5.5"/><circle class="s" cx="1382.1" cy="930.2" r="5.5"/><circle class="s" cx="1163.1" cy="945.3" r="5.5"/><circle class="f" cx="1181.9" cy="939.8" r="5.5"/><circle class="f" cx="1181.9" cy="955.9" r="5.5"/><circle class="n" cx="1191.5" cy="901.8" r="5.5"/><circle class="n" cx="1240.8" cy="653.8" r="5.5"/><circle class="s" cx="1338.5" cy="898.9" r="5.5"/><circle class="f" cx="1191.5" cy="948.1" r="5.5"/><circle class="s" cx="1274.3" cy="902.4" r="5.5"/><circle class="n" cx="1310.2" cy="837.8" r="5.5"/><circle class="f" cx="1170.6" cy="908.9" r="5.5"/><circle class="n" cx="1310.2" cy="897.2" r="5.5"/><circle class="s" cx="1163.1" cy="936.1" r="5.5"/><circle class="s" cx="1371.7" cy="921.6" r="5.5"/><circle class="s" cx="1207.9" cy="672.5" r="5.5"/><circle class="f" cx="1240.8" cy="799.4" r="5.5"/><circle class="s" cx="1217.2" cy="994.8" r="5.5"/><circle class="n" cx="1181.9" cy="942.2" r="5.5"/><circle class="s" cx="1317.9" cy="1021.9" r="5.5"/><circle class="f" cx="1163.1" cy="1001.8" r="5.5"/><circle class="f" cx="1261.7" cy="1001.8" r="5.5"/><circle class="s" cx="1170.6" cy="836.1" r="5.5"/><circle class="n" cx="1163.1" cy="974.5" r="5.5"/><circle class="n" cx="1217.2" cy="939.0" r="5.5"/><circle class="s" cx="1250.9" cy="962.4" r="5.5"/><circle class="n" cx="1272.2" cy="926.7" r="5.5"/><circle class="n" cx="1217.7" cy="672.1" r="5.5"/><circle class="f" cx="1258.6" cy="807.8" r="5.5"/><circle class="n" cx="1170.6" cy="907.7" r="5.5"/><circle class="s" cx="1212.8" cy="966.9" r="5.5"/><circle class="n" cx="1250.9" cy="978.3" r="5.5"/><circle class="n" cx="1163.1" cy="981.0" r="5.5"/><circle class="s" cx="1278.3" cy="955.5" r="5.5"/><circle class="f" cx="1363.6" cy="766.4" r="5.5"/><circle class="n" cx="1191.5" cy="870.5" r="5.5"/><circle class="s" cx="1345.0" cy="743.7" r="5.5"/><circle class="n" cx="1382.1" cy="848.3" r="5.5"/><circle class="s" cx="1191.5" cy="897.2" r="5.5"/><circle class="n" cx="1212.8" cy="1010.5" r="5.5"/><circle class="s" cx="1163.1" cy="980.0" r="5.5"/><circle class="s" cx="1181.9" cy="956.3" r="5.5"/><circle class="f" cx="1250.9" cy="926.0" r="5.5"/><circle class="f" cx="1181.9" cy="968.3" r="5.5"/><circle class="n" cx="1191.5" cy="829.1" r="5.5"/><circle class="f" cx="1217.7" cy="753.3" r="5.5"/><circle class="n" cx="1371.7" cy="895.4" r="5.5"/><circle class="n" cx="1258.6" cy="798.0" r="5.5"/><circle class="n" cx="1310.2" cy="970.4" r="5.5"/><circle class="f" cx="1240.8" cy="834.1" r="5.5"/><circle class="n" cx="1163.1" cy="964.1" r="5.5"/><circle class="f" cx="1235.5" cy="897.2" r="5.5"/><circle class="s" cx="1236.7" cy="963.0" r="5.5"/><circle class="s" cx="1191.5" cy="791.6" r="5.5"/><circle class="s" cx="1258.6" cy="807.9" r="5.5"/><circle class="f" cx="1217.7" cy="814.3" r="5.5"/><circle class="s" cx="1382.1" cy="849.2" r="5.5"/><circle class="n" cx="1345.0" cy="844.8" r="5.5"/><circle class="f" cx="1191.5" cy="980.0" r="5.5"/><circle class="f" cx="1250.9" cy="918.1" r="5.5"/><circle class="n" cx="1268.7" cy="860.5" r="5.5"/><circle class="f" cx="1317.9" cy="897.2" r="5.5"/><circle class="s" cx="1240.8" cy="827.4" r="5.5"/><circle class="s" cx="1191.5" cy="957.4" r="5.5"/><circle class="f" cx="1191.5" cy="967.4" r="5.5"/><circle class="f" cx="1268.7" cy="865.8" r="5.5"/><circle class="n" cx="1370.3" cy="938.1" r="5.5"/><circle class="f" cx="1181.9" cy="979.4" r="5.5"/><circle class="s" cx="1259.4" cy="687.8" r="5.5"/><circle class="f" cx="1317.9" cy="921.6" r="5.5"/><circle class="n" cx="1250.9" cy="983.1" r="5.5"/><circle class="f" cx="1274.3" cy="783.7" r="5.5"/><circle class="f" cx="1310.2" cy="986.1" r="5.5"/><circle class="f" cx="1345.0" cy="900.7" r="5.5"/><circle class="f" cx="1310.2" cy="944.2" r="5.5"/><circle class="f" cx="1170.6" cy="908.0" r="5.5"/><circle class="n" cx="1240.8" cy="662.0" r="5.5"/><circle class="f" cx="1317.9" cy="911.1" r="5.5"/><circle class="s" cx="1310.2" cy="778.5" r="5.5"/><circle class="f" cx="1191.5" cy="919.9" r="5.5"/><circle class="s" cx="1163.1" cy="882.1" r="5.5"/><circle class="f" cx="1250.9" cy="932.6" r="5.5"/><circle class="n" cx="1250.9" cy="893.7" r="5.5"/><circle class="s" cx="1250.9" cy="929.5" r="5.5"/><circle class="n" cx="1191.5" cy="929.0" r="5.5"/><circle class="f" cx="1235.5" cy="879.7" r="5.5"/><circle class="f" cx="1274.3" cy="728.8" r="5.5"/><circle class="s" cx="1217.7" cy="917.2" r="5.5"/><circle class="s" cx="1274.3" cy="750.7" r="5.5"/><circle class="f" cx="1250.9" cy="995.1" r="5.5"/><circle class="f" cx="1240.8" cy="850.0" r="5.5"/><circle class="s" cx="1310.2" cy="703.5" r="5.5"/><circle class="n" cx="1191.5" cy="908.8" r="5.5"/><circle class="s" cx="1371.7" cy="860.5" r="5.5"/><circle class="s" cx="1171.8" cy="986.8" r="5.5"/><circle class="s" cx="1230.6" cy="754.2" r="5.5"/><circle class="s" cx="1345.0" cy="947.7" r="5.5"/><circle class="f" cx="1230.6" cy="825.6" r="5.5"/><circle class="n" cx="1163.1" cy="994.8" r="5.5"/><circle class="n" cx="1240.8" cy="747.2" r="5.5"/><circle class="s" cx="1240.8" cy="711.4" r="5.5"/><circle class="f" cx="1212.8" cy="991.3" r="5.5"/><circle class="n" cx="1261.7" cy="938.1" r="5.5"/><circle class="f" cx="1240.8" cy="761.1" r="5.5"/><circle class="s" cx="1274.3" cy="890.2" r="5.5"/><circle class="s" cx="1261.7" cy="965.1" r="5.5"/><circle class="n" cx="1240.8" cy="771.6" r="5.5"/><circle class="n" cx="1280.9" cy="921.6" r="5.5"/><circle class="s" cx="1250.9" cy="851.8" r="5.5"/><circle class="s" cx="1171.8" cy="929.5" r="5.5"/><circle class="f" cx="1171.8" cy="969.7" r="5.5"/><circle class="s" cx="1258.6" cy="888.4" r="5.5"/><circle class="s" cx="1171.8" cy="947.4" r="5.5"/><circle class="f" cx="1163.1" cy="951.6" r="5.5"/><circle class="n" cx="1236.7" cy="942.5" r="5.5"/><circle class="n" cx="1258.6" cy="846.6" r="5.5"/><circle class="n" cx="1371.7" cy="907.6" r="5.5"/><circle class="n" cx="1191.5" cy="947.5" r="5.5"/><circle class="f" cx="1310.2" cy="829.1" r="5.5"/><circle class="f" cx="1217.7" cy="791.6" r="5.5"/><circle class="n" cx="1217.7" cy="750.7" r="5.5"/><circle class="s" cx="1240.8" cy="764.6" r="5.5"/><circle class="n" cx="1338.5" cy="914.6" r="5.5"/><circle class="n" cx="1240.8" cy="721.9" r="5.5"/><circle class="f" cx="1191.9" cy="677.4" r="5.5"/><circle class="n" cx="1317.9" cy="932.0" r="5.5"/><circle class="f" cx="1338.1" cy="953.8" r="5.5"/><circle class="s" cx="1191.5" cy="822.1" r="5.5"/><circle class="s" cx="1240.8" cy="886.7" r="5.5"/><circle class="s" cx="1274.3" cy="787.8" r="5.5"/><circle class="f" cx="1274.3" cy="800.2" r="5.5"/><circle class="n" cx="1370.3" cy="987.0" r="5.5"/><circle class="s" cx="1191.5" cy="970.0" r="5.5"/><circle class="f" cx="1191.5" cy="1034.1" r="5.5"/><circle class="n" cx="1370.3" cy="993.1" r="5.5"/><circle class="f" cx="1240.8" cy="802.9" r="5.5"/><circle class="n" cx="1382.1" cy="890.2" r="5.5"/><circle class="n" cx="1280.9" cy="850.9" r="5.5"/><circle class="n" cx="1191.5" cy="874.5" r="5.5"/><circle class="f" cx="1268.7" cy="914.6" r="5.5"/><circle class="n" cx="1217.7" cy="715.8" r="5.5"/><circle class="s" cx="1191.5" cy="927.6" r="5.5"/><circle class="n" cx="1370.3" cy="934.6" r="5.5"/><circle class="s" cx="1197.1" cy="947.7" r="5.5"/><circle class="f" cx="1382.1" cy="939.8" r="5.5"/><circle class="n" cx="1310.2" cy="776.7" r="5.5"/><circle class="n" cx="1240.8" cy="816.9" r="5.5"/><circle class="s" cx="1268.7" cy="682.6" r="5.5"/><circle class="n" cx="1317.9" cy="1012.3" r="5.5"/><circle class="n" cx="1163.1" cy="972.8" r="5.5"/><circle class="n" cx="1170.6" cy="905.4" r="5.5"/><circle class="n" cx="1363.6" cy="814.3" r="5.5"/><circle class="n" cx="1171.8" cy="994.8" r="5.5"/><circle class="f" cx="1240.8" cy="859.3" r="5.5"/><circle class="n" cx="1258.6" cy="782.9" r="5.5"/><circle class="n" cx="1191.5" cy="818.6" r="5.5"/><circle class="n" cx="1171.8" cy="961.4" r="5.5"/><circle class="n" cx="1240.8" cy="804.1" r="5.5"/><circle class="s" cx="1171.8" cy="962.7" r="5.5"/><circle class="f" cx="1170.6" cy="830.9" r="5.5"/><circle class="s" cx="1170.6" cy="846.6" r="5.5"/><circle class="f" cx="1310.2" cy="721.3" r="5.5"/><circle class="n" cx="1191.5" cy="875.6" r="5.5"/><circle class="f" cx="1250.9" cy="1007.0" r="5.5"/><circle class="n" cx="1250.9" cy="914.6" r="5.5"/><circle class="f" cx="1171.8" cy="959.4" r="5.5"/><circle class="f" cx="1250.9" cy="928.0" r="5.5"/><circle class="s" cx="1240.8" cy="789.8" r="5.5"/><circle class="n" cx="1207.9" cy="735.8" r="5.5"/><circle class="f" cx="1195.0" cy="838.7" r="5.5"/><circle class="f" cx="1250.9" cy="958.5" r="5.5"/><circle class="s" cx="1250.9" cy="847.5" r="5.5"/><circle class="f" cx="1274.3" cy="789.0" r="5.5"/><circle class="s" cx="1191.5" cy="927.2" r="5.5"/><circle class="n" cx="1274.3" cy="834.7" r="5.5"/><circle class="n" cx="1171.8" cy="952.8" r="5.5"/><circle class="s" cx="1310.2" cy="891.9" r="5.5"/><circle class="n" cx="1363.6" cy="806.4" r="5.5"/><circle class="f" cx="1171.8" cy="966.1" r="5.5"/><circle class="n" cx="1240.8" cy="816.6" r="5.5"/><circle class="s" cx="1197.1" cy="977.4" r="5.5"/><circle class="s" cx="1217.2" cy="1015.8" r="5.5"/><circle class="f" cx="1382.1" cy="913.8" r="5.5"/><circle class="s" cx="1191.5" cy="884.2" r="5.5"/><circle class="s" cx="1274.3" cy="755.0" r="5.5"/><circle class="s" cx="1171.8" cy="940.3" r="5.5"/><circle class="f" cx="1191.5" cy="951.5" r="5.5"/><circle class="f" cx="1171.8" cy="958.2" r="5.5"/><circle class="f" cx="1191.5" cy="951.1" r="5.5"/><circle class="s" cx="1191.5" cy="869.3" r="5.5"/><circle class="s" cx="1171.8" cy="947.4" r="5.5"/><circle class="n" cx="1240.8" cy="734.1" r="5.5"/><circle class="f" cx="1217.7" cy="702.7" r="5.5"/><circle class="s" cx="1310.2" cy="966.9" r="5.5"/><circle class="f" cx="1170.6" cy="908.2" r="5.5"/><circle class="n" cx="1163.1" cy="932.2" r="5.5"/><circle class="s" cx="1240.8" cy="806.7" r="5.5"/><circle class="f" cx="1163.1" cy="971.9" r="5.5"/><circle class="n" cx="1259.4" cy="666.9" r="5.5"/><circle class="s" cx="1345.0" cy="836.1" r="5.5"/><circle class="s" cx="1345.0" cy="907.6" r="5.5"/><circle class="f" cx="1163.1" cy="905.4" r="5.5"/><circle class="n" cx="1259.4" cy="719.2" r="5.5"/><circle class="s" cx="1345.0" cy="871.0" r="5.5"/><circle class="s" cx="1163.1" cy="912.9" r="5.5"/><circle class="s" cx="1191.5" cy="952.7" r="5.5"/><circle class="s" cx="1171.8" cy="972.3" r="5.5"/><circle class="n" cx="1212.8" cy="1024.5" r="5.5"/><circle class="s" cx="1240.8" cy="642.5" r="5.5"/><circle class="s" cx="1310.2" cy="731.1" r="5.5"/><circle class="s" cx="1170.6" cy="755.9" r="5.5"/><circle class="f" cx="1230.6" cy="718.4" r="5.5"/><circle class="s" cx="1217.7" cy="634.6" r="5.5"/><circle class="s" cx="1182.3" cy="878.0" r="5.5"/><circle class="n" cx="1212.8" cy="982.6" r="5.5"/><circle class="f" cx="1250.9" cy="838.3" r="5.5"/><circle class="s" cx="1250.9" cy="836.4" r="5.5"/><circle class="s" cx="1217.7" cy="707.0" r="5.5"/><circle class="f" cx="1363.6" cy="783.7" r="5.5"/><circle class="s" cx="1250.9" cy="993.3" r="5.5"/><circle class="s" cx="1274.3" cy="766.4" r="5.5"/><circle class="f" cx="1171.8" cy="981.3" r="5.5"/><circle class="s" cx="1191.5" cy="904.2" r="5.5"/><circle class="n" cx="1345.0" cy="810.8" r="5.5"/><circle class="s" cx="1317.9" cy="977.4" r="5.5"/><circle class="n" cx="1170.6" cy="839.6" r="5.5"/><circle class="f" cx="1363.6" cy="761.1" r="5.5"/><circle class="n" cx="1191.5" cy="871.0" r="5.5"/><circle class="n" cx="1338.1" cy="988.2" r="5.5"/><circle class="n" cx="1191.5" cy="969.1" r="5.5"/><circle class="n" cx="1250.9" cy="907.6" r="5.5"/><circle class="n" cx="1197.1" cy="972.1" r="5.5"/><circle class="f" cx="1207.9" cy="656.1" r="5.5"/><circle class="f" cx="1258.6" cy="812.4" r="5.5"/><circle class="s" cx="1250.9" cy="982.8" r="5.5"/><circle class="f" cx="1217.7" cy="787.2" r="5.5"/><circle class="n" cx="1163.1" cy="902.8" r="5.5"/><circle class="n" cx="1240.8" cy="778.5" r="5.5"/><circle class="s" cx="1240.8" cy="813.4" r="5.5"/><circle class="f" cx="1382.1" cy="907.6" r="5.5"/><circle class="f" cx="1163.1" cy="980.7" r="5.5"/><circle class="s" cx="1191.5" cy="993.0" r="5.5"/><circle class="f" cx="1217.2" cy="1008.8" r="5.5"/><circle class="f" cx="1230.6" cy="753.3" r="5.5"/><circle class="s" cx="1181.9" cy="945.1" r="5.5"/><circle class="f" cx="1258.6" cy="799.4" r="5.5"/><circle class="n" cx="1191.5" cy="953.1" r="5.5"/><circle class="f" cx="1272.2" cy="930.2" r="5.5"/><circle class="n" cx="1250.9" cy="968.2" r="5.5"/><circle class="s" cx="1370.3" cy="936.3" r="5.5"/><circle class="s" cx="1176.2" cy="846.6" r="5.5"/><circle class="n" cx="1217.2" cy="1034.1" r="5.5"/><circle class="s" cx="1163.1" cy="886.7" r="5.5"/><circle class="s" cx="1259.4" cy="703.5" r="5.5"/><circle class="n" cx="1278.3" cy="987.0" r="5.5"/><circle class="n" cx="1310.2" cy="801.2" r="5.5"/><circle class="f" cx="1250.9" cy="830.9" r="5.5"/><circle class="s" cx="1250.9" cy="976.7" r="5.5"/><circle class="f" cx="1171.8" cy="972.4" r="5.5"/><circle class="s" cx="1163.1" cy="968.8" r="5.5"/><circle class="f" cx="1259.4" cy="722.7" r="5.5"/><circle class="n" cx="1250.9" cy="990.2" r="5.5"/><circle class="f" cx="1181.9" cy="1017.5" r="5.5"/><circle class="s" cx="1338.5" cy="809.0" r="5.5"/><circle class="f" cx="1382.1" cy="716.1" r="5.5"/><circle class="s" cx="1240.8" cy="671.8" r="5.5"/><circle class="n" cx="1268.7" cy="905.9" r="5.5"/><circle class="s" cx="1212.8" cy="945.9" r="5.5"/><circle class="n" cx="1230.6" cy="802.1" r="5.5"/><circle class="f" cx="1274.3" cy="921.6" r="5.5"/><circle class="f" cx="1310.2" cy="951.2" r="5.5"/><circle class="n" cx="1345.0" cy="1007.4" r="5.5"/><circle class="n" cx="1191.5" cy="928.6" r="5.5"/><circle class="s" cx="1370.3" cy="1019.2" r="5.5"/><circle class="f" cx="1191.9" cy="741.1" r="5.5"/><circle class="s" cx="1230.6" cy="815.1" r="5.5"/><circle class="f" cx="1236.7" cy="928.5" r="5.5"/><circle class="f" cx="1280.9" cy="839.6" r="5.5"/><circle class="s" cx="1163.1" cy="967.7" r="5.5"/><circle class="f" cx="1191.5" cy="983.1" r="5.5"/><circle class="s" cx="1171.8" cy="1019.2" r="5.5"/><circle class="f" cx="1170.6" cy="879.7" r="5.5"/><circle class="s" cx="1317.9" cy="816.9" r="5.5"/><circle class="n" cx="1240.8" cy="836.1" r="5.5"/><circle class="s" cx="1317.9" cy="973.9" r="5.5"/><circle class="s" cx="1170.6" cy="887.4" r="5.5"/><circle class="n" cx="1163.1" cy="952.0" r="5.5"/><circle class="n" cx="1170.6" cy="874.5" r="5.5"/><circle class="s" cx="1310.2" cy="764.6" r="5.5"/><circle class="f" cx="1163.1" cy="909.8" r="5.5"/><circle class="s" cx="1274.3" cy="845.8" r="5.5"/><circle class="n" cx="1181.9" cy="1014.0" r="5.5"/><circle class="s" cx="1371.7" cy="884.1" r="5.5"/><circle class="s" cx="1230.6" cy="743.7" r="5.5"/><circle class="s" cx="1181.9" cy="979.7" r="5.5"/><circle class="n" cx="1217.2" cy="1029.7" r="5.5"/><circle class="s" cx="1345.0" cy="860.5" r="5.5"/><circle class="s" cx="1217.2" cy="960.8" r="5.5"/><circle class="f" cx="1240.8" cy="844.8" r="5.5"/><circle class="f" cx="1171.8" cy="969.7" r="5.5"/><circle class="f" cx="1371.7" cy="850.0" r="5.5"/><circle class="n" cx="1171.8" cy="1019.2" r="5.5"/><circle class="f" cx="1191.5" cy="947.0" r="5.5"/><circle class="n" cx="1310.2" cy="956.4" r="5.5"/><circle class="n" cx="1170.6" cy="822.1" r="5.5"/><circle class="s" cx="1181.9" cy="937.6" r="5.5"/><circle class="n" cx="1259.4" cy="659.9" r="5.5"/><circle class="s" cx="1250.9" cy="984.0" r="5.5"/><circle class="f" cx="1310.2" cy="883.2" r="5.5"/><circle class="s" cx="1171.8" cy="933.8" r="5.5"/><circle class="n" cx="1163.1" cy="964.6" r="5.5"/><circle class="n" cx="1163.1" cy="943.4" r="5.5"/><circle class="n" cx="1191.5" cy="900.7" r="5.5"/><circle class="n" cx="1240.8" cy="865.8" r="5.5"/><circle class="n" cx="1338.1" cy="963.4" r="5.5"/><circle class="f" cx="1230.6" cy="737.6" r="5.5"/><circle class="f" cx="1258.6" cy="897.2" r="5.5"/><circle class="f" cx="1191.5" cy="984.2" r="5.5"/><circle class="f" cx="1310.2" cy="736.7" r="5.5"/><circle class="s" cx="1191.5" cy="949.1" r="5.5"/><circle class="f" cx="1230.6" cy="728.0" r="5.5"/><circle class="f" cx="1191.5" cy="867.5" r="5.5"/><circle class="n" cx="1317.9" cy="945.9" r="5.5"/><circle class="s" cx="1240.8" cy="748.9" r="5.5"/><circle class="f" cx="1268.7" cy="911.1" r="5.5"/><circle class="s" cx="1217.7" cy="745.4" r="5.5"/><circle class="f" cx="1240.8" cy="721.0" r="5.5"/><circle class="n" cx="1212.8" cy="1015.8" r="5.5"/><circle class="f" cx="1191.5" cy="979.8" r="5.5"/><circle class="n" cx="1176.2" cy="876.2" r="5.5"/><circle class="s" cx="1181.9" cy="958.3" r="5.5"/><circle class="s" cx="1274.3" cy="727.1" r="5.5"/><circle class="f" cx="1274.3" cy="805.3" r="5.5"/><circle class="n" cx="1163.1" cy="939.1" r="5.5"/><circle class="f" cx="1212.8" cy="963.4" r="5.5"/><circle class="s" cx="1170.6" cy="867.5" r="5.5"/><circle class="n" cx="1258.6" cy="821.3" r="5.5"/><circle class="n" cx="1274.3" cy="833.5" r="5.5"/><circle class="n" cx="1371.7" cy="829.1" r="5.5"/><circle class="s" cx="1310.2" cy="984.3" r="5.5"/><circle class="n" cx="1310.2" cy="961.7" r="5.5"/><circle class="n" cx="1258.6" cy="907.6" r="5.5"/><circle class="f" cx="1250.9" cy="953.2" r="5.5"/><circle class="s" cx="1370.3" cy="926.7" r="5.5"/><circle class="n" cx="1217.7" cy="756.8" r="5.5"/><circle class="f" cx="1370.3" cy="976.5" r="5.5"/><circle class="n" cx="1236.7" cy="981.7" r="5.5"/><circle class="n" cx="1371.7" cy="804.7" r="5.5"/><circle class="f" cx="1370.3" cy="1027.1" r="5.5"/><circle class="f" cx="1310.2" cy="919.9" r="5.5"/><circle class="f" cx="1191.5" cy="975.3" r="5.5"/><circle class="n" cx="1317.9" cy="1015.8" r="5.5"/><circle class="f" cx="1258.6" cy="881.5" r="5.5"/><circle class="n" cx="1182.3" cy="912.9" r="5.5"/><circle class="n" cx="1370.3" cy="966.0" r="5.5"/><circle class="s" cx="1191.5" cy="906.4" r="5.5"/><circle class="n" cx="1170.6" cy="817.8" r="5.5"/><circle class="s" cx="1171.8" cy="941.3" r="5.5"/><circle class="s" cx="1259.4" cy="735.8" r="5.5"/><circle class="n" cx="1250.9" cy="864.0" r="5.5"/><circle class="n" cx="1171.8" cy="966.3" r="5.5"/><circle class="f" cx="1338.5" cy="916.4" r="5.5"/><circle class="f" cx="1317.9" cy="963.4" r="5.5"/><circle class="s" cx="1280.9" cy="876.2" r="5.5"/><circle class="f" cx="1274.3" cy="836.1" r="5.5"/><circle class="n" cx="1382.1" cy="819.5" r="5.5"/><circle class="f" cx="1170.6" cy="895.4" r="5.5"/><circle class="s" cx="1191.5" cy="955.6" r="5.5"/><circle class="s" cx="1382.1" cy="826.5" r="5.5"/><circle class="s" cx="1274.3" cy="740.2" r="5.5"/><circle class="n" cx="1168.3" cy="770.7" r="5.5"/><circle class="f" cx="1317.9" cy="947.7" r="5.5"/><circle class="n" cx="1274.3" cy="760.3" r="5.5"/><circle class="f" cx="1191.5" cy="987.1" r="5.5"/><circle class="s" cx="1250.9" cy="970.7" r="5.5"/><circle class="f" cx="1345.0" cy="904.2" r="5.5"/><circle class="f" cx="1310.2" cy="1000.0" r="5.5"/><circle class="f" cx="1171.8" cy="956.9" r="5.5"/><circle class="n" cx="1163.1" cy="998.3" r="5.5"/><circle class="s" cx="1258.6" cy="838.7" r="5.5"/><circle class="n" cx="1235.5" cy="914.6" r="5.5"/><circle class="s" cx="1310.2" cy="752.4" r="5.5"/><circle class="f" cx="1258.6" cy="813.4" r="5.5"/><circle class="n" cx="1217.7" cy="657.3" r="5.5"/><circle class="n" cx="1261.7" cy="1029.4" r="5.5"/><circle class="s" cx="1240.8" cy="780.3" r="5.5"/><circle class="n" cx="1163.1" cy="902.4" r="5.5"/><circle class="f" cx="1176.2" cy="897.2" r="5.5"/><circle class="s" cx="1274.3" cy="832.6" r="5.5"/><circle class="s" cx="1191.5" cy="984.8" r="5.5"/><circle class="s" cx="1195.0" cy="775.0" r="5.5"/><circle class="n" cx="1163.1" cy="962.7" r="5.5"/><circle class="n" cx="1181.9" cy="964.4" r="5.5"/><circle class="s" cx="1212.8" cy="959.9" r="5.5"/><circle class="s" cx="1250.9" cy="967.5" r="5.5"/><circle class="n" cx="1163.1" cy="857.0" r="5.5"/><circle class="n" cx="1163.1" cy="931.3" r="5.5"/><circle class="f" cx="1163.1" cy="841.3" r="5.5"/><circle class="n" cx="1163.1" cy="1019.2" r="5.5"/><circle class="f" cx="1310.2" cy="792.5" r="5.5"/><circle class="n" cx="1181.9" cy="943.3" r="5.5"/><circle class="s" cx="1170.6" cy="883.1" r="5.5"/><circle class="s" cx="1310.2" cy="878.0" r="5.5"/><circle class="n" cx="1240.8" cy="858.8" r="5.5"/><circle class="n" cx="1171.8" cy="980.3" r="5.5"/><circle class="s" cx="1250.9" cy="983.1" r="5.5"/><circle class="s" cx="1163.1" cy="919.9" r="5.5"/><circle class="s" cx="1280.9" cy="911.1" r="5.5"/><circle class="s" cx="1310.2" cy="1008.8" r="5.5"/><circle class="s" cx="1195.0" cy="717.2" r="5.5"/><circle class="n" cx="1274.3" cy="769.9" r="5.5"/><circle class="n" cx="1171.8" cy="933.0" r="5.5"/><circle class="s" cx="1207.9" cy="731.5" r="5.5"/><circle class="s" cx="1258.6" cy="782.9" r="5.5"/><circle class="n" cx="1230.6" cy="702.7" r="5.5"/><circle class="n" cx="1363.6" cy="739.3" r="5.5"/><circle class="f" cx="1371.7" cy="816.9" r="5.5"/><circle class="n" cx="1207.9" cy="830.0" r="5.5"/><circle class="n" cx="1181.9" cy="976.5" r="5.5"/><circle class="s" cx="1191.5" cy="911.1" r="5.5"/><circle class="f" cx="1363.6" cy="670.7" r="5.5"/><circle class="n" cx="1212.8" cy="975.6" r="5.5"/><circle class="s" cx="1278.3" cy="1003.5" r="5.5"/><circle class="n" cx="1258.6" cy="845.5" r="5.5"/><circle class="n" cx="1191.5" cy="844.8" r="5.5"/><circle class="f" cx="1217.7" cy="679.1" r="5.5"/><circle class="f" cx="1212.8" cy="1019.2" r="5.5"/><circle class="n" cx="1163.1" cy="865.8" r="5.5"/><circle class="f" cx="1274.3" cy="815.1" r="5.5"/><circle class="f" cx="1240.8" cy="650.3" r="5.5"/><circle class="n" cx="1181.9" cy="971.7" r="5.5"/><circle class="f" cx="1250.9" cy="931.2" r="5.5"/><circle class="n" cx="1274.3" cy="886.7" r="5.5"/><circle class="s" cx="1371.7" cy="904.2" r="5.5"/><circle class="f" cx="1207.9" cy="643.3" r="5.5"/><circle class="f" cx="1163.1" cy="907.6" r="5.5"/><circle class="n" cx="1171.8" cy="965.6" r="5.5"/><circle class="n" cx="1310.2" cy="769.9" r="5.5"/><circle class="f" cx="1278.3" cy="997.4" r="5.5"/><circle class="n" cx="1250.9" cy="975.1" r="5.5"/><circle class="s" cx="1163.1" cy="925.2" r="5.5"/><circle class="n" cx="1240.8" cy="839.6" r="5.5"/><circle class="f" cx="1217.2" cy="939.0" r="5.5"/><circle class="s" cx="1217.2" cy="928.5" r="5.5"/><circle class="s" cx="1217.7" cy="698.3" r="5.5"/><circle class="f" cx="1163.1" cy="990.0" r="5.5"/><circle class="s" cx="1217.7" cy="843.1" r="5.5"/><circle class="f" cx="1250.9" cy="960.4" r="5.5"/><circle class="f" cx="1163.1" cy="878.7" r="5.5"/><circle class="n" cx="1191.5" cy="950.4" r="5.5"/><circle class="n" cx="1258.6" cy="835.1" r="5.5"/><circle class="n" cx="1259.4" cy="750.7" r="5.5"/><circle class="f" cx="1240.8" cy="832.6" r="5.5"/><circle class="n" cx="1163.1" cy="940.4" r="5.5"/><circle class="f" cx="1259.4" cy="736.7" r="5.5"/><circle class="s" cx="1382.1" cy="810.8" r="5.5"/><circle class="s" cx="1163.1" cy="986.1" r="5.5"/><circle class="n" cx="1310.2" cy="818.6" r="5.5"/><circle class="n" cx="1191.5" cy="964.2" r="5.5"/><circle class="f" cx="1280.9" cy="827.4" r="5.5"/><circle class="s" cx="1230.6" cy="697.4" r="5.5"/><circle class="n" cx="1250.9" cy="998.6" r="5.5"/><circle class="f" cx="1217.7" cy="721.0" r="5.5"/><circle class="n" cx="1207.9" cy="720.1" r="5.5"/><circle class="s" cx="1191.5" cy="927.3" r="5.5"/><circle class="n" cx="1310.2" cy="886.7" r="5.5"/><circle class="n" cx="1261.7" cy="1000.0" r="5.5"/><circle class="f" cx="1250.9" cy="1027.1" r="5.5"/><circle class="f" cx="1170.6" cy="796.8" r="5.5"/><circle class="s" cx="1163.1" cy="880.1" r="5.5"/><circle class="f" cx="1163.1" cy="873.4" r="5.5"/><circle class="n" cx="1345.0" cy="874.5" r="5.5"/><circle class="s" cx="1258.6" cy="830.9" r="5.5"/><circle class="n" cx="1363.6" cy="729.7" r="5.5"/><circle class="f" cx="1163.1" cy="957.4" r="5.5"/><circle class="f" cx="1250.9" cy="971.9" r="5.5"/><circle class="f" cx="1268.7" cy="736.7" r="5.5"/><circle class="n" cx="1170.6" cy="911.1" r="5.5"/><circle class="n" cx="1250.9" cy="948.9" r="5.5"/><circle class="s" cx="1250.9" cy="976.0" r="5.5"/><circle class="n" cx="1317.9" cy="886.7" r="5.5"/><circle class="f" cx="1261.7" cy="947.7" r="5.5"/><circle class="f" cx="1274.3" cy="771.6" r="5.5"/><circle class="s" cx="1363.6" cy="747.2" r="5.5"/><circle class="s" cx="1265.2" cy="788.1" r="5.5"/><circle class="s" cx="1163.1" cy="971.6" r="5.5"/><circle class="n" cx="1317.9" cy="961.7" r="5.5"/><circle class="f" cx="1235.5" cy="907.6" r="5.5"/><circle class="f" cx="1345.0" cy="932.9" r="5.5"/><circle class="s" cx="1280.9" cy="893.7" r="5.5"/><circle class="f" cx="1259.4" cy="640.7" r="5.5"/><circle class="f" cx="1345.0" cy="954.7" r="5.5"/><circle class="n" cx="1217.2" cy="984.3" r="5.5"/><circle class="s" cx="1259.4" cy="670.4" r="5.5"/><circle class="s" cx="1191.5" cy="887.5" r="5.5"/><circle class="s" cx="1181.9" cy="939.2" r="5.5"/><circle class="n" cx="1268.7" cy="909.4" r="5.5"/><circle class="s" cx="1261.7" cy="1007.9" r="5.5"/><circle class="n" cx="1274.3" cy="795.9" r="5.5"/><circle class="s" cx="1317.9" cy="959.9" r="5.5"/><circle class="n" cx="1259.4" cy="747.2" r="5.5"/><circle class="n" cx="1191.5" cy="950.9" r="5.5"/><circle class="n" cx="1171.8" cy="929.5" r="5.5"/><circle class="n" cx="1280.9" cy="890.2" r="5.5"/><circle class="s" cx="1250.9" cy="969.4" r="5.5"/><circle class="f" cx="1236.7" cy="1025.4" r="5.5"/><circle class="f" cx="1181.9" cy="945.9" r="5.5"/><circle class="n" cx="1317.9" cy="895.4" r="5.5"/><circle class="f" cx="1259.4" cy="726.2" r="5.5"/><circle class="f" cx="1250.9" cy="844.8" r="5.5"/><circle class="n" cx="1170.6" cy="776.7" r="5.5"/><circle class="s" cx="1259.4" cy="675.6" r="5.5"/><circle class="n" cx="1236.7" cy="932.0" r="5.5"/><circle class="n" cx="1212.8" cy="1017.5" r="5.5"/><circle class="f" cx="1274.3" cy="893.7" r="5.5"/><circle class="s" cx="1240.8" cy="783.7" r="5.5"/><circle class="n" cx="1261.7" cy="982.6" r="5.5"/><circle class="f" cx="1261.7" cy="1012.3" r="5.5"/><circle class="n" cx="1163.1" cy="923.4" r="5.5"/><circle class="f" cx="1191.5" cy="931.7" r="5.5"/><circle class="f" cx="1318.4" cy="754.5" r="5.5"/><circle class="f" cx="1278.3" cy="986.1" r="5.5"/><circle class="f" cx="1170.6" cy="919.8" r="5.5"/><circle class="f" cx="1250.9" cy="938.9" r="5.5"/><circle class="f" cx="1163.1" cy="872.7" r="5.5"/><circle class="n" cx="1163.1" cy="916.4" r="5.5"/><circle class="s" cx="1272.2" cy="930.2" r="5.5"/><circle class="f" cx="1230.3" cy="945.6" r="5.5"/><circle class="s" cx="1250.9" cy="847.7" r="5.5"/><circle class="s" cx="1181.9" cy="945.2" r="5.5"/><circle class="f" cx="1345.0" cy="890.2" r="5.5"/><circle class="s" cx="1280.9" cy="837.8" r="5.5"/><circle class="n" cx="1163.1" cy="972.3" r="5.5"/><circle class="f" cx="1181.9" cy="1003.5" r="5.5"/><circle class="n" cx="1363.6" cy="736.7" r="5.5"/><circle class="f" cx="1240.8" cy="741.1" r="5.5"/><circle class="s" cx="1195.0" cy="771.6" r="5.5"/><circle class="s" cx="1191.5" cy="959.0" r="5.5"/><circle class="s" cx="1250.9" cy="932.7" r="5.5"/><circle class="n" cx="1280.9" cy="904.2" r="5.5"/><circle class="s" cx="1181.9" cy="958.6" r="5.5"/><circle class="n" cx="1191.5" cy="996.5" r="5.5"/><circle class="n" cx="1274.3" cy="777.6" r="5.5"/><circle class="n" cx="1250.9" cy="886.7" r="5.5"/><circle class="n" cx="1274.3" cy="809.9" r="5.5"/><circle class="n" cx="1217.7" cy="760.3" r="5.5"/><circle class="f" cx="1181.9" cy="1021.0" r="5.5"/><circle class="f" cx="1345.0" cy="916.4" r="5.5"/><circle class="n" cx="1235.5" cy="857.0" r="5.5"/><circle class="f" cx="1310.2" cy="800.3" r="5.5"/><circle class="f" cx="1163.1" cy="897.2" r="5.5"/><circle class="s" cx="1345.0" cy="938.1" r="5.5"/><circle class="s" cx="1235.5" cy="871.0" r="5.5"/><circle class="n" cx="1181.9" cy="938.3" r="5.5"/><circle class="f" cx="1181.9" cy="977.6" r="5.5"/><circle class="s" cx="1310.2" cy="832.6" r="5.5"/><circle class="s" cx="1181.9" cy="943.5" r="5.5"/><circle class="s" cx="1182.3" cy="905.9" r="5.5"/><circle class="n" cx="1240.8" cy="801.2" r="5.5"/><circle class="s" cx="1163.1" cy="866.0" r="5.5"/><circle class="n" cx="1181.9" cy="962.6" r="5.5"/><circle class="s" cx="1171.8" cy="960.0" r="5.5"/><circle class="s" cx="1170.6" cy="907.6" r="5.5"/><circle class="f" cx="1317.9" cy="904.2" r="5.5"/><circle class="n" cx="1217.7" cy="639.0" r="5.5"/><circle class="f" cx="1371.7" cy="868.4" r="5.5"/><circle class="f" cx="1259.4" cy="715.8" r="5.5"/><circle class="n" cx="1259.4" cy="682.6" r="5.5"/><circle class="s" cx="1274.3" cy="801.2" r="5.5"/><circle class="f" cx="1274.3" cy="788.7" r="5.5"/><circle class="s" cx="1240.8" cy="857.5" r="5.5"/><circle class="n" cx="1310.2" cy="759.4" r="5.5"/><circle class="f" cx="1310.2" cy="851.8" r="5.5"/><circle class="s" cx="1191.5" cy="928.5" r="5.5"/><circle class="s" cx="1259.4" cy="646.8" r="5.5"/><circle class="s" cx="1363.6" cy="703.0" r="5.5"/><circle class="n" cx="1261.7" cy="991.3" r="5.5"/><circle class="s" cx="1191.5" cy="855.3" r="5.5"/><circle class="s" cx="1240.8" cy="701.8" r="5.5"/><circle class="f" cx="1240.8" cy="823.9" r="5.5"/><circle class="s" cx="1317.9" cy="876.2" r="5.5"/>
</g>
<g fill="none" stroke-width="5.6" stroke-linecap="butt">
<line x1="188.6" y1="406.4" x2="392.6" y2="347.4" stroke="#F05653"/>
<line x1="188.6" y1="410.3" x2="392.6" y2="338.2" stroke="#1AAA30"/>
<line x1="188.6" y1="410.3" x2="392.6" y2="334.6" stroke="#4A7DF3"/>
<line x1="649.4" y1="426.6" x2="957.5" y2="326.8" stroke="#F05653"/>
<line x1="649.4" y1="419.6" x2="957.5" y2="316.4" stroke="#1AAA30"/>
<line x1="649.4" y1="404.1" x2="957.5" y2="307.9" stroke="#4A7DF3"/>
<line x1="1137" y1="435.9" x2="1402.9" y2="346.7" stroke="#F05653"/>
<line x1="1137" y1="435.1" x2="1402.9" y2="325.2" stroke="#1AAA30"/>
<line x1="1123.6" y1="406.4" x2="1402.9" y2="328.0" stroke="#4A7DF3"/>
<line x1="144.8" y1="880.6" x2="384.5" y2="880.2" stroke="#F05653"/>
<line x1="144.8" y1="881.0" x2="384.5" y2="866.2" stroke="#1AAA30"/>
<line x1="144.8" y1="844.1" x2="384.5" y2="872.0" stroke="#4A7DF3"/>
<line x1="596.3" y1="901.6" x2="804.6" y2="858.4" stroke="#F05653"/>
<line x1="596.3" y1="898.5" x2="804.6" y2="855.0" stroke="#1AAA30"/>
<line x1="596.3" y1="883.8" x2="804.6" y2="849.8" stroke="#4A7DF3"/>
<line x1="1164.3" y1="896.8" x2="1382.1" y2="857.4" stroke="#F05653"/>
<line x1="1164.3" y1="893.8" x2="1382.1" y2="855.3" stroke="#1AAA30"/>
<line x1="1164.3" y1="888.9" x2="1382.1" y2="842.6" stroke="#4A7DF3"/>
</g>
<g fill="none" stroke="#2e2e2e" stroke-width="1.7" stroke-linejoin="round">
<rect x="63.5" y="124.1" width="486.5" height="445.6"/>
<rect x="558.4" y="124.1" width="486.5" height="445.6"/>
<rect x="1053.2" y="124.1" width="486.5" height="445.6"/>
<rect x="63.5" y="614.8" width="486.5" height="445.6"/>
<rect x="558.4" y="614.8" width="486.5" height="445.6"/>
<rect x="1053.2" y="614.8" width="486.5" height="445.6"/>
</g>
<g stroke="#303030" stroke-width="2.6">
<line x1="59.3" x2="63.5" y1="550.0" y2="550.0"/>
<line x1="59.3" x2="63.5" y1="414.5" y2="414.5"/>
<line x1="59.3" x2="63.5" y1="279.0" y2="279.0"/>
<line x1="59.3" x2="63.5" y1="143.5" y2="143.5"/>
<line x1="59.3" x2="63.5" y1="1041.0" y2="1041.0"/>
<line x1="59.3" x2="63.5" y1="905.5" y2="905.5"/>
<line x1="59.3" x2="63.5" y1="770.0" y2="770.0"/>
<line x1="59.3" x2="63.5" y1="634.5" y2="634.5"/>
<line x1="173.3" x2="173.3" y1="1060.4" y2="1064.6000000000001"/>
<line x1="315.1" x2="315.1" y1="1060.4" y2="1064.6000000000001"/>
<line x1="457.0" x2="457.0" y1="1060.4" y2="1064.6000000000001"/>
<line x1="668.1" x2="668.1" y1="1060.4" y2="1064.6000000000001"/>
<line x1="809.9" x2="809.9" y1="1060.4" y2="1064.6000000000001"/>
<line x1="951.8" x2="951.8" y1="1060.4" y2="1064.6000000000001"/>
<line x1="1162.9" x2="1162.9" y1="1060.4" y2="1064.6000000000001"/>
<line x1="1304.7" x2="1304.7" y1="1060.4" y2="1064.6000000000001"/>
<line x1="1446.6" x2="1446.6" y1="1060.4" y2="1064.6000000000001"/>
</g>
<g fill="#2b2b2b" font-size="32.6px">
<text x="55.3" y="561.7" text-anchor="end">0</text>
<text x="55.3" y="426.2" text-anchor="end">1</text>
<text x="55.3" y="290.7" text-anchor="end">2</text>
<text x="55.3" y="155.2" text-anchor="end">3</text>
<text x="55.3" y="1052.7" text-anchor="end">0</text>
<text x="55.3" y="917.2" text-anchor="end">1</text>
<text x="55.3" y="781.7" text-anchor="end">2</text>
<text x="55.3" y="646.2" text-anchor="end">3</text>
<text x="173.3" y="1091" text-anchor="middle">2.0</text>
<text x="315.1" y="1091" text-anchor="middle">2.4</text>
<text x="457.0" y="1091" text-anchor="middle">2.8</text>
<text x="668.1" y="1091" text-anchor="middle">2.0</text>
<text x="809.9" y="1091" text-anchor="middle">2.4</text>
<text x="951.8" y="1091" text-anchor="middle">2.8</text>
<text x="1162.9" y="1091" text-anchor="middle">2.0</text>
<text x="1304.7" y="1091" text-anchor="middle">2.4</text>
<text x="1446.6" y="1091" text-anchor="middle">2.8</text>
</g>
<g fill="#1a1a1a" font-size="33px" text-anchor="middle">
<text x="306.8" y="116.5">CES</text>
<text x="801.6" y="116.5">DEU</text>
<text x="1296.5" y="116.5">ENG</text>
<text x="306.8" y="607.2">FIN</text>
<text x="801.6" y="607.2">FRA</text>
<text x="1296.5" y="607.2">POL</text>
</g>
<g fill="#000" font-size="29.3px">
<text y="180.9"><tspan x="89.3">r</tspan><tspan x="106.0" font-size="26px">=</tspan><tspan x="128.6">0.23</tspan></text>
<text y="180.9"><tspan x="593.3">r</tspan><tspan x="610.0" font-size="26px">=</tspan><tspan x="632.6">0.3</tspan></text>
<text y="180.9"><tspan x="1079.3">r</tspan><tspan x="1096.0" font-size="26px">=</tspan><tspan x="1118.6">0.26</tspan></text>
<text y="671.6"><tspan x="78.3">r</tspan><tspan x="95.0" font-size="26px">=</tspan><tspan x="118.6" font-size="26px">−</tspan><tspan x="138.6">0.01</tspan></text>
<text y="671.6"><tspan x="584.3">r</tspan><tspan x="601.0" font-size="26px">=</tspan><tspan x="623.6">0.18</tspan></text>
<text y="671.6"><tspan x="1079.3">r</tspan><tspan x="1096.0" font-size="26px">=</tspan><tspan x="1118.6">0.12</tspan></text>
</g>
<g fill="#000" font-size="33px" text-anchor="middle">
<text x="800.8" y="1121.7">log(BI-PHONE SURPRISAL X|X-1)</text>
<text transform="translate(31.9,592.3) rotate(-90)">EUCLIDEAN DISTANCE</text>
</g>
<g>
<line x1="590.0" x2="627.9" y1="26.8" y2="26.8" stroke="#F05653" stroke-width="5.6"/>
<circle cx="609.0" cy="26.8" r="9.8" fill="none" stroke="#F05653" stroke-width="1.8"/>
<text x="637.5" y="38.4" font-size="32.8px" fill="#000">fast</text>
<line x1="701.9" x2="739.6" y1="26.8" y2="26.8" stroke="#1AAA30" stroke-width="5.6"/>
<circle cx="720.8" cy="26.8" r="9.8" fill="none" stroke="#1AAA30" stroke-width="1.8"/>
<text x="750.6" y="38.4" font-size="32.8px" fill="#000">normal</text>
<line x1="861.1" x2="898.5" y1="26.8" y2="26.8" stroke="#4A7DF3" stroke-width="5.6"/>
<circle cx="879.8" cy="26.8" r="9.8" fill="none" stroke="#4A7DF3" stroke-width="1.8"/>
<text x="908.6" y="38.4" font-size="32.8px" fill="#000">slow</text>
</g>
</svg>
</body></html>
